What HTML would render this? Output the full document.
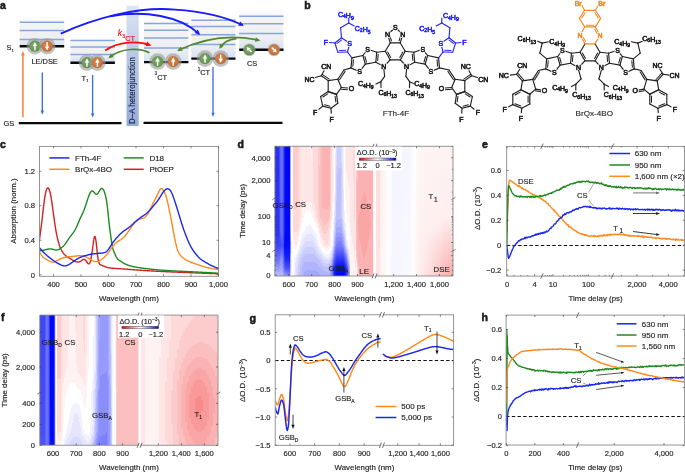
<!DOCTYPE html>
<html><head><meta charset="utf-8"><style>
html,body{margin:0;padding:0;background:#fff;width:685px;height:472px;overflow:hidden}
svg{display:block;will-change:transform}
svg{font-family:"Liberation Sans", sans-serif}
</style></head><body>
<svg width="685" height="472" viewBox="0 0 685 472">
<defs>
<clipPath id="clipc"><rect x="39.5" y="146.4" width="179" height="129.9"/></clipPath>
<clipPath id="clipe"><rect x="506.7" y="146.4" width="177.8" height="129.7"/></clipPath>
<clipPath id="clipg"><rect x="275.2" y="314.8" width="178.4" height="130.5"/></clipPath>
<clipPath id="cliph"><rect x="506.1" y="315.1" width="178.5" height="129.9"/></clipPath>
</defs>
<defs><linearGradient id="boxg" x1="0" y1="0" x2="0" y2="1"><stop offset="0" stop-color="#ffffff"/><stop offset="0.25" stop-color="#f4f4f5"/><stop offset="0.7" stop-color="#eeeff1"/><stop offset="1" stop-color="#d6e2f3"/></linearGradient><radialGradient id="gg" cx="0.45" cy="0.45" r="0.6"><stop offset="0" stop-color="#86b472"/><stop offset="1" stop-color="#5a8a48"/></radialGradient><radialGradient id="og" cx="0.45" cy="0.45" r="0.6"><stop offset="0" stop-color="#e08a4e"/><stop offset="1" stop-color="#b86a36"/></radialGradient><linearGradient id="dag" x1="0" y1="0" x2="0" y2="1"><stop offset="0" stop-color="#dde6f4"/><stop offset="0.4" stop-color="#bac9e8"/><stop offset="1" stop-color="#94addd"/></linearGradient></defs>
<text x="0" y="9.2" font-size="10.5" fill="#231f20" font-weight="bold" stroke="#111" stroke-width="0.5">a</text>
<rect x="126.5" y="5.6" width="12.2" height="120.5" fill="url(#dag)"/>
<text x="135.3" y="90.55" font-size="8.2" text-anchor="middle" fill="#16203a" transform="rotate(-90 135.3 90.55)" textLength="66.7" lengthAdjust="spacingAndGlyphs" stroke="#16203a" stroke-width="0.15">D–A heterojunction</text>
<line x1="18.8" y1="123.1" x2="121.5" y2="123.1" stroke="#0a0a0a" stroke-width="2.2"/>
<line x1="143.5" y1="122.8" x2="282.5" y2="122.8" stroke="#0a0a0a" stroke-width="2.2"/>
<text x="3.6" y="126" font-size="7.4" fill="#231f20" stroke="#231f20" stroke-width="0.16">GS</text>
<rect x="19.7" y="16.5" width="44.5" height="29.8" fill="url(#boxg)"/>
<line x1="19.7" y1="22.2" x2="64.2" y2="22.2" stroke="#88a6de" stroke-width="1.5"/>
<line x1="19.7" y1="30.5" x2="64.2" y2="30.5" stroke="#88a6de" stroke-width="1.5"/>
<line x1="19.7" y1="39.5" x2="64.2" y2="39.5" stroke="#88a6de" stroke-width="1.5"/>
<line x1="19.7" y1="46.3" x2="64.2" y2="46.3" stroke="#0a0a0a" stroke-width="2.4"/>
<rect x="70.4" y="37" width="44.5" height="25.7" fill="url(#boxg)"/>
<line x1="70.4" y1="40.4" x2="114.9" y2="40.4" stroke="#88a6de" stroke-width="1.5"/>
<line x1="70.4" y1="47.1" x2="114.9" y2="47.1" stroke="#88a6de" stroke-width="1.5"/>
<line x1="70.4" y1="54.5" x2="114.9" y2="54.5" stroke="#88a6de" stroke-width="1.5"/>
<line x1="70.4" y1="62.7" x2="114.9" y2="62.7" stroke="#0a0a0a" stroke-width="2.4"/>
<rect x="144" y="17" width="44.4" height="45.1" fill="url(#boxg)"/>
<line x1="144" y1="23.6" x2="188.4" y2="23.6" stroke="#88a6de" stroke-width="1.5"/>
<line x1="144" y1="30.3" x2="188.4" y2="30.3" stroke="#88a6de" stroke-width="1.5"/>
<line x1="144" y1="38.1" x2="188.4" y2="38.1" stroke="#88a6de" stroke-width="1.5"/>
<line x1="144" y1="48.1" x2="188.4" y2="48.1" stroke="#88a6de" stroke-width="1.5"/>
<line x1="144" y1="62.1" x2="188.4" y2="62.1" stroke="#0a0a0a" stroke-width="2.4"/>
<rect x="191.3" y="13" width="44.2" height="45.6" fill="url(#boxg)"/>
<line x1="191.3" y1="20.3" x2="235.5" y2="20.3" stroke="#88a6de" stroke-width="1.5"/>
<line x1="191.3" y1="26.6" x2="235.5" y2="26.6" stroke="#88a6de" stroke-width="1.5"/>
<line x1="191.3" y1="34.8" x2="235.5" y2="34.8" stroke="#88a6de" stroke-width="1.5"/>
<line x1="191.3" y1="44.5" x2="235.5" y2="44.5" stroke="#88a6de" stroke-width="1.5"/>
<line x1="191.3" y1="58.6" x2="235.5" y2="58.6" stroke="#0a0a0a" stroke-width="2.4"/>
<rect x="239.2" y="8" width="44.3" height="41.7" fill="url(#boxg)"/>
<line x1="239.2" y1="16.2" x2="283.5" y2="16.2" stroke="#88a6de" stroke-width="1.5"/>
<line x1="239.2" y1="23.8" x2="283.5" y2="23.8" stroke="#88a6de" stroke-width="1.5"/>
<line x1="239.2" y1="33.6" x2="283.5" y2="33.6" stroke="#88a6de" stroke-width="1.5"/>
<line x1="239.2" y1="49.7" x2="283.5" y2="49.7" stroke="#0a0a0a" stroke-width="2.4"/>
<text x="6.5" y="50.3" font-size="7.4" fill="#231f20" stroke="#231f20" stroke-width="0.16">S</text>
<text x="11.6" y="52.2" font-size="4.4" fill="#231f20" stroke="#231f20" stroke-width="0.16">1</text>
<line x1="22.9" y1="117.2" x2="22.9" y2="54.52" stroke="#f0884a" stroke-width="1.6"/>
<path d="M22.9 51 L24.8 55.4 L21 55.4Z" fill="#f0884a"/>
<line x1="42.3" y1="72.4" x2="42.3" y2="111.44" stroke="#3d6fd6" stroke-width="1.35"/>
<path d="M42.3 114.8 L40.6 110.6 L44 110.6Z" fill="#3d6fd6"/>
<line x1="92.6" y1="74.9" x2="92.6" y2="114.24" stroke="#3d6fd6" stroke-width="1.35"/>
<path d="M92.6 117.6 L90.9 113.4 L94.3 113.4Z" fill="#3d6fd6"/>
<line x1="213" y1="67" x2="213" y2="113.64" stroke="#3d6fd6" stroke-width="1.35"/>
<path d="M213 117 L211.3 112.8 L214.7 112.8Z" fill="#3d6fd6"/>
<circle cx="34.9" cy="46.2" r="8.3" fill="#9c9c9c" fill-opacity="0.62"/>
<circle cx="34.9" cy="46.2" r="5.6" fill="url(#gg)"/>
<path d="M34.9 41.9 L37 46 L35.6 46 L35.6 50.4 L34.2 50.4 L34.2 46 L32.8 46Z" fill="#fff"/>
<circle cx="47.1" cy="46.2" r="8.3" fill="#9c9c9c" fill-opacity="0.62"/>
<circle cx="47.1" cy="46.2" r="5.6" fill="url(#og)"/>
<path d="M47.1 50.5 L49.2 46.4 L47.8 46.4 L47.8 42 L46.4 42 L46.4 46.4 L45 46.4Z" fill="#fff"/>
<circle cx="87" cy="62.6" r="8.3" fill="#9c9c9c" fill-opacity="0.62"/>
<circle cx="87" cy="62.6" r="5.6" fill="url(#gg)"/>
<path d="M87 58.3 L89.1 62.4 L87.7 62.4 L87.7 66.8 L86.3 66.8 L86.3 62.4 L84.9 62.4Z" fill="#fff"/>
<circle cx="97.4" cy="62.6" r="8.3" fill="#9c9c9c" fill-opacity="0.62"/>
<circle cx="97.4" cy="62.6" r="5.6" fill="url(#og)"/>
<path d="M97.4 58.3 L99.5 62.4 L98.1 62.4 L98.1 66.8 L96.7 66.8 L96.7 62.4 L95.3 62.4Z" fill="#fff"/>
<circle cx="157.6" cy="61.6" r="8.3" fill="#9c9c9c" fill-opacity="0.62"/>
<circle cx="157.6" cy="61.6" r="5.6" fill="url(#gg)"/>
<path d="M157.6 57.3 L159.7 61.4 L158.3 61.4 L158.3 65.8 L156.9 65.8 L156.9 61.4 L155.5 61.4Z" fill="#fff"/>
<circle cx="173.2" cy="61.6" r="8.3" fill="#9c9c9c" fill-opacity="0.62"/>
<circle cx="173.2" cy="61.6" r="5.6" fill="url(#og)"/>
<path d="M173.2 57.3 L175.3 61.4 L173.9 61.4 L173.9 65.8 L172.5 65.8 L172.5 61.4 L171.1 61.4Z" fill="#fff"/>
<circle cx="205" cy="58.6" r="8.3" fill="#9c9c9c" fill-opacity="0.62"/>
<circle cx="205" cy="58.6" r="5.6" fill="url(#gg)"/>
<path d="M205 54.3 L207.1 58.4 L205.7 58.4 L205.7 62.8 L204.3 62.8 L204.3 58.4 L202.9 58.4Z" fill="#fff"/>
<circle cx="220.7" cy="58.6" r="8.3" fill="#9c9c9c" fill-opacity="0.62"/>
<circle cx="220.7" cy="58.6" r="5.6" fill="url(#og)"/>
<path d="M220.7 62.9 L222.8 58.8 L221.4 58.8 L221.4 54.4 L220 54.4 L220 58.8 L218.6 58.8Z" fill="#fff"/>
<circle cx="249.3" cy="49.8" r="6.4" fill="#9c9c9c" fill-opacity="0.62"/>
<circle cx="249.3" cy="49.8" r="5.5" fill="url(#gg)"/>
<line x1="251.6" y1="52.1" x2="249.03" y2="49.53" stroke="#fff" stroke-width="1.47"/>
<path d="M246.59 47.09 L250.55 48.13 L247.63 51.05Z" fill="#fff"/>
<circle cx="274" cy="49.8" r="6.4" fill="#9c9c9c" fill-opacity="0.62"/>
<circle cx="274" cy="49.8" r="5.5" fill="url(#og)"/>
<line x1="271.7" y1="47.5" x2="274.27" y2="50.07" stroke="#fff" stroke-width="1.47"/>
<path d="M276.71 52.51 L272.75 51.47 L275.67 48.55Z" fill="#fff"/>
<text x="31.5" y="63.8" font-size="7.4" fill="#231f20" stroke="#231f20" stroke-width="0.16">LE/DSE</text>
<text x="81.5" y="80.6" font-size="7.4" fill="#231f20" stroke="#231f20" stroke-width="0.16">T</text>
<text x="86.2" y="82.4" font-size="4.4" fill="#231f20" stroke="#231f20" stroke-width="0.16">1</text>
<text x="154.5" y="75" font-size="4.8" fill="#231f20" stroke="#231f20" stroke-width="0.16">3</text>
<text x="157.2" y="79.6" font-size="7.4" fill="#231f20" stroke="#231f20" stroke-width="0.16">CT</text>
<text x="197.8" y="70.5" font-size="4.8" fill="#231f20" stroke="#231f20" stroke-width="0.16">1</text>
<text x="200.2" y="75.3" font-size="7.4" fill="#231f20" stroke="#231f20" stroke-width="0.16">CT</text>
<text x="247" y="65.6" font-size="7.4" fill="#231f20" stroke="#231f20" stroke-width="0.16">CS</text>
<path d="M60.8 33.6 C95 18 140 6 175 9.6" fill="none" stroke="#1a1aff" stroke-width="1.9"/>
<path d="M175 9.6 C205 11.5 226 17 242.5 25.2" fill="none" stroke="#1a1aff" stroke-width="1.9"/>
<path d="M243.84 25.87 L238.12 25.7 L240.25 21.4Z" fill="#1a1aff"/>
<path d="M110 16.2 C145 10 180 16 199 33.9" fill="none" stroke="#1a1aff" stroke-width="1.9"/>
<path d="M200.09 34.93 L194.66 33.11 L197.95 29.62Z" fill="#1a1aff"/>
<path d="M105.3 50.6 C118 41 139 40.8 149.9 45.1" fill="none" stroke="#f51010" stroke-width="1.9"/>
<path d="M151.3 45.65 L145.58 45.97 L147.34 41.51Z" fill="#f51010"/>
<text x="117.8" y="36.4" font-size="8.4" fill="#f51010" font-style="italic" stroke="#f51010" stroke-width="0.16">k</text>
<text x="122.2" y="37.9" font-size="5.5" fill="#f51010" stroke="#f51010" stroke-width="0.16">3</text>
<text x="125.2" y="40.8" font-size="7.4" fill="#f51010" stroke="#f51010" stroke-width="0.16">CT</text>
<path d="M149.5 52.8 C140 47.5 121 47.8 109.6 57.4" fill="none" stroke="#4f8a2e" stroke-width="1.7"/>
<path d="M108.45 58.37 L110.8 53.39 L113.76 56.9Z" fill="#4f8a2e"/>
<path d="M178.5 50.3 C200 40 227 33 258.8 40.3" fill="none" stroke="#4f8a2e" stroke-width="1.7"/>
<path d="M260.26 40.64 L254.87 41.76 L255.9 37.28Z" fill="#4f8a2e"/>
<path d="M177.15 50.95 L180.66 46.71 L182.65 50.86Z" fill="#4f8a2e"/>
<path d="M236.5 38.6 C228 39.5 222.5 43.5 220.2 47.8" fill="none" stroke="#4f8a2e" stroke-width="1.7"/>
<path d="M219.49 49.12 L219.82 43.63 L223.88 45.8Z" fill="#4f8a2e"/>
<text x="304.3" y="8.9" font-size="10.5" fill="#231f20" font-weight="bold" stroke="#111" stroke-width="0.5">b</text>
<line x1="390.3" y1="42.8" x2="385.3" y2="51.2" stroke="#231f20" stroke-width="1.15" stroke-linecap="round"/>
<line x1="385.3" y1="51.2" x2="390.1" y2="59.8" stroke="#231f20" stroke-width="1.15" stroke-linecap="round"/>
<line x1="387.65" y1="51.92" x2="390.72" y2="57.42" stroke="#231f20" stroke-width="1.03" stroke-linecap="round"/>
<line x1="390.1" y1="59.8" x2="383.9" y2="66.5" stroke="#231f20" stroke-width="1.15" stroke-linecap="round"/>
<line x1="383.9" y1="66.5" x2="375.8" y2="62.2" stroke="#231f20" stroke-width="1.15" stroke-linecap="round"/>
<line x1="375.8" y1="62.2" x2="376.7" y2="52.2" stroke="#231f20" stroke-width="1.15" stroke-linecap="round"/>
<line x1="377.66" y1="60.55" x2="378.23" y2="54.15" stroke="#231f20" stroke-width="1.03" stroke-linecap="round"/>
<line x1="376.7" y1="52.2" x2="385.3" y2="51.2" stroke="#231f20" stroke-width="1.15" stroke-linecap="round"/>
<line x1="376.7" y1="52.2" x2="367.7" y2="49.3" stroke="#231f20" stroke-width="1.15" stroke-linecap="round"/>
<line x1="367.7" y1="49.3" x2="362.9" y2="55.5" stroke="#231f20" stroke-width="1.15" stroke-linecap="round"/>
<line x1="362.9" y1="55.5" x2="365.3" y2="64.1" stroke="#231f20" stroke-width="1.15" stroke-linecap="round"/>
<line x1="364.97" y1="56.59" x2="366.51" y2="62.1" stroke="#231f20" stroke-width="1.03" stroke-linecap="round"/>
<line x1="365.3" y1="64.1" x2="375.8" y2="62.2" stroke="#231f20" stroke-width="1.15" stroke-linecap="round"/>
<line x1="362.9" y1="55.5" x2="351.9" y2="57.9" stroke="#231f20" stroke-width="1.15" stroke-linecap="round"/>
<line x1="351.9" y1="57.9" x2="351" y2="67.9" stroke="#231f20" stroke-width="1.15" stroke-linecap="round"/>
<line x1="353.43" y1="59.85" x2="352.86" y2="66.25" stroke="#231f20" stroke-width="1.03" stroke-linecap="round"/>
<line x1="351" y1="67.9" x2="359.6" y2="71.7" stroke="#231f20" stroke-width="1.15" stroke-linecap="round"/>
<line x1="359.6" y1="71.7" x2="365.3" y2="64.1" stroke="#231f20" stroke-width="1.15" stroke-linecap="round"/>
<text x="383.9" y="69" font-size="7" text-anchor="middle" fill="#231f20" stroke="#fff" stroke-width="2.2" paint-order="stroke" stroke-linejoin="round">N</text>
<text x="383.9" y="69" font-size="7" text-anchor="middle" fill="#231f20" stroke="#231f20" stroke-width="0.5">N</text>
<text x="367.7" y="51.8" font-size="7" text-anchor="middle" fill="#231f20" stroke="#fff" stroke-width="2.2" paint-order="stroke" stroke-linejoin="round">S</text>
<text x="367.7" y="51.8" font-size="7" text-anchor="middle" fill="#231f20" stroke="#231f20" stroke-width="0.5">S</text>
<text x="359.6" y="74.2" font-size="7" text-anchor="middle" fill="#231f20" stroke="#fff" stroke-width="2.2" paint-order="stroke" stroke-linejoin="round">S</text>
<text x="359.6" y="74.2" font-size="7" text-anchor="middle" fill="#231f20" stroke="#231f20" stroke-width="0.5">S</text>
<line x1="351" y1="67.9" x2="344" y2="70" stroke="#231f20" stroke-width="1.15" stroke-linecap="round"/>
<line x1="344" y1="70" x2="337.8" y2="79.3" stroke="#231f20" stroke-width="1.15" stroke-linecap="round"/>
<line x1="345.1" y1="71.41" x2="339.52" y2="79.78" stroke="#231f20" stroke-width="1.03" stroke-linecap="round"/>
<line x1="337.8" y1="79.3" x2="328.2" y2="80.6" stroke="#231f20" stroke-width="1.15" stroke-linecap="round"/>
<line x1="328.2" y1="80.6" x2="328.2" y2="91.6" stroke="#231f20" stroke-width="1.15" stroke-linecap="round"/>
<line x1="328.2" y1="91.6" x2="336.5" y2="94.4" stroke="#231f20" stroke-width="1.15" stroke-linecap="round"/>
<line x1="336.5" y1="94.4" x2="341.3" y2="87.5" stroke="#231f20" stroke-width="1.15" stroke-linecap="round"/>
<line x1="341.3" y1="87.5" x2="337.8" y2="79.3" stroke="#231f20" stroke-width="1.15" stroke-linecap="round"/>
<line x1="341.3" y1="87.5" x2="347.76" y2="88.01" stroke="#231f20" stroke-width="1.15" stroke-linecap="round"/>
<line x1="341.17" y1="89.19" x2="347.63" y2="89.71" stroke="#231f20" stroke-width="1.03" stroke-linecap="round"/>
<text x="351.4" y="90.8" font-size="7" text-anchor="middle" fill="#231f20" stroke="#fff" stroke-width="2.2" paint-order="stroke" stroke-linejoin="round">O</text>
<text x="351.4" y="90.8" font-size="7" text-anchor="middle" fill="#231f20" stroke="#231f20" stroke-width="0.5">O</text>
<line x1="328.2" y1="80.6" x2="321.3" y2="75.8" stroke="#231f20" stroke-width="1.15" stroke-linecap="round"/>
<line x1="329.17" y1="79.2" x2="322.27" y2="74.4" stroke="#231f20" stroke-width="1.03" stroke-linecap="round"/>
<line x1="321.3" y1="75.8" x2="324" y2="70.74" stroke="#231f20" stroke-width="1.15" stroke-linecap="round"/>
<line x1="321.3" y1="75.8" x2="315.45" y2="77.55" stroke="#231f20" stroke-width="1.15" stroke-linecap="round"/>
<line x1="328.2" y1="91.6" x2="336.5" y2="94.4" stroke="#231f20" stroke-width="1.15" stroke-linecap="round"/>
<line x1="336.5" y1="94.4" x2="337.8" y2="103.3" stroke="#231f20" stroke-width="1.15" stroke-linecap="round"/>
<line x1="335.05" y1="96.25" x2="335.88" y2="101.94" stroke="#231f20" stroke-width="1.03" stroke-linecap="round"/>
<line x1="337.8" y1="103.3" x2="331" y2="108.2" stroke="#231f20" stroke-width="1.15" stroke-linecap="round"/>
<line x1="331" y1="108.2" x2="322.7" y2="106.1" stroke="#231f20" stroke-width="1.15" stroke-linecap="round"/>
<line x1="329.92" y1="106.17" x2="324.61" y2="104.83" stroke="#231f20" stroke-width="1.03" stroke-linecap="round"/>
<line x1="322.7" y1="106.1" x2="320.6" y2="96.5" stroke="#231f20" stroke-width="1.15" stroke-linecap="round"/>
<line x1="320.6" y1="96.5" x2="328.2" y2="91.6" stroke="#231f20" stroke-width="1.15" stroke-linecap="round"/>
<line x1="322.89" y1="97.05" x2="327.75" y2="93.91" stroke="#231f20" stroke-width="1.03" stroke-linecap="round"/>
<line x1="322.7" y1="106.1" x2="318.9" y2="109.2" stroke="#231f20" stroke-width="1.15" stroke-linecap="round"/>
<line x1="331" y1="108.2" x2="331.27" y2="113.15" stroke="#231f20" stroke-width="1.15" stroke-linecap="round"/>
<text x="315.1" y="114.8" font-size="7" text-anchor="middle" fill="#231f20" stroke="#fff" stroke-width="2.2" paint-order="stroke" stroke-linejoin="round">F</text>
<text x="315.1" y="114.8" font-size="7" text-anchor="middle" fill="#231f20" stroke="#231f20" stroke-width="0.5">F</text>
<text x="331.6" y="121.7" font-size="7" text-anchor="middle" fill="#231f20" stroke="#fff" stroke-width="2.2" paint-order="stroke" stroke-linejoin="round">F</text>
<text x="331.6" y="121.7" font-size="7" text-anchor="middle" fill="#231f20" stroke="#231f20" stroke-width="0.5">F</text>
<line x1="400.2" y1="42.8" x2="405.2" y2="51.2" stroke="#231f20" stroke-width="1.15" stroke-linecap="round"/>
<line x1="405.2" y1="51.2" x2="400.4" y2="59.8" stroke="#231f20" stroke-width="1.15" stroke-linecap="round"/>
<line x1="402.85" y1="51.92" x2="399.78" y2="57.42" stroke="#231f20" stroke-width="1.03" stroke-linecap="round"/>
<line x1="400.4" y1="59.8" x2="406.6" y2="66.5" stroke="#231f20" stroke-width="1.15" stroke-linecap="round"/>
<line x1="406.6" y1="66.5" x2="414.7" y2="62.2" stroke="#231f20" stroke-width="1.15" stroke-linecap="round"/>
<line x1="414.7" y1="62.2" x2="413.8" y2="52.2" stroke="#231f20" stroke-width="1.15" stroke-linecap="round"/>
<line x1="412.84" y1="60.55" x2="412.27" y2="54.15" stroke="#231f20" stroke-width="1.03" stroke-linecap="round"/>
<line x1="413.8" y1="52.2" x2="405.2" y2="51.2" stroke="#231f20" stroke-width="1.15" stroke-linecap="round"/>
<line x1="413.8" y1="52.2" x2="422.8" y2="49.3" stroke="#231f20" stroke-width="1.15" stroke-linecap="round"/>
<line x1="422.8" y1="49.3" x2="427.6" y2="55.5" stroke="#231f20" stroke-width="1.15" stroke-linecap="round"/>
<line x1="427.6" y1="55.5" x2="425.2" y2="64.1" stroke="#231f20" stroke-width="1.15" stroke-linecap="round"/>
<line x1="425.53" y1="56.59" x2="423.99" y2="62.1" stroke="#231f20" stroke-width="1.03" stroke-linecap="round"/>
<line x1="425.2" y1="64.1" x2="414.7" y2="62.2" stroke="#231f20" stroke-width="1.15" stroke-linecap="round"/>
<line x1="427.6" y1="55.5" x2="438.6" y2="57.9" stroke="#231f20" stroke-width="1.15" stroke-linecap="round"/>
<line x1="438.6" y1="57.9" x2="439.5" y2="67.9" stroke="#231f20" stroke-width="1.15" stroke-linecap="round"/>
<line x1="437.07" y1="59.85" x2="437.64" y2="66.25" stroke="#231f20" stroke-width="1.03" stroke-linecap="round"/>
<line x1="439.5" y1="67.9" x2="430.9" y2="71.7" stroke="#231f20" stroke-width="1.15" stroke-linecap="round"/>
<line x1="430.9" y1="71.7" x2="425.2" y2="64.1" stroke="#231f20" stroke-width="1.15" stroke-linecap="round"/>
<text x="406.6" y="69" font-size="7" text-anchor="middle" fill="#231f20" stroke="#fff" stroke-width="2.2" paint-order="stroke" stroke-linejoin="round">N</text>
<text x="406.6" y="69" font-size="7" text-anchor="middle" fill="#231f20" stroke="#231f20" stroke-width="0.5">N</text>
<text x="422.8" y="51.8" font-size="7" text-anchor="middle" fill="#231f20" stroke="#fff" stroke-width="2.2" paint-order="stroke" stroke-linejoin="round">S</text>
<text x="422.8" y="51.8" font-size="7" text-anchor="middle" fill="#231f20" stroke="#231f20" stroke-width="0.5">S</text>
<text x="430.9" y="74.2" font-size="7" text-anchor="middle" fill="#231f20" stroke="#fff" stroke-width="2.2" paint-order="stroke" stroke-linejoin="round">S</text>
<text x="430.9" y="74.2" font-size="7" text-anchor="middle" fill="#231f20" stroke="#231f20" stroke-width="0.5">S</text>
<line x1="439.5" y1="67.9" x2="449" y2="70" stroke="#231f20" stroke-width="1.15" stroke-linecap="round"/>
<line x1="449" y1="70" x2="455.2" y2="79.3" stroke="#231f20" stroke-width="1.15" stroke-linecap="round"/>
<line x1="447.9" y1="71.41" x2="453.48" y2="79.78" stroke="#231f20" stroke-width="1.03" stroke-linecap="round"/>
<line x1="455.2" y1="79.3" x2="464.8" y2="80.6" stroke="#231f20" stroke-width="1.15" stroke-linecap="round"/>
<line x1="464.8" y1="80.6" x2="464.8" y2="91.6" stroke="#231f20" stroke-width="1.15" stroke-linecap="round"/>
<line x1="464.8" y1="91.6" x2="456.5" y2="94.4" stroke="#231f20" stroke-width="1.15" stroke-linecap="round"/>
<line x1="456.5" y1="94.4" x2="451.7" y2="87.5" stroke="#231f20" stroke-width="1.15" stroke-linecap="round"/>
<line x1="451.7" y1="87.5" x2="455.2" y2="79.3" stroke="#231f20" stroke-width="1.15" stroke-linecap="round"/>
<line x1="451.7" y1="87.5" x2="445.24" y2="88.01" stroke="#231f20" stroke-width="1.15" stroke-linecap="round"/>
<line x1="451.83" y1="89.19" x2="445.37" y2="89.71" stroke="#231f20" stroke-width="1.03" stroke-linecap="round"/>
<text x="441.6" y="90.8" font-size="7" text-anchor="middle" fill="#231f20" stroke="#fff" stroke-width="2.2" paint-order="stroke" stroke-linejoin="round">O</text>
<text x="441.6" y="90.8" font-size="7" text-anchor="middle" fill="#231f20" stroke="#231f20" stroke-width="0.5">O</text>
<line x1="464.8" y1="80.6" x2="471.7" y2="75.8" stroke="#231f20" stroke-width="1.15" stroke-linecap="round"/>
<line x1="463.83" y1="79.2" x2="470.73" y2="74.4" stroke="#231f20" stroke-width="1.03" stroke-linecap="round"/>
<line x1="471.7" y1="75.8" x2="469" y2="70.74" stroke="#231f20" stroke-width="1.15" stroke-linecap="round"/>
<line x1="471.7" y1="75.8" x2="477.55" y2="77.55" stroke="#231f20" stroke-width="1.15" stroke-linecap="round"/>
<line x1="464.8" y1="91.6" x2="456.5" y2="94.4" stroke="#231f20" stroke-width="1.15" stroke-linecap="round"/>
<line x1="456.5" y1="94.4" x2="455.2" y2="103.3" stroke="#231f20" stroke-width="1.15" stroke-linecap="round"/>
<line x1="457.95" y1="96.25" x2="457.12" y2="101.94" stroke="#231f20" stroke-width="1.03" stroke-linecap="round"/>
<line x1="455.2" y1="103.3" x2="462" y2="108.2" stroke="#231f20" stroke-width="1.15" stroke-linecap="round"/>
<line x1="462" y1="108.2" x2="470.3" y2="106.1" stroke="#231f20" stroke-width="1.15" stroke-linecap="round"/>
<line x1="463.08" y1="106.17" x2="468.39" y2="104.83" stroke="#231f20" stroke-width="1.03" stroke-linecap="round"/>
<line x1="470.3" y1="106.1" x2="472.4" y2="96.5" stroke="#231f20" stroke-width="1.15" stroke-linecap="round"/>
<line x1="472.4" y1="96.5" x2="464.8" y2="91.6" stroke="#231f20" stroke-width="1.15" stroke-linecap="round"/>
<line x1="470.11" y1="97.05" x2="465.25" y2="93.91" stroke="#231f20" stroke-width="1.03" stroke-linecap="round"/>
<line x1="470.3" y1="106.1" x2="474.1" y2="109.2" stroke="#231f20" stroke-width="1.15" stroke-linecap="round"/>
<line x1="462" y1="108.2" x2="461.73" y2="113.15" stroke="#231f20" stroke-width="1.15" stroke-linecap="round"/>
<text x="477.9" y="114.8" font-size="7" text-anchor="middle" fill="#231f20" stroke="#fff" stroke-width="2.2" paint-order="stroke" stroke-linejoin="round">F</text>
<text x="477.9" y="114.8" font-size="7" text-anchor="middle" fill="#231f20" stroke="#231f20" stroke-width="0.5">F</text>
<text x="461.4" y="121.7" font-size="7" text-anchor="middle" fill="#231f20" stroke="#fff" stroke-width="2.2" paint-order="stroke" stroke-linejoin="round">F</text>
<text x="461.4" y="121.7" font-size="7" text-anchor="middle" fill="#231f20" stroke="#231f20" stroke-width="0.5">F</text>
<line x1="390.3" y1="42.8" x2="400.2" y2="42.8" stroke="#231f20" stroke-width="1.15" stroke-linecap="round"/>
<line x1="390.1" y1="59.8" x2="400.4" y2="59.8" stroke="#231f20" stroke-width="1.15" stroke-linecap="round"/>
<line x1="390.3" y1="42.8" x2="387.6" y2="34.3" stroke="#231f20" stroke-width="1.15" stroke-linecap="round"/>
<line x1="391.43" y1="40.76" x2="389.71" y2="35.32" stroke="#231f20" stroke-width="1.03" stroke-linecap="round"/>
<line x1="400.2" y1="42.8" x2="402.9" y2="34.3" stroke="#231f20" stroke-width="1.15" stroke-linecap="round"/>
<line x1="399.07" y1="40.76" x2="400.79" y2="35.32" stroke="#231f20" stroke-width="1.03" stroke-linecap="round"/>
<line x1="387.6" y1="34.3" x2="395.25" y2="27.8" stroke="#231f20" stroke-width="1.15" stroke-linecap="round"/>
<line x1="402.9" y1="34.3" x2="395.25" y2="27.8" stroke="#231f20" stroke-width="1.15" stroke-linecap="round"/>
<text x="387.6" y="36.8" font-size="7" text-anchor="middle" fill="#231f20" stroke="#fff" stroke-width="2.2" paint-order="stroke" stroke-linejoin="round">N</text>
<text x="387.6" y="36.8" font-size="7" text-anchor="middle" fill="#231f20" stroke="#231f20" stroke-width="0.5">N</text>
<text x="402.9" y="36.8" font-size="7" text-anchor="middle" fill="#231f20" stroke="#fff" stroke-width="2.2" paint-order="stroke" stroke-linejoin="round">N</text>
<text x="402.9" y="36.8" font-size="7" text-anchor="middle" fill="#231f20" stroke="#231f20" stroke-width="0.5">N</text>
<text x="395.25" y="30.3" font-size="7" text-anchor="middle" fill="#231f20" stroke="#fff" stroke-width="2.2" paint-order="stroke" stroke-linejoin="round">S</text>
<text x="395.25" y="30.3" font-size="7" text-anchor="middle" fill="#231f20" stroke="#231f20" stroke-width="0.5">S</text>
<line x1="351.9" y1="57.9" x2="347.5" y2="52" stroke="#2626ff" stroke-width="1.15" stroke-linecap="round"/>
<line x1="347.5" y1="52" x2="349.7" y2="43.2" stroke="#2626ff" stroke-width="1.15" stroke-linecap="round"/>
<line x1="349.7" y1="43.2" x2="341.5" y2="37.8" stroke="#2626ff" stroke-width="1.15" stroke-linecap="round"/>
<line x1="341.5" y1="37.8" x2="334.9" y2="43" stroke="#2626ff" stroke-width="1.15" stroke-linecap="round"/>
<line x1="341.36" y1="40.07" x2="337.14" y2="43.4" stroke="#2626ff" stroke-width="1.03" stroke-linecap="round"/>
<line x1="334.9" y1="43" x2="337.8" y2="52.2" stroke="#2626ff" stroke-width="1.15" stroke-linecap="round"/>
<line x1="337.8" y1="52.2" x2="347.5" y2="52" stroke="#2626ff" stroke-width="1.15" stroke-linecap="round"/>
<line x1="339.51" y1="50.46" x2="345.72" y2="50.34" stroke="#2626ff" stroke-width="1.03" stroke-linecap="round"/>
<text x="349.7" y="45.7" font-size="7" text-anchor="middle" fill="#2626ff" stroke="#fff" stroke-width="2.2" paint-order="stroke" stroke-linejoin="round">S</text>
<text x="349.7" y="45.7" font-size="7" text-anchor="middle" fill="#2626ff" stroke="#2626ff" stroke-width="0.5">S</text>
<line x1="334.9" y1="43" x2="329.5" y2="42.5" stroke="#2626ff" stroke-width="1.15" stroke-linecap="round"/>
<text x="326" y="44.7" font-size="7" text-anchor="middle" fill="#2626ff" stroke="#fff" stroke-width="2.2" paint-order="stroke" stroke-linejoin="round">F</text>
<text x="326" y="44.7" font-size="7" text-anchor="middle" fill="#2626ff" stroke="#2626ff" stroke-width="0.5">F</text>
<line x1="341.5" y1="37.8" x2="340.6" y2="27.8" stroke="#2626ff" stroke-width="1.15" stroke-linecap="round"/>
<line x1="340.6" y1="27.8" x2="348.7" y2="23" stroke="#2626ff" stroke-width="1.15" stroke-linecap="round"/>
<line x1="348.7" y1="23" x2="348.7" y2="18" stroke="#2626ff" stroke-width="1.15" stroke-linecap="round"/>
<line x1="348.7" y1="23" x2="354.3" y2="26" stroke="#2626ff" stroke-width="1.15" stroke-linecap="round"/>
<line x1="438.6" y1="57.9" x2="443" y2="52" stroke="#2626ff" stroke-width="1.15" stroke-linecap="round"/>
<line x1="443" y1="52" x2="440.8" y2="43.2" stroke="#2626ff" stroke-width="1.15" stroke-linecap="round"/>
<line x1="440.8" y1="43.2" x2="449" y2="37.8" stroke="#2626ff" stroke-width="1.15" stroke-linecap="round"/>
<line x1="449" y1="37.8" x2="455.6" y2="43" stroke="#2626ff" stroke-width="1.15" stroke-linecap="round"/>
<line x1="449.14" y1="40.07" x2="453.36" y2="43.4" stroke="#2626ff" stroke-width="1.03" stroke-linecap="round"/>
<line x1="455.6" y1="43" x2="452.7" y2="52.2" stroke="#2626ff" stroke-width="1.15" stroke-linecap="round"/>
<line x1="452.7" y1="52.2" x2="443" y2="52" stroke="#2626ff" stroke-width="1.15" stroke-linecap="round"/>
<line x1="450.99" y1="50.46" x2="444.78" y2="50.34" stroke="#2626ff" stroke-width="1.03" stroke-linecap="round"/>
<text x="440.8" y="45.7" font-size="7" text-anchor="middle" fill="#2626ff" stroke="#fff" stroke-width="2.2" paint-order="stroke" stroke-linejoin="round">S</text>
<text x="440.8" y="45.7" font-size="7" text-anchor="middle" fill="#2626ff" stroke="#2626ff" stroke-width="0.5">S</text>
<line x1="455.6" y1="43" x2="461" y2="42.5" stroke="#2626ff" stroke-width="1.15" stroke-linecap="round"/>
<text x="464.5" y="44.7" font-size="7" text-anchor="middle" fill="#2626ff" stroke="#fff" stroke-width="2.2" paint-order="stroke" stroke-linejoin="round">F</text>
<text x="464.5" y="44.7" font-size="7" text-anchor="middle" fill="#2626ff" stroke="#2626ff" stroke-width="0.5">F</text>
<line x1="449" y1="37.8" x2="449.9" y2="27.8" stroke="#2626ff" stroke-width="1.15" stroke-linecap="round"/>
<line x1="449.9" y1="27.8" x2="441.8" y2="23" stroke="#2626ff" stroke-width="1.15" stroke-linecap="round"/>
<line x1="441.8" y1="23" x2="441.8" y2="18" stroke="#2626ff" stroke-width="1.15" stroke-linecap="round"/>
<line x1="441.8" y1="23" x2="436.2" y2="26" stroke="#2626ff" stroke-width="1.15" stroke-linecap="round"/>
<text x="338" y="16.6" font-size="7" fill="#2626ff" stroke="#fff" stroke-width="1.6" paint-order="stroke" stroke-linejoin="round">C<tspan font-size="5.0" dy="1.6">4</tspan><tspan dy="-1.6"></tspan>H<tspan font-size="5.0" dy="1.6">9</tspan><tspan dy="-1.6"></tspan></text>
<text x="338" y="16.6" font-size="7" fill="#2626ff" stroke="#2626ff" stroke-width="0.5">C<tspan font-size="5.0" dy="1.6">4</tspan><tspan dy="-1.6"></tspan>H<tspan font-size="5.0" dy="1.6">9</tspan><tspan dy="-1.6"></tspan></text>
<text x="354.8" y="30.8" font-size="7" fill="#2626ff" stroke="#fff" stroke-width="1.6" paint-order="stroke" stroke-linejoin="round">C<tspan font-size="5.0" dy="1.6">2</tspan><tspan dy="-1.6"></tspan>H<tspan font-size="5.0" dy="1.6">5</tspan><tspan dy="-1.6"></tspan></text>
<text x="354.8" y="30.8" font-size="7" fill="#2626ff" stroke="#2626ff" stroke-width="0.5">C<tspan font-size="5.0" dy="1.6">2</tspan><tspan dy="-1.6"></tspan>H<tspan font-size="5.0" dy="1.6">5</tspan><tspan dy="-1.6"></tspan></text>
<text x="443" y="18.1" font-size="7" fill="#2626ff" stroke="#fff" stroke-width="1.6" paint-order="stroke" stroke-linejoin="round">C<tspan font-size="5.0" dy="1.6">4</tspan><tspan dy="-1.6"></tspan>H<tspan font-size="5.0" dy="1.6">9</tspan><tspan dy="-1.6"></tspan></text>
<text x="443" y="18.1" font-size="7" fill="#2626ff" stroke="#2626ff" stroke-width="0.5">C<tspan font-size="5.0" dy="1.6">4</tspan><tspan dy="-1.6"></tspan>H<tspan font-size="5.0" dy="1.6">9</tspan><tspan dy="-1.6"></tspan></text>
<text x="419.3" y="30.8" font-size="7" fill="#2626ff" stroke="#fff" stroke-width="1.6" paint-order="stroke" stroke-linejoin="round">C<tspan font-size="5.0" dy="1.6">2</tspan><tspan dy="-1.6"></tspan>H<tspan font-size="5.0" dy="1.6">5</tspan><tspan dy="-1.6"></tspan></text>
<text x="419.3" y="30.8" font-size="7" fill="#2626ff" stroke="#2626ff" stroke-width="0.5">C<tspan font-size="5.0" dy="1.6">2</tspan><tspan dy="-1.6"></tspan>H<tspan font-size="5.0" dy="1.6">5</tspan><tspan dy="-1.6"></tspan></text>
<line x1="383.9" y1="69.3" x2="384.6" y2="76.3" stroke="#231f20" stroke-width="1.15" stroke-linecap="round"/>
<line x1="384.6" y1="76.3" x2="380.9" y2="81.7" stroke="#231f20" stroke-width="1.15" stroke-linecap="round"/>
<line x1="380.9" y1="81.7" x2="376" y2="84" stroke="#231f20" stroke-width="1.15" stroke-linecap="round"/>
<line x1="380.9" y1="81.7" x2="381" y2="87.6" stroke="#231f20" stroke-width="1.15" stroke-linecap="round"/>
<line x1="406.6" y1="69.3" x2="405.9" y2="76.3" stroke="#231f20" stroke-width="1.15" stroke-linecap="round"/>
<line x1="405.9" y1="76.3" x2="409.6" y2="81.7" stroke="#231f20" stroke-width="1.15" stroke-linecap="round"/>
<line x1="409.6" y1="81.7" x2="414.5" y2="84" stroke="#231f20" stroke-width="1.15" stroke-linecap="round"/>
<line x1="409.6" y1="81.7" x2="409.5" y2="87.6" stroke="#231f20" stroke-width="1.15" stroke-linecap="round"/>
<text x="357.9" y="85.9" font-size="7" fill="#231f20" stroke="#fff" stroke-width="1.6" paint-order="stroke" stroke-linejoin="round">C<tspan font-size="5.0" dy="1.6">4</tspan><tspan dy="-1.6"></tspan>H<tspan font-size="5.0" dy="1.6">9</tspan><tspan dy="-1.6"></tspan></text>
<text x="357.9" y="85.9" font-size="7" fill="#231f20" stroke="#231f20" stroke-width="0.5">C<tspan font-size="5.0" dy="1.6">4</tspan><tspan dy="-1.6"></tspan>H<tspan font-size="5.0" dy="1.6">9</tspan><tspan dy="-1.6"></tspan></text>
<text x="378.4" y="94.5" font-size="7" fill="#231f20" stroke="#fff" stroke-width="1.6" paint-order="stroke" stroke-linejoin="round">C<tspan font-size="5.0" dy="1.6">6</tspan><tspan dy="-1.6"></tspan>H<tspan font-size="5.0" dy="1.6">13</tspan><tspan dy="-1.6"></tspan></text>
<text x="378.4" y="94.5" font-size="7" fill="#231f20" stroke="#231f20" stroke-width="0.5">C<tspan font-size="5.0" dy="1.6">6</tspan><tspan dy="-1.6"></tspan>H<tspan font-size="5.0" dy="1.6">13</tspan><tspan dy="-1.6"></tspan></text>
<text x="414.2" y="85.9" font-size="7" fill="#231f20" stroke="#fff" stroke-width="1.6" paint-order="stroke" stroke-linejoin="round">C<tspan font-size="5.0" dy="1.6">4</tspan><tspan dy="-1.6"></tspan>H<tspan font-size="5.0" dy="1.6">9</tspan><tspan dy="-1.6"></tspan></text>
<text x="414.2" y="85.9" font-size="7" fill="#231f20" stroke="#231f20" stroke-width="0.5">C<tspan font-size="5.0" dy="1.6">4</tspan><tspan dy="-1.6"></tspan>H<tspan font-size="5.0" dy="1.6">9</tspan><tspan dy="-1.6"></tspan></text>
<text x="405.4" y="94.5" font-size="7" fill="#231f20" stroke="#fff" stroke-width="1.6" paint-order="stroke" stroke-linejoin="round">C<tspan font-size="5.0" dy="1.6">6</tspan><tspan dy="-1.6"></tspan>H<tspan font-size="5.0" dy="1.6">13</tspan><tspan dy="-1.6"></tspan></text>
<text x="405.4" y="94.5" font-size="7" fill="#231f20" stroke="#231f20" stroke-width="0.5">C<tspan font-size="5.0" dy="1.6">6</tspan><tspan dy="-1.6"></tspan>H<tspan font-size="5.0" dy="1.6">13</tspan><tspan dy="-1.6"></tspan></text>
<text x="321.3" y="69.2" font-size="7" fill="#231f20" stroke="#fff" stroke-width="1.6" paint-order="stroke" stroke-linejoin="round">CN</text>
<text x="321.3" y="69.2" font-size="7" fill="#231f20" stroke="#231f20" stroke-width="0.5">CN</text>
<text x="304.5" y="81.8" font-size="7" fill="#231f20" stroke="#fff" stroke-width="1.6" paint-order="stroke" stroke-linejoin="round">NC</text>
<text x="304.5" y="81.8" font-size="7" fill="#231f20" stroke="#231f20" stroke-width="0.5">NC</text>
<text x="460.8" y="69.2" font-size="7" fill="#231f20" stroke="#fff" stroke-width="1.6" paint-order="stroke" stroke-linejoin="round">NC</text>
<text x="460.8" y="69.2" font-size="7" fill="#231f20" stroke="#231f20" stroke-width="0.5">NC</text>
<text x="478.2" y="81.8" font-size="7" fill="#231f20" stroke="#fff" stroke-width="1.6" paint-order="stroke" stroke-linejoin="round">CN</text>
<text x="478.2" y="81.8" font-size="7" fill="#231f20" stroke="#231f20" stroke-width="0.5">CN</text>
<text x="382.7" y="115.9" font-size="8.1" fill="#2a2a2a" stroke="#2a2a2a" stroke-width="0.16">FTh-4F</text>
<line x1="585.05" y1="43.8" x2="580.05" y2="52.2" stroke="#231f20" stroke-width="1.15" stroke-linecap="round"/>
<line x1="580.05" y1="52.2" x2="584.85" y2="60.8" stroke="#231f20" stroke-width="1.15" stroke-linecap="round"/>
<line x1="582.4" y1="52.92" x2="585.47" y2="58.42" stroke="#231f20" stroke-width="1.03" stroke-linecap="round"/>
<line x1="584.85" y1="60.8" x2="578.65" y2="67.5" stroke="#231f20" stroke-width="1.15" stroke-linecap="round"/>
<line x1="578.65" y1="67.5" x2="570.55" y2="63.2" stroke="#231f20" stroke-width="1.15" stroke-linecap="round"/>
<line x1="570.55" y1="63.2" x2="571.45" y2="53.2" stroke="#231f20" stroke-width="1.15" stroke-linecap="round"/>
<line x1="572.41" y1="61.55" x2="572.98" y2="55.15" stroke="#231f20" stroke-width="1.03" stroke-linecap="round"/>
<line x1="571.45" y1="53.2" x2="580.05" y2="52.2" stroke="#231f20" stroke-width="1.15" stroke-linecap="round"/>
<line x1="571.45" y1="53.2" x2="562.45" y2="50.3" stroke="#231f20" stroke-width="1.15" stroke-linecap="round"/>
<line x1="562.45" y1="50.3" x2="557.65" y2="56.5" stroke="#231f20" stroke-width="1.15" stroke-linecap="round"/>
<line x1="557.65" y1="56.5" x2="560.05" y2="65.1" stroke="#231f20" stroke-width="1.15" stroke-linecap="round"/>
<line x1="559.72" y1="57.59" x2="561.26" y2="63.1" stroke="#231f20" stroke-width="1.03" stroke-linecap="round"/>
<line x1="560.05" y1="65.1" x2="570.55" y2="63.2" stroke="#231f20" stroke-width="1.15" stroke-linecap="round"/>
<line x1="557.65" y1="56.5" x2="546.65" y2="58.9" stroke="#231f20" stroke-width="1.15" stroke-linecap="round"/>
<line x1="546.65" y1="58.9" x2="545.75" y2="68.9" stroke="#231f20" stroke-width="1.15" stroke-linecap="round"/>
<line x1="548.18" y1="60.85" x2="547.61" y2="67.25" stroke="#231f20" stroke-width="1.03" stroke-linecap="round"/>
<line x1="545.75" y1="68.9" x2="554.35" y2="72.7" stroke="#231f20" stroke-width="1.15" stroke-linecap="round"/>
<line x1="554.35" y1="72.7" x2="560.05" y2="65.1" stroke="#231f20" stroke-width="1.15" stroke-linecap="round"/>
<text x="578.65" y="70" font-size="7" text-anchor="middle" fill="#231f20" stroke="#fff" stroke-width="2.2" paint-order="stroke" stroke-linejoin="round">N</text>
<text x="578.65" y="70" font-size="7" text-anchor="middle" fill="#231f20" stroke="#231f20" stroke-width="0.5">N</text>
<text x="562.45" y="52.8" font-size="7" text-anchor="middle" fill="#231f20" stroke="#fff" stroke-width="2.2" paint-order="stroke" stroke-linejoin="round">S</text>
<text x="562.45" y="52.8" font-size="7" text-anchor="middle" fill="#231f20" stroke="#231f20" stroke-width="0.5">S</text>
<text x="554.35" y="75.2" font-size="7" text-anchor="middle" fill="#231f20" stroke="#fff" stroke-width="2.2" paint-order="stroke" stroke-linejoin="round">S</text>
<text x="554.35" y="75.2" font-size="7" text-anchor="middle" fill="#231f20" stroke="#231f20" stroke-width="0.5">S</text>
<line x1="545.75" y1="68.9" x2="538.4" y2="70.5" stroke="#231f20" stroke-width="1.15" stroke-linecap="round"/>
<line x1="538.4" y1="70.5" x2="532.8" y2="79.4" stroke="#231f20" stroke-width="1.15" stroke-linecap="round"/>
<line x1="539.56" y1="71.85" x2="534.52" y2="79.86" stroke="#231f20" stroke-width="1.03" stroke-linecap="round"/>
<line x1="532.8" y1="79.4" x2="522.4" y2="80.9" stroke="#231f20" stroke-width="1.15" stroke-linecap="round"/>
<line x1="522.4" y1="80.9" x2="520.9" y2="89.8" stroke="#231f20" stroke-width="1.15" stroke-linecap="round"/>
<line x1="520.9" y1="89.8" x2="529.8" y2="94.3" stroke="#231f20" stroke-width="1.15" stroke-linecap="round"/>
<line x1="529.8" y1="94.3" x2="535.7" y2="89.1" stroke="#231f20" stroke-width="1.15" stroke-linecap="round"/>
<line x1="535.7" y1="89.1" x2="532.8" y2="79.4" stroke="#231f20" stroke-width="1.15" stroke-linecap="round"/>
<line x1="535.7" y1="89.1" x2="541.27" y2="90.06" stroke="#231f20" stroke-width="1.15" stroke-linecap="round"/>
<line x1="535.41" y1="90.78" x2="540.98" y2="91.74" stroke="#231f20" stroke-width="1.03" stroke-linecap="round"/>
<text x="544.4" y="93.1" font-size="7" text-anchor="middle" fill="#231f20" stroke="#fff" stroke-width="2.2" paint-order="stroke" stroke-linejoin="round">O</text>
<text x="544.4" y="93.1" font-size="7" text-anchor="middle" fill="#231f20" stroke="#231f20" stroke-width="0.5">O</text>
<line x1="522.4" y1="80.9" x2="516.5" y2="74.3" stroke="#231f20" stroke-width="1.15" stroke-linecap="round"/>
<line x1="523.67" y1="79.77" x2="517.77" y2="73.17" stroke="#231f20" stroke-width="1.03" stroke-linecap="round"/>
<line x1="516.5" y1="74.3" x2="519.75" y2="69.24" stroke="#231f20" stroke-width="1.15" stroke-linecap="round"/>
<line x1="516.5" y1="74.3" x2="510.4" y2="75.1" stroke="#231f20" stroke-width="1.15" stroke-linecap="round"/>
<line x1="520.9" y1="89.8" x2="529.8" y2="94.3" stroke="#231f20" stroke-width="1.15" stroke-linecap="round"/>
<line x1="529.8" y1="94.3" x2="529.8" y2="103.9" stroke="#231f20" stroke-width="1.15" stroke-linecap="round"/>
<line x1="528.1" y1="96.03" x2="528.1" y2="102.17" stroke="#231f20" stroke-width="1.03" stroke-linecap="round"/>
<line x1="529.8" y1="103.9" x2="521.7" y2="108.3" stroke="#231f20" stroke-width="1.15" stroke-linecap="round"/>
<line x1="521.7" y1="108.3" x2="512.8" y2="104.6" stroke="#231f20" stroke-width="1.15" stroke-linecap="round"/>
<line x1="520.75" y1="106.06" x2="515.05" y2="103.7" stroke="#231f20" stroke-width="1.03" stroke-linecap="round"/>
<line x1="512.8" y1="104.6" x2="512.8" y2="94.3" stroke="#231f20" stroke-width="1.15" stroke-linecap="round"/>
<line x1="512.8" y1="94.3" x2="520.9" y2="89.8" stroke="#231f20" stroke-width="1.15" stroke-linecap="round"/>
<line x1="515.08" y1="94.98" x2="520.27" y2="92.1" stroke="#231f20" stroke-width="1.03" stroke-linecap="round"/>
<line x1="512.8" y1="104.6" x2="508.7" y2="106.85" stroke="#231f20" stroke-width="1.15" stroke-linecap="round"/>
<line x1="521.7" y1="108.3" x2="521.34" y2="112.66" stroke="#231f20" stroke-width="1.15" stroke-linecap="round"/>
<text x="504.6" y="111.6" font-size="7" text-anchor="middle" fill="#231f20" stroke="#fff" stroke-width="2.2" paint-order="stroke" stroke-linejoin="round">F</text>
<text x="504.6" y="111.6" font-size="7" text-anchor="middle" fill="#231f20" stroke="#231f20" stroke-width="0.5">F</text>
<text x="520.9" y="120.5" font-size="7" text-anchor="middle" fill="#231f20" stroke="#fff" stroke-width="2.2" paint-order="stroke" stroke-linejoin="round">F</text>
<text x="520.9" y="120.5" font-size="7" text-anchor="middle" fill="#231f20" stroke="#231f20" stroke-width="0.5">F</text>
<line x1="594.95" y1="43.8" x2="599.95" y2="52.2" stroke="#231f20" stroke-width="1.15" stroke-linecap="round"/>
<line x1="599.95" y1="52.2" x2="595.15" y2="60.8" stroke="#231f20" stroke-width="1.15" stroke-linecap="round"/>
<line x1="597.6" y1="52.92" x2="594.53" y2="58.42" stroke="#231f20" stroke-width="1.03" stroke-linecap="round"/>
<line x1="595.15" y1="60.8" x2="601.35" y2="67.5" stroke="#231f20" stroke-width="1.15" stroke-linecap="round"/>
<line x1="601.35" y1="67.5" x2="609.45" y2="63.2" stroke="#231f20" stroke-width="1.15" stroke-linecap="round"/>
<line x1="609.45" y1="63.2" x2="608.55" y2="53.2" stroke="#231f20" stroke-width="1.15" stroke-linecap="round"/>
<line x1="607.59" y1="61.55" x2="607.02" y2="55.15" stroke="#231f20" stroke-width="1.03" stroke-linecap="round"/>
<line x1="608.55" y1="53.2" x2="599.95" y2="52.2" stroke="#231f20" stroke-width="1.15" stroke-linecap="round"/>
<line x1="608.55" y1="53.2" x2="617.55" y2="50.3" stroke="#231f20" stroke-width="1.15" stroke-linecap="round"/>
<line x1="617.55" y1="50.3" x2="622.35" y2="56.5" stroke="#231f20" stroke-width="1.15" stroke-linecap="round"/>
<line x1="622.35" y1="56.5" x2="619.95" y2="65.1" stroke="#231f20" stroke-width="1.15" stroke-linecap="round"/>
<line x1="620.28" y1="57.59" x2="618.74" y2="63.1" stroke="#231f20" stroke-width="1.03" stroke-linecap="round"/>
<line x1="619.95" y1="65.1" x2="609.45" y2="63.2" stroke="#231f20" stroke-width="1.15" stroke-linecap="round"/>
<line x1="622.35" y1="56.5" x2="633.35" y2="58.9" stroke="#231f20" stroke-width="1.15" stroke-linecap="round"/>
<line x1="633.35" y1="58.9" x2="634.25" y2="68.9" stroke="#231f20" stroke-width="1.15" stroke-linecap="round"/>
<line x1="631.82" y1="60.85" x2="632.39" y2="67.25" stroke="#231f20" stroke-width="1.03" stroke-linecap="round"/>
<line x1="634.25" y1="68.9" x2="625.65" y2="72.7" stroke="#231f20" stroke-width="1.15" stroke-linecap="round"/>
<line x1="625.65" y1="72.7" x2="619.95" y2="65.1" stroke="#231f20" stroke-width="1.15" stroke-linecap="round"/>
<text x="601.35" y="70" font-size="7" text-anchor="middle" fill="#231f20" stroke="#fff" stroke-width="2.2" paint-order="stroke" stroke-linejoin="round">N</text>
<text x="601.35" y="70" font-size="7" text-anchor="middle" fill="#231f20" stroke="#231f20" stroke-width="0.5">N</text>
<text x="617.55" y="52.8" font-size="7" text-anchor="middle" fill="#231f20" stroke="#fff" stroke-width="2.2" paint-order="stroke" stroke-linejoin="round">S</text>
<text x="617.55" y="52.8" font-size="7" text-anchor="middle" fill="#231f20" stroke="#231f20" stroke-width="0.5">S</text>
<text x="625.65" y="75.2" font-size="7" text-anchor="middle" fill="#231f20" stroke="#fff" stroke-width="2.2" paint-order="stroke" stroke-linejoin="round">S</text>
<text x="625.65" y="75.2" font-size="7" text-anchor="middle" fill="#231f20" stroke="#231f20" stroke-width="0.5">S</text>
<line x1="634.25" y1="68.9" x2="641.2" y2="70.5" stroke="#231f20" stroke-width="1.15" stroke-linecap="round"/>
<line x1="641.2" y1="70.5" x2="646.8" y2="79.4" stroke="#231f20" stroke-width="1.15" stroke-linecap="round"/>
<line x1="640.04" y1="71.85" x2="645.08" y2="79.86" stroke="#231f20" stroke-width="1.03" stroke-linecap="round"/>
<line x1="646.8" y1="79.4" x2="657.2" y2="80.9" stroke="#231f20" stroke-width="1.15" stroke-linecap="round"/>
<line x1="657.2" y1="80.9" x2="658.7" y2="89.8" stroke="#231f20" stroke-width="1.15" stroke-linecap="round"/>
<line x1="658.7" y1="89.8" x2="649.8" y2="94.3" stroke="#231f20" stroke-width="1.15" stroke-linecap="round"/>
<line x1="649.8" y1="94.3" x2="643.9" y2="89.1" stroke="#231f20" stroke-width="1.15" stroke-linecap="round"/>
<line x1="643.9" y1="89.1" x2="646.8" y2="79.4" stroke="#231f20" stroke-width="1.15" stroke-linecap="round"/>
<line x1="643.9" y1="89.1" x2="638.33" y2="90.06" stroke="#231f20" stroke-width="1.15" stroke-linecap="round"/>
<line x1="644.19" y1="90.78" x2="638.62" y2="91.74" stroke="#231f20" stroke-width="1.03" stroke-linecap="round"/>
<text x="635.2" y="93.1" font-size="7" text-anchor="middle" fill="#231f20" stroke="#fff" stroke-width="2.2" paint-order="stroke" stroke-linejoin="round">O</text>
<text x="635.2" y="93.1" font-size="7" text-anchor="middle" fill="#231f20" stroke="#231f20" stroke-width="0.5">O</text>
<line x1="657.2" y1="80.9" x2="663.1" y2="74.3" stroke="#231f20" stroke-width="1.15" stroke-linecap="round"/>
<line x1="655.93" y1="79.77" x2="661.83" y2="73.17" stroke="#231f20" stroke-width="1.03" stroke-linecap="round"/>
<line x1="663.1" y1="74.3" x2="659.85" y2="69.24" stroke="#231f20" stroke-width="1.15" stroke-linecap="round"/>
<line x1="663.1" y1="74.3" x2="669.2" y2="75.1" stroke="#231f20" stroke-width="1.15" stroke-linecap="round"/>
<line x1="658.7" y1="89.8" x2="649.8" y2="94.3" stroke="#231f20" stroke-width="1.15" stroke-linecap="round"/>
<line x1="649.8" y1="94.3" x2="649.8" y2="103.9" stroke="#231f20" stroke-width="1.15" stroke-linecap="round"/>
<line x1="651.5" y1="96.03" x2="651.5" y2="102.17" stroke="#231f20" stroke-width="1.03" stroke-linecap="round"/>
<line x1="649.8" y1="103.9" x2="657.9" y2="108.3" stroke="#231f20" stroke-width="1.15" stroke-linecap="round"/>
<line x1="657.9" y1="108.3" x2="666.8" y2="104.6" stroke="#231f20" stroke-width="1.15" stroke-linecap="round"/>
<line x1="658.85" y1="106.06" x2="664.55" y2="103.7" stroke="#231f20" stroke-width="1.03" stroke-linecap="round"/>
<line x1="666.8" y1="104.6" x2="666.8" y2="94.3" stroke="#231f20" stroke-width="1.15" stroke-linecap="round"/>
<line x1="666.8" y1="94.3" x2="658.7" y2="89.8" stroke="#231f20" stroke-width="1.15" stroke-linecap="round"/>
<line x1="664.52" y1="94.98" x2="659.33" y2="92.1" stroke="#231f20" stroke-width="1.03" stroke-linecap="round"/>
<line x1="666.8" y1="104.6" x2="670.9" y2="106.85" stroke="#231f20" stroke-width="1.15" stroke-linecap="round"/>
<line x1="657.9" y1="108.3" x2="658.26" y2="112.66" stroke="#231f20" stroke-width="1.15" stroke-linecap="round"/>
<text x="675" y="111.6" font-size="7" text-anchor="middle" fill="#231f20" stroke="#fff" stroke-width="2.2" paint-order="stroke" stroke-linejoin="round">F</text>
<text x="675" y="111.6" font-size="7" text-anchor="middle" fill="#231f20" stroke="#231f20" stroke-width="0.5">F</text>
<text x="658.7" y="120.5" font-size="7" text-anchor="middle" fill="#231f20" stroke="#fff" stroke-width="2.2" paint-order="stroke" stroke-linejoin="round">F</text>
<text x="658.7" y="120.5" font-size="7" text-anchor="middle" fill="#231f20" stroke="#231f20" stroke-width="0.5">F</text>
<line x1="585.05" y1="43.8" x2="594.95" y2="43.8" stroke="#f08a24" stroke-width="1.15" stroke-linecap="round"/>
<line x1="584.85" y1="60.8" x2="595.15" y2="60.8" stroke="#231f20" stroke-width="1.15" stroke-linecap="round"/>
<line x1="585.05" y1="43.8" x2="580" y2="35.4" stroke="#f08a24" stroke-width="1.15" stroke-linecap="round"/>
<line x1="585.6" y1="41.41" x2="582.37" y2="36.04" stroke="#f08a24" stroke-width="1.03" stroke-linecap="round"/>
<line x1="594.95" y1="43.8" x2="600" y2="35.4" stroke="#f08a24" stroke-width="1.15" stroke-linecap="round"/>
<line x1="580" y1="35.4" x2="584.6" y2="26.9" stroke="#f08a24" stroke-width="1.15" stroke-linecap="round"/>
<line x1="600" y1="35.4" x2="595.4" y2="26.9" stroke="#f08a24" stroke-width="1.15" stroke-linecap="round"/>
<line x1="597.68" y1="34.68" x2="594.73" y2="29.24" stroke="#f08a24" stroke-width="1.03" stroke-linecap="round"/>
<line x1="584.6" y1="26.9" x2="579.4" y2="18.4" stroke="#f08a24" stroke-width="1.15" stroke-linecap="round"/>
<line x1="579.4" y1="18.4" x2="584.6" y2="10.3" stroke="#f08a24" stroke-width="1.15" stroke-linecap="round"/>
<line x1="581.77" y1="17.86" x2="585.09" y2="12.68" stroke="#f08a24" stroke-width="1.03" stroke-linecap="round"/>
<line x1="584.6" y1="10.3" x2="595.4" y2="10.3" stroke="#f08a24" stroke-width="1.15" stroke-linecap="round"/>
<line x1="595.4" y1="10.3" x2="600.6" y2="18.4" stroke="#f08a24" stroke-width="1.15" stroke-linecap="round"/>
<line x1="594.91" y1="12.68" x2="598.23" y2="17.86" stroke="#f08a24" stroke-width="1.03" stroke-linecap="round"/>
<line x1="600.6" y1="18.4" x2="595.4" y2="26.9" stroke="#f08a24" stroke-width="1.15" stroke-linecap="round"/>
<line x1="584.6" y1="26.9" x2="595.4" y2="26.9" stroke="#f08a24" stroke-width="1.15" stroke-linecap="round"/>
<line x1="586.54" y1="25.2" x2="593.46" y2="25.2" stroke="#f08a24" stroke-width="1.03" stroke-linecap="round"/>
<text x="580" y="37.9" font-size="7" text-anchor="middle" fill="#f08a24" stroke="#fff" stroke-width="2.2" paint-order="stroke" stroke-linejoin="round">N</text>
<text x="580" y="37.9" font-size="7" text-anchor="middle" fill="#f08a24" stroke="#f08a24" stroke-width="0.5">N</text>
<text x="600" y="37.9" font-size="7" text-anchor="middle" fill="#f08a24" stroke="#fff" stroke-width="2.2" paint-order="stroke" stroke-linejoin="round">N</text>
<text x="600" y="37.9" font-size="7" text-anchor="middle" fill="#f08a24" stroke="#f08a24" stroke-width="0.5">N</text>
<line x1="584.6" y1="10.3" x2="582" y2="5.8" stroke="#f08a24" stroke-width="1.15" stroke-linecap="round"/>
<line x1="595.4" y1="10.3" x2="598" y2="5.8" stroke="#f08a24" stroke-width="1.15" stroke-linecap="round"/>
<text x="578.2" y="5.8" font-size="7" text-anchor="middle" fill="#f08a24" stroke="#fff" stroke-width="2" paint-order="stroke">Br</text>
<text x="578.2" y="5.8" font-size="7" text-anchor="middle" fill="#f08a24" stroke="#f08a24" stroke-width="0.5">Br</text>
<text x="601.8" y="5.8" font-size="7" text-anchor="middle" fill="#f08a24" stroke="#fff" stroke-width="2" paint-order="stroke">Br</text>
<text x="601.8" y="5.8" font-size="7" text-anchor="middle" fill="#f08a24" stroke="#f08a24" stroke-width="0.5">Br</text>
<line x1="546.65" y1="58.9" x2="539.8" y2="53.1" stroke="#231f20" stroke-width="1.15" stroke-linecap="round"/>
<line x1="539.8" y1="53.1" x2="542.2" y2="43.1" stroke="#231f20" stroke-width="1.15" stroke-linecap="round"/>
<line x1="542.2" y1="43.1" x2="537.6" y2="41.2" stroke="#231f20" stroke-width="1.15" stroke-linecap="round"/>
<line x1="542.2" y1="43.1" x2="548.6" y2="41.7" stroke="#231f20" stroke-width="1.15" stroke-linecap="round"/>
<line x1="633.35" y1="58.9" x2="640.2" y2="53.1" stroke="#231f20" stroke-width="1.15" stroke-linecap="round"/>
<line x1="640.2" y1="53.1" x2="637.8" y2="43.1" stroke="#231f20" stroke-width="1.15" stroke-linecap="round"/>
<line x1="637.8" y1="43.1" x2="642.4" y2="41.2" stroke="#231f20" stroke-width="1.15" stroke-linecap="round"/>
<line x1="637.8" y1="43.1" x2="631.4" y2="41.7" stroke="#231f20" stroke-width="1.15" stroke-linecap="round"/>
<text x="517.6" y="40.6" font-size="7" fill="#231f20" stroke="#fff" stroke-width="1.6" paint-order="stroke" stroke-linejoin="round">C<tspan font-size="5.0" dy="1.6">6</tspan><tspan dy="-1.6"></tspan>H<tspan font-size="5.0" dy="1.6">13</tspan><tspan dy="-1.6"></tspan></text>
<text x="517.6" y="40.6" font-size="7" fill="#231f20" stroke="#231f20" stroke-width="0.5">C<tspan font-size="5.0" dy="1.6">6</tspan><tspan dy="-1.6"></tspan>H<tspan font-size="5.0" dy="1.6">13</tspan><tspan dy="-1.6"></tspan></text>
<text x="549.3" y="44.2" font-size="7" fill="#231f20" stroke="#fff" stroke-width="1.6" paint-order="stroke" stroke-linejoin="round">C<tspan font-size="5.0" dy="1.6">4</tspan><tspan dy="-1.6"></tspan>H<tspan font-size="5.0" dy="1.6">9</tspan><tspan dy="-1.6"></tspan></text>
<text x="549.3" y="44.2" font-size="7" fill="#231f20" stroke="#231f20" stroke-width="0.5">C<tspan font-size="5.0" dy="1.6">4</tspan><tspan dy="-1.6"></tspan>H<tspan font-size="5.0" dy="1.6">9</tspan><tspan dy="-1.6"></tspan></text>
<text x="614.3" y="44.2" font-size="7" fill="#231f20" stroke="#fff" stroke-width="1.6" paint-order="stroke" stroke-linejoin="round">C<tspan font-size="5.0" dy="1.6">4</tspan><tspan dy="-1.6"></tspan>H<tspan font-size="5.0" dy="1.6">9</tspan><tspan dy="-1.6"></tspan></text>
<text x="614.3" y="44.2" font-size="7" fill="#231f20" stroke="#231f20" stroke-width="0.5">C<tspan font-size="5.0" dy="1.6">4</tspan><tspan dy="-1.6"></tspan>H<tspan font-size="5.0" dy="1.6">9</tspan><tspan dy="-1.6"></tspan></text>
<text x="642.3" y="40.6" font-size="7" fill="#231f20" stroke="#fff" stroke-width="1.6" paint-order="stroke" stroke-linejoin="round">C<tspan font-size="5.0" dy="1.6">6</tspan><tspan dy="-1.6"></tspan>H<tspan font-size="5.0" dy="1.6">13</tspan><tspan dy="-1.6"></tspan></text>
<text x="642.3" y="40.6" font-size="7" fill="#231f20" stroke="#231f20" stroke-width="0.5">C<tspan font-size="5.0" dy="1.6">6</tspan><tspan dy="-1.6"></tspan>H<tspan font-size="5.0" dy="1.6">13</tspan><tspan dy="-1.6"></tspan></text>
<line x1="578.65" y1="70.3" x2="581.1" y2="78.9" stroke="#231f20" stroke-width="1.15" stroke-linecap="round"/>
<line x1="581.1" y1="78.9" x2="575.8" y2="84.2" stroke="#231f20" stroke-width="1.15" stroke-linecap="round"/>
<line x1="575.8" y1="84.2" x2="571.5" y2="86.6" stroke="#231f20" stroke-width="1.15" stroke-linecap="round"/>
<line x1="575.8" y1="84.2" x2="575.8" y2="90" stroke="#231f20" stroke-width="1.15" stroke-linecap="round"/>
<line x1="601.35" y1="70.3" x2="598.9" y2="78.9" stroke="#231f20" stroke-width="1.15" stroke-linecap="round"/>
<line x1="598.9" y1="78.9" x2="604.2" y2="84.2" stroke="#231f20" stroke-width="1.15" stroke-linecap="round"/>
<line x1="604.2" y1="84.2" x2="608.5" y2="86.6" stroke="#231f20" stroke-width="1.15" stroke-linecap="round"/>
<line x1="604.2" y1="84.2" x2="604.2" y2="90" stroke="#231f20" stroke-width="1.15" stroke-linecap="round"/>
<text x="552.2" y="89.6" font-size="7" fill="#231f20" stroke="#fff" stroke-width="1.6" paint-order="stroke" stroke-linejoin="round">C<tspan font-size="5.0" dy="1.6">4</tspan><tspan dy="-1.6"></tspan>H<tspan font-size="5.0" dy="1.6">9</tspan><tspan dy="-1.6"></tspan></text>
<text x="552.2" y="89.6" font-size="7" fill="#231f20" stroke="#231f20" stroke-width="0.5">C<tspan font-size="5.0" dy="1.6">4</tspan><tspan dy="-1.6"></tspan>H<tspan font-size="5.0" dy="1.6">9</tspan><tspan dy="-1.6"></tspan></text>
<text x="572.3" y="97.2" font-size="7" fill="#231f20" stroke="#fff" stroke-width="1.6" paint-order="stroke" stroke-linejoin="round">C<tspan font-size="5.0" dy="1.6">6</tspan><tspan dy="-1.6"></tspan>H<tspan font-size="5.0" dy="1.6">13</tspan><tspan dy="-1.6"></tspan></text>
<text x="572.3" y="97.2" font-size="7" fill="#231f20" stroke="#231f20" stroke-width="0.5">C<tspan font-size="5.0" dy="1.6">6</tspan><tspan dy="-1.6"></tspan>H<tspan font-size="5.0" dy="1.6">13</tspan><tspan dy="-1.6"></tspan></text>
<text x="612.8" y="89.6" font-size="7" fill="#231f20" stroke="#fff" stroke-width="1.6" paint-order="stroke" stroke-linejoin="round">C<tspan font-size="5.0" dy="1.6">4</tspan><tspan dy="-1.6"></tspan>H<tspan font-size="5.0" dy="1.6">9</tspan><tspan dy="-1.6"></tspan></text>
<text x="612.8" y="89.6" font-size="7" fill="#231f20" stroke="#231f20" stroke-width="0.5">C<tspan font-size="5.0" dy="1.6">4</tspan><tspan dy="-1.6"></tspan>H<tspan font-size="5.0" dy="1.6">9</tspan><tspan dy="-1.6"></tspan></text>
<text x="603.7" y="97.2" font-size="7" fill="#231f20" stroke="#fff" stroke-width="1.6" paint-order="stroke" stroke-linejoin="round">C<tspan font-size="5.0" dy="1.6">6</tspan><tspan dy="-1.6"></tspan>H<tspan font-size="5.0" dy="1.6">13</tspan><tspan dy="-1.6"></tspan></text>
<text x="603.7" y="97.2" font-size="7" fill="#231f20" stroke="#231f20" stroke-width="0.5">C<tspan font-size="5.0" dy="1.6">6</tspan><tspan dy="-1.6"></tspan>H<tspan font-size="5.0" dy="1.6">13</tspan><tspan dy="-1.6"></tspan></text>
<text x="517.2" y="67.6" font-size="7" fill="#231f20" stroke="#fff" stroke-width="1.6" paint-order="stroke" stroke-linejoin="round">CN</text>
<text x="517.2" y="67.6" font-size="7" fill="#231f20" stroke="#231f20" stroke-width="0.5">CN</text>
<text x="498.7" y="78.4" font-size="7" fill="#231f20" stroke="#fff" stroke-width="1.6" paint-order="stroke" stroke-linejoin="round">NC</text>
<text x="498.7" y="78.4" font-size="7" fill="#231f20" stroke="#231f20" stroke-width="0.5">NC</text>
<text x="652.4" y="67.6" font-size="7" fill="#231f20" stroke="#fff" stroke-width="1.6" paint-order="stroke" stroke-linejoin="round">NC</text>
<text x="652.4" y="67.6" font-size="7" fill="#231f20" stroke="#231f20" stroke-width="0.5">NC</text>
<text x="669.5" y="78.4" font-size="7" fill="#231f20" stroke="#fff" stroke-width="1.6" paint-order="stroke" stroke-linejoin="round">CN</text>
<text x="669.5" y="78.4" font-size="7" fill="#231f20" stroke="#231f20" stroke-width="0.5">CN</text>
<text x="575.6" y="116" font-size="8.1" fill="#2a2a2a" stroke="#2a2a2a" stroke-width="0.16">BrQx-4BO</text>
<defs><linearGradient id="cbar" x1="0" y1="0" x2="1" y2="0"><stop offset="0" stop-color="#e00000"/><stop offset="0.5" stop-color="#ffffff"/><stop offset="1" stop-color="#0000d8"/></linearGradient></defs>
<defs><linearGradient id="h1" x1="0" y1="0" x2="0" y2="1"><stop offset="0" stop-color="#2832f7"/><stop offset="0.67" stop-color="#2b35f7"/><stop offset="0.78" stop-color="#4149f8"/><stop offset="0.88" stop-color="#6e74f9"/><stop offset="0.91" stop-color="#7c82fa"/><stop offset="0.92" stop-color="#898efa"/><stop offset="0.93" stop-color="#898efa"/><stop offset="0.93" stop-color="#969bfb"/><stop offset="0.95" stop-color="#969bfb"/><stop offset="0.95" stop-color="#a3a8fc"/><stop offset="0.97" stop-color="#a3a8fc"/><stop offset="0.97" stop-color="#b0b4fc"/><stop offset="0.99" stop-color="#b0b4fc"/><stop offset="0.99" stop-color="#bec0fc"/><stop offset="1" stop-color="#bec0fc"/></linearGradient><linearGradient id="h2" x1="0" y1="0" x2="0" y2="1"><stop offset="0" stop-color="#4049f8"/><stop offset="0.73" stop-color="#3c45f8"/><stop offset="0.77" stop-color="#3f48f8"/><stop offset="0.89" stop-color="#7c82fa"/><stop offset="0.89" stop-color="#7c82fa"/><stop offset="0.9" stop-color="#898efa"/><stop offset="0.92" stop-color="#898efa"/><stop offset="0.92" stop-color="#969bfb"/><stop offset="0.94" stop-color="#969bfb"/><stop offset="0.95" stop-color="#a3a8fc"/><stop offset="0.97" stop-color="#a3a8fc"/><stop offset="0.97" stop-color="#b0b4fc"/><stop offset="0.99" stop-color="#b0b4fc"/><stop offset="0.99" stop-color="#bec0fc"/><stop offset="1" stop-color="#bec0fc"/></linearGradient><linearGradient id="h3" x1="0" y1="0" x2="0" y2="1"><stop offset="0" stop-color="#5d65f9"/><stop offset="0.65" stop-color="#5b63f9"/><stop offset="0.76" stop-color="#3c45f8"/><stop offset="0.86" stop-color="#7c82fa"/><stop offset="0.86" stop-color="#898efa"/><stop offset="0.89" stop-color="#898efa"/><stop offset="0.89" stop-color="#969bfb"/><stop offset="0.92" stop-color="#969bfb"/><stop offset="0.92" stop-color="#a3a8fc"/><stop offset="0.95" stop-color="#a3a8fc"/><stop offset="0.96" stop-color="#b0b4fc"/><stop offset="0.99" stop-color="#b0b4fc"/><stop offset="0.99" stop-color="#bec0fc"/><stop offset="1" stop-color="#bec0fc"/></linearGradient><linearGradient id="h4" x1="0" y1="0" x2="0" y2="1"><stop offset="0" stop-color="#6970f9"/><stop offset="0.66" stop-color="#666df9"/><stop offset="0.76" stop-color="#4a53f8"/><stop offset="0.85" stop-color="#7c82fa"/><stop offset="0.85" stop-color="#898efa"/><stop offset="0.88" stop-color="#898efa"/><stop offset="0.88" stop-color="#969bfb"/><stop offset="0.92" stop-color="#969bfb"/><stop offset="0.92" stop-color="#a3a8fc"/><stop offset="0.95" stop-color="#a3a8fc"/><stop offset="0.96" stop-color="#b0b4fc"/><stop offset="0.99" stop-color="#b0b4fc"/><stop offset="1" stop-color="#bec0fc"/><stop offset="1" stop-color="#bec0fc"/></linearGradient><linearGradient id="h5" x1="0" y1="0" x2="0" y2="1"><stop offset="0" stop-color="#636af9"/><stop offset="0.66" stop-color="#6067f9"/><stop offset="0.77" stop-color="#4a53f8"/><stop offset="0.87" stop-color="#7c82fa"/><stop offset="0.87" stop-color="#7c82fa"/><stop offset="0.87" stop-color="#898efa"/><stop offset="0.91" stop-color="#898efa"/><stop offset="0.91" stop-color="#969bfb"/><stop offset="0.94" stop-color="#969bfb"/><stop offset="0.95" stop-color="#a3a8fc"/><stop offset="0.97" stop-color="#a3a8fc"/><stop offset="0.97" stop-color="#b0b4fc"/><stop offset="1" stop-color="#b0b4fc"/><stop offset="1" stop-color="#bec0fc"/></linearGradient><linearGradient id="h6" x1="0" y1="0" x2="0" y2="1"><stop offset="0" stop-color="#424bf8"/><stop offset="0.72" stop-color="#3e47f8"/><stop offset="0.77" stop-color="#3f48f8"/><stop offset="0.88" stop-color="#646bf9"/><stop offset="0.94" stop-color="#7c82fa"/><stop offset="0.95" stop-color="#898efa"/><stop offset="0.96" stop-color="#898efa"/><stop offset="0.97" stop-color="#969bfb"/><stop offset="0.98" stop-color="#969bfb"/><stop offset="0.98" stop-color="#a3a8fc"/><stop offset="1" stop-color="#a3a8fc"/></linearGradient><linearGradient id="h7" x1="0" y1="0" x2="0" y2="1"><stop offset="0" stop-color="#1a24f6"/><stop offset="0.66" stop-color="#1722f6"/><stop offset="0.77" stop-color="#000cf5"/><stop offset="0.89" stop-color="#3f47f8"/><stop offset="0.95" stop-color="#6c73f9"/><stop offset="0.97" stop-color="#7c82fa"/><stop offset="0.98" stop-color="#898efa"/><stop offset="0.99" stop-color="#898efa"/><stop offset="0.99" stop-color="#969bfb"/><stop offset="1" stop-color="#969bfb"/></linearGradient><linearGradient id="h8" x1="0" y1="0" x2="0" y2="1"><stop offset="0" stop-color="#0009f5"/><stop offset="0.77" stop-color="#010df5"/><stop offset="0.87" stop-color="#1c26f6"/><stop offset="0.95" stop-color="#535bf8"/><stop offset="0.98" stop-color="#7c82fa"/><stop offset="0.99" stop-color="#898efa"/><stop offset="1" stop-color="#898efa"/><stop offset="1" stop-color="#969bfb"/></linearGradient><linearGradient id="h9" x1="0" y1="0" x2="0" y2="1"><stop offset="0" stop-color="#0005f5"/><stop offset="0.73" stop-color="#0009f5"/><stop offset="0.8" stop-color="#0612f6"/><stop offset="0.87" stop-color="#1923f6"/><stop offset="0.95" stop-color="#5159f8"/><stop offset="0.98" stop-color="#7c82fa"/><stop offset="0.99" stop-color="#898efa"/><stop offset="1" stop-color="#898efa"/><stop offset="1" stop-color="#969bfb"/></linearGradient><linearGradient id="h10" x1="0" y1="0" x2="0" y2="1"><stop offset="0" stop-color="#0005f5"/><stop offset="0.73" stop-color="#0009f5"/><stop offset="0.8" stop-color="#0612f6"/><stop offset="0.87" stop-color="#1923f6"/><stop offset="0.95" stop-color="#5058f8"/><stop offset="0.99" stop-color="#7c82fa"/><stop offset="0.99" stop-color="#898efa"/><stop offset="1" stop-color="#898efa"/></linearGradient><linearGradient id="h11" x1="0" y1="0" x2="0" y2="1"><stop offset="0" stop-color="#a3a8fc"/><stop offset="0.65" stop-color="#a3a8fc"/><stop offset="0.65" stop-color="#969bfb"/><stop offset="0.69" stop-color="#969bfb"/><stop offset="0.69" stop-color="#898efa"/><stop offset="0.73" stop-color="#898efa"/><stop offset="0.73" stop-color="#7c82fa"/><stop offset="0.77" stop-color="#787efa"/><stop offset="0.78" stop-color="#7c82fa"/><stop offset="0.79" stop-color="#898efa"/><stop offset="0.82" stop-color="#898efa"/><stop offset="0.82" stop-color="#969bfb"/><stop offset="0.85" stop-color="#969bfb"/><stop offset="0.85" stop-color="#a3a8fc"/><stop offset="0.88" stop-color="#a3a8fc"/><stop offset="0.89" stop-color="#b0b4fc"/><stop offset="0.94" stop-color="#b0b4fc"/><stop offset="0.94" stop-color="#bec0fc"/><stop offset="0.97" stop-color="#bec0fc"/><stop offset="0.97" stop-color="#cbcdfd"/><stop offset="0.99" stop-color="#cbcdfd"/><stop offset="1" stop-color="#d8dafe"/><stop offset="1" stop-color="#d8dafe"/></linearGradient><linearGradient id="h12" x1="0" y1="0" x2="0" y2="1"><stop offset="0" stop-color="#ffffff"/><stop offset="0.73" stop-color="#ffffff"/><stop offset="0.73" stop-color="#f2f2fe"/><stop offset="0.83" stop-color="#f2f2fe"/><stop offset="0.83" stop-color="#ffffff"/><stop offset="0.87" stop-color="#ffffff"/><stop offset="0.88" stop-color="#f2f2fe"/><stop offset="1" stop-color="#f2f2fe"/></linearGradient><linearGradient id="h13" x1="0" y1="0" x2="0" y2="1"><stop offset="0" stop-color="#fccccc"/><stop offset="0.48" stop-color="#fccccc"/><stop offset="0.49" stop-color="#fdd9d9"/><stop offset="0.65" stop-color="#fdd9d9"/><stop offset="0.66" stop-color="#fee6e6"/><stop offset="0.72" stop-color="#fee6e6"/><stop offset="0.72" stop-color="#fef2f2"/><stop offset="0.79" stop-color="#fef2f2"/><stop offset="0.79" stop-color="#ffffff"/><stop offset="1" stop-color="#ffffff"/></linearGradient><linearGradient id="h14" x1="0" y1="0" x2="0" y2="1"><stop offset="0" stop-color="#fccccc"/><stop offset="0.48" stop-color="#fccccc"/><stop offset="0.49" stop-color="#fdd9d9"/><stop offset="0.66" stop-color="#fdd9d9"/><stop offset="0.66" stop-color="#fee6e6"/><stop offset="0.75" stop-color="#fee6e6"/><stop offset="0.76" stop-color="#fef2f2"/><stop offset="0.8" stop-color="#fef2f2"/><stop offset="0.8" stop-color="#ffffff"/><stop offset="0.85" stop-color="#ffffff"/><stop offset="0.86" stop-color="#f2f2fe"/><stop offset="1" stop-color="#f2f2fe"/></linearGradient><linearGradient id="h15" x1="0" y1="0" x2="0" y2="1"><stop offset="0" stop-color="#fccccc"/><stop offset="0.48" stop-color="#fccccc"/><stop offset="0.49" stop-color="#fdd9d9"/><stop offset="0.66" stop-color="#fdd9d9"/><stop offset="0.66" stop-color="#fee6e6"/><stop offset="0.75" stop-color="#fee6e6"/><stop offset="0.76" stop-color="#fef2f2"/><stop offset="0.79" stop-color="#fef2f2"/><stop offset="0.8" stop-color="#ffffff"/><stop offset="0.84" stop-color="#ffffff"/><stop offset="0.84" stop-color="#f2f2fe"/><stop offset="0.89" stop-color="#f2f2fe"/><stop offset="0.9" stop-color="#e5e6fe"/><stop offset="1" stop-color="#e5e6fe"/></linearGradient><linearGradient id="h16" x1="0" y1="0" x2="0" y2="1"><stop offset="0" stop-color="#fccccc"/><stop offset="0.48" stop-color="#fccccc"/><stop offset="0.49" stop-color="#fdd9d9"/><stop offset="0.66" stop-color="#fdd9d9"/><stop offset="0.66" stop-color="#fee6e6"/><stop offset="0.75" stop-color="#fee6e6"/><stop offset="0.76" stop-color="#fef2f2"/><stop offset="0.79" stop-color="#fef2f2"/><stop offset="0.79" stop-color="#ffffff"/><stop offset="0.83" stop-color="#ffffff"/><stop offset="0.83" stop-color="#f2f2fe"/><stop offset="0.85" stop-color="#f2f2fe"/><stop offset="0.86" stop-color="#e5e6fe"/><stop offset="0.93" stop-color="#e5e6fe"/><stop offset="0.93" stop-color="#d8dafe"/><stop offset="1" stop-color="#d8dafe"/></linearGradient><linearGradient id="h17" x1="0" y1="0" x2="0" y2="1"><stop offset="0" stop-color="#fccccc"/><stop offset="0.47" stop-color="#fccccc"/><stop offset="0.48" stop-color="#fdd9d9"/><stop offset="0.65" stop-color="#fdd9d9"/><stop offset="0.66" stop-color="#fee6e6"/><stop offset="0.72" stop-color="#fee6e6"/><stop offset="0.72" stop-color="#fef2f2"/><stop offset="0.77" stop-color="#fef2f2"/><stop offset="0.77" stop-color="#ffffff"/><stop offset="0.81" stop-color="#ffffff"/><stop offset="0.81" stop-color="#f2f2fe"/><stop offset="0.83" stop-color="#f2f2fe"/><stop offset="0.84" stop-color="#e5e6fe"/><stop offset="0.87" stop-color="#e5e6fe"/><stop offset="0.88" stop-color="#d8dafe"/><stop offset="0.99" stop-color="#d8dafe"/><stop offset="1" stop-color="#cbcdfd"/><stop offset="1" stop-color="#cbcdfd"/></linearGradient><linearGradient id="h18" x1="0" y1="0" x2="0" y2="1"><stop offset="0" stop-color="#fdd9d9"/><stop offset="0.63" stop-color="#fdd9d9"/><stop offset="0.63" stop-color="#fee6e6"/><stop offset="0.68" stop-color="#fee6e6"/><stop offset="0.69" stop-color="#fef2f2"/><stop offset="0.73" stop-color="#fef2f2"/><stop offset="0.74" stop-color="#ffffff"/><stop offset="0.78" stop-color="#ffffff"/><stop offset="0.79" stop-color="#f2f2fe"/><stop offset="0.82" stop-color="#f2f2fe"/><stop offset="0.82" stop-color="#e5e6fe"/><stop offset="0.85" stop-color="#e5e6fe"/><stop offset="0.85" stop-color="#d8dafe"/><stop offset="0.91" stop-color="#d8dafe"/><stop offset="0.91" stop-color="#cbcdfd"/><stop offset="1" stop-color="#cbcdfd"/></linearGradient><linearGradient id="h19" x1="0" y1="0" x2="0" y2="1"><stop offset="0" stop-color="#fdd9d9"/><stop offset="0.57" stop-color="#fdd9d9"/><stop offset="0.58" stop-color="#fee6e6"/><stop offset="0.64" stop-color="#fee6e6"/><stop offset="0.65" stop-color="#fef2f2"/><stop offset="0.69" stop-color="#fef2f2"/><stop offset="0.7" stop-color="#ffffff"/><stop offset="0.76" stop-color="#ffffff"/><stop offset="0.76" stop-color="#f2f2fe"/><stop offset="0.79" stop-color="#f2f2fe"/><stop offset="0.8" stop-color="#e5e6fe"/><stop offset="0.82" stop-color="#e5e6fe"/><stop offset="0.83" stop-color="#d8dafe"/><stop offset="0.86" stop-color="#d8dafe"/><stop offset="0.86" stop-color="#cbcdfd"/><stop offset="0.97" stop-color="#cbcdfd"/><stop offset="0.97" stop-color="#bec0fc"/><stop offset="1" stop-color="#bec0fc"/></linearGradient><linearGradient id="h20" x1="0" y1="0" x2="0" y2="1"><stop offset="0" stop-color="#fee6e6"/><stop offset="0.59" stop-color="#fee6e6"/><stop offset="0.6" stop-color="#fef2f2"/><stop offset="0.65" stop-color="#fef2f2"/><stop offset="0.66" stop-color="#ffffff"/><stop offset="0.72" stop-color="#ffffff"/><stop offset="0.72" stop-color="#f2f2fe"/><stop offset="0.77" stop-color="#f2f2fe"/><stop offset="0.77" stop-color="#e5e6fe"/><stop offset="0.81" stop-color="#e5e6fe"/><stop offset="0.81" stop-color="#d8dafe"/><stop offset="0.85" stop-color="#d8dafe"/><stop offset="0.85" stop-color="#cbcdfd"/><stop offset="0.91" stop-color="#cbcdfd"/><stop offset="0.92" stop-color="#bec0fc"/><stop offset="1" stop-color="#bec0fc"/></linearGradient><linearGradient id="h21" x1="0" y1="0" x2="0" y2="1"><stop offset="0" stop-color="#fee6e6"/><stop offset="0.55" stop-color="#fee6e6"/><stop offset="0.55" stop-color="#fef2f2"/><stop offset="0.62" stop-color="#fef2f2"/><stop offset="0.63" stop-color="#ffffff"/><stop offset="0.69" stop-color="#ffffff"/><stop offset="0.7" stop-color="#f2f2fe"/><stop offset="0.74" stop-color="#f2f2fe"/><stop offset="0.74" stop-color="#e5e6fe"/><stop offset="0.78" stop-color="#e5e6fe"/><stop offset="0.79" stop-color="#d8dafe"/><stop offset="0.83" stop-color="#d8dafe"/><stop offset="0.83" stop-color="#cbcdfd"/><stop offset="0.88" stop-color="#cbcdfd"/><stop offset="0.89" stop-color="#bec0fc"/><stop offset="0.99" stop-color="#bec0fc"/><stop offset="0.99" stop-color="#b0b4fc"/><stop offset="1" stop-color="#b0b4fc"/></linearGradient><linearGradient id="h22" x1="0" y1="0" x2="0" y2="1"><stop offset="0" stop-color="#fee6e6"/><stop offset="0.47" stop-color="#fee6e6"/><stop offset="0.48" stop-color="#fef2f2"/><stop offset="0.59" stop-color="#fef2f2"/><stop offset="0.59" stop-color="#ffffff"/><stop offset="0.67" stop-color="#ffffff"/><stop offset="0.68" stop-color="#f2f2fe"/><stop offset="0.72" stop-color="#f2f2fe"/><stop offset="0.73" stop-color="#e5e6fe"/><stop offset="0.77" stop-color="#e5e6fe"/><stop offset="0.77" stop-color="#d8dafe"/><stop offset="0.82" stop-color="#d8dafe"/><stop offset="0.82" stop-color="#cbcdfd"/><stop offset="0.86" stop-color="#cbcdfd"/><stop offset="0.86" stop-color="#bec0fc"/><stop offset="0.93" stop-color="#bec0fc"/><stop offset="0.93" stop-color="#b0b4fc"/><stop offset="1" stop-color="#b0b4fc"/></linearGradient><linearGradient id="h23" x1="0" y1="0" x2="0" y2="1"><stop offset="0" stop-color="#fee6e6"/><stop offset="0.44" stop-color="#fee6e6"/><stop offset="0.45" stop-color="#fef2f2"/><stop offset="0.55" stop-color="#fef2f2"/><stop offset="0.55" stop-color="#ffffff"/><stop offset="0.66" stop-color="#ffffff"/><stop offset="0.66" stop-color="#f2f2fe"/><stop offset="0.71" stop-color="#f2f2fe"/><stop offset="0.71" stop-color="#e5e6fe"/><stop offset="0.76" stop-color="#e5e6fe"/><stop offset="0.76" stop-color="#d8dafe"/><stop offset="0.8" stop-color="#d8dafe"/><stop offset="0.8" stop-color="#cbcdfd"/><stop offset="0.85" stop-color="#cbcdfd"/><stop offset="0.85" stop-color="#bec0fc"/><stop offset="0.9" stop-color="#bec0fc"/><stop offset="0.91" stop-color="#b0b4fc"/><stop offset="1" stop-color="#b0b4fc"/></linearGradient><linearGradient id="h24" x1="0" y1="0" x2="0" y2="1"><stop offset="0" stop-color="#fee6e6"/><stop offset="0.43" stop-color="#fee6e6"/><stop offset="0.44" stop-color="#fef2f2"/><stop offset="0.52" stop-color="#fef2f2"/><stop offset="0.52" stop-color="#ffffff"/><stop offset="0.65" stop-color="#ffffff"/><stop offset="0.65" stop-color="#f2f2fe"/><stop offset="0.7" stop-color="#f2f2fe"/><stop offset="0.7" stop-color="#e5e6fe"/><stop offset="0.74" stop-color="#e5e6fe"/><stop offset="0.75" stop-color="#d8dafe"/><stop offset="0.79" stop-color="#d8dafe"/><stop offset="0.79" stop-color="#cbcdfd"/><stop offset="0.83" stop-color="#cbcdfd"/><stop offset="0.84" stop-color="#bec0fc"/><stop offset="0.89" stop-color="#bec0fc"/><stop offset="0.89" stop-color="#b0b4fc"/><stop offset="0.97" stop-color="#b0b4fc"/><stop offset="0.97" stop-color="#a3a8fc"/><stop offset="1" stop-color="#a3a8fc"/></linearGradient><linearGradient id="h25" x1="0" y1="0" x2="0" y2="1"><stop offset="0" stop-color="#fee6e6"/><stop offset="0.43" stop-color="#fee6e6"/><stop offset="0.43" stop-color="#fef2f2"/><stop offset="0.51" stop-color="#fef2f2"/><stop offset="0.51" stop-color="#ffffff"/><stop offset="0.63" stop-color="#ffffff"/><stop offset="0.63" stop-color="#f2f2fe"/><stop offset="0.68" stop-color="#f2f2fe"/><stop offset="0.69" stop-color="#e5e6fe"/><stop offset="0.73" stop-color="#e5e6fe"/><stop offset="0.73" stop-color="#d8dafe"/><stop offset="0.78" stop-color="#d8dafe"/><stop offset="0.78" stop-color="#cbcdfd"/><stop offset="0.83" stop-color="#cbcdfd"/><stop offset="0.83" stop-color="#bec0fc"/><stop offset="0.89" stop-color="#bec0fc"/><stop offset="0.89" stop-color="#b0b4fc"/><stop offset="0.95" stop-color="#b0b4fc"/><stop offset="0.96" stop-color="#a3a8fc"/><stop offset="1" stop-color="#a3a8fc"/></linearGradient><linearGradient id="h26" x1="0" y1="0" x2="0" y2="1"><stop offset="0" stop-color="#fee6e6"/><stop offset="0.43" stop-color="#fee6e6"/><stop offset="0.43" stop-color="#fef2f2"/><stop offset="0.5" stop-color="#fef2f2"/><stop offset="0.51" stop-color="#ffffff"/><stop offset="0.61" stop-color="#ffffff"/><stop offset="0.62" stop-color="#f2f2fe"/><stop offset="0.68" stop-color="#f2f2fe"/><stop offset="0.68" stop-color="#e5e6fe"/><stop offset="0.73" stop-color="#e5e6fe"/><stop offset="0.73" stop-color="#d8dafe"/><stop offset="0.78" stop-color="#d8dafe"/><stop offset="0.78" stop-color="#cbcdfd"/><stop offset="0.83" stop-color="#cbcdfd"/><stop offset="0.83" stop-color="#bec0fc"/><stop offset="0.89" stop-color="#bec0fc"/><stop offset="0.89" stop-color="#b0b4fc"/><stop offset="0.95" stop-color="#b0b4fc"/><stop offset="0.96" stop-color="#a3a8fc"/><stop offset="1" stop-color="#a3a8fc"/></linearGradient><linearGradient id="h27" x1="0" y1="0" x2="0" y2="1"><stop offset="0" stop-color="#fee6e6"/><stop offset="0.43" stop-color="#fee6e6"/><stop offset="0.43" stop-color="#fef2f2"/><stop offset="0.5" stop-color="#fef2f2"/><stop offset="0.5" stop-color="#ffffff"/><stop offset="0.61" stop-color="#ffffff"/><stop offset="0.62" stop-color="#f2f2fe"/><stop offset="0.68" stop-color="#f2f2fe"/><stop offset="0.68" stop-color="#e5e6fe"/><stop offset="0.73" stop-color="#e5e6fe"/><stop offset="0.73" stop-color="#d8dafe"/><stop offset="0.78" stop-color="#d8dafe"/><stop offset="0.78" stop-color="#cbcdfd"/><stop offset="0.83" stop-color="#cbcdfd"/><stop offset="0.83" stop-color="#bec0fc"/><stop offset="0.89" stop-color="#bec0fc"/><stop offset="0.89" stop-color="#b0b4fc"/><stop offset="0.95" stop-color="#b0b4fc"/><stop offset="0.96" stop-color="#a3a8fc"/><stop offset="1" stop-color="#a3a8fc"/></linearGradient><linearGradient id="h28" x1="0" y1="0" x2="0" y2="1"><stop offset="0" stop-color="#fee6e6"/><stop offset="0.43" stop-color="#fee6e6"/><stop offset="0.43" stop-color="#fef2f2"/><stop offset="0.5" stop-color="#fef2f2"/><stop offset="0.5" stop-color="#ffffff"/><stop offset="0.61" stop-color="#ffffff"/><stop offset="0.61" stop-color="#f2f2fe"/><stop offset="0.68" stop-color="#f2f2fe"/><stop offset="0.68" stop-color="#e5e6fe"/><stop offset="0.73" stop-color="#e5e6fe"/><stop offset="0.73" stop-color="#d8dafe"/><stop offset="0.78" stop-color="#d8dafe"/><stop offset="0.78" stop-color="#cbcdfd"/><stop offset="0.83" stop-color="#cbcdfd"/><stop offset="0.83" stop-color="#bec0fc"/><stop offset="0.89" stop-color="#bec0fc"/><stop offset="0.89" stop-color="#b0b4fc"/><stop offset="0.95" stop-color="#b0b4fc"/><stop offset="0.96" stop-color="#a3a8fc"/><stop offset="1" stop-color="#a3a8fc"/></linearGradient><linearGradient id="h29" x1="0" y1="0" x2="0" y2="1"><stop offset="0" stop-color="#fef2f2"/><stop offset="0.02" stop-color="#fef2f2"/><stop offset="0.02" stop-color="#fee6e6"/><stop offset="0.43" stop-color="#fee6e6"/><stop offset="0.43" stop-color="#fef2f2"/><stop offset="0.49" stop-color="#fef2f2"/><stop offset="0.5" stop-color="#ffffff"/><stop offset="0.61" stop-color="#ffffff"/><stop offset="0.61" stop-color="#f2f2fe"/><stop offset="0.68" stop-color="#f2f2fe"/><stop offset="0.68" stop-color="#e5e6fe"/><stop offset="0.73" stop-color="#e5e6fe"/><stop offset="0.73" stop-color="#d8dafe"/><stop offset="0.78" stop-color="#d8dafe"/><stop offset="0.78" stop-color="#cbcdfd"/><stop offset="0.83" stop-color="#cbcdfd"/><stop offset="0.83" stop-color="#bec0fc"/><stop offset="0.89" stop-color="#bec0fc"/><stop offset="0.89" stop-color="#b0b4fc"/><stop offset="0.95" stop-color="#b0b4fc"/><stop offset="0.96" stop-color="#a3a8fc"/><stop offset="1" stop-color="#a3a8fc"/></linearGradient><linearGradient id="h30" x1="0" y1="0" x2="0" y2="1"><stop offset="0" stop-color="#fef2f2"/><stop offset="0.05" stop-color="#fef2f2"/><stop offset="0.06" stop-color="#fee6e6"/><stop offset="0.42" stop-color="#fee6e6"/><stop offset="0.43" stop-color="#fef2f2"/><stop offset="0.5" stop-color="#fef2f2"/><stop offset="0.5" stop-color="#ffffff"/><stop offset="0.61" stop-color="#ffffff"/><stop offset="0.62" stop-color="#f2f2fe"/><stop offset="0.68" stop-color="#f2f2fe"/><stop offset="0.68" stop-color="#e5e6fe"/><stop offset="0.73" stop-color="#e5e6fe"/><stop offset="0.73" stop-color="#d8dafe"/><stop offset="0.78" stop-color="#d8dafe"/><stop offset="0.78" stop-color="#cbcdfd"/><stop offset="0.83" stop-color="#cbcdfd"/><stop offset="0.83" stop-color="#bec0fc"/><stop offset="0.89" stop-color="#bec0fc"/><stop offset="0.89" stop-color="#b0b4fc"/><stop offset="0.95" stop-color="#b0b4fc"/><stop offset="0.96" stop-color="#a3a8fc"/><stop offset="1" stop-color="#a3a8fc"/></linearGradient><linearGradient id="h31" x1="0" y1="0" x2="0" y2="1"><stop offset="0" stop-color="#fef2f2"/><stop offset="0.09" stop-color="#fef2f2"/><stop offset="0.1" stop-color="#fee6e6"/><stop offset="0.43" stop-color="#fee6e6"/><stop offset="0.43" stop-color="#fef2f2"/><stop offset="0.52" stop-color="#fef2f2"/><stop offset="0.53" stop-color="#ffffff"/><stop offset="0.62" stop-color="#ffffff"/><stop offset="0.62" stop-color="#f2f2fe"/><stop offset="0.68" stop-color="#f2f2fe"/><stop offset="0.68" stop-color="#e5e6fe"/><stop offset="0.73" stop-color="#e5e6fe"/><stop offset="0.73" stop-color="#d8dafe"/><stop offset="0.78" stop-color="#d8dafe"/><stop offset="0.78" stop-color="#cbcdfd"/><stop offset="0.83" stop-color="#cbcdfd"/><stop offset="0.83" stop-color="#bec0fc"/><stop offset="0.89" stop-color="#bec0fc"/><stop offset="0.89" stop-color="#b0b4fc"/><stop offset="0.95" stop-color="#b0b4fc"/><stop offset="0.96" stop-color="#a3a8fc"/><stop offset="1" stop-color="#a3a8fc"/></linearGradient><linearGradient id="h32" x1="0" y1="0" x2="0" y2="1"><stop offset="0" stop-color="#fee6e6"/><stop offset="0.48" stop-color="#fee6e6"/><stop offset="0.48" stop-color="#fef2f2"/><stop offset="0.55" stop-color="#fef2f2"/><stop offset="0.55" stop-color="#ffffff"/><stop offset="0.63" stop-color="#ffffff"/><stop offset="0.63" stop-color="#f2f2fe"/><stop offset="0.68" stop-color="#f2f2fe"/><stop offset="0.68" stop-color="#e5e6fe"/><stop offset="0.73" stop-color="#e5e6fe"/><stop offset="0.73" stop-color="#d8dafe"/><stop offset="0.78" stop-color="#d8dafe"/><stop offset="0.78" stop-color="#cbcdfd"/><stop offset="0.83" stop-color="#cbcdfd"/><stop offset="0.83" stop-color="#bec0fc"/><stop offset="0.89" stop-color="#bec0fc"/><stop offset="0.89" stop-color="#b0b4fc"/><stop offset="0.95" stop-color="#b0b4fc"/><stop offset="0.96" stop-color="#a3a8fc"/><stop offset="1" stop-color="#a3a8fc"/></linearGradient><linearGradient id="h33" x1="0" y1="0" x2="0" y2="1"><stop offset="0" stop-color="#fdd9d9"/><stop offset="0.43" stop-color="#fdd9d9"/><stop offset="0.43" stop-color="#fee6e6"/><stop offset="0.51" stop-color="#fee6e6"/><stop offset="0.52" stop-color="#fef2f2"/><stop offset="0.57" stop-color="#fef2f2"/><stop offset="0.57" stop-color="#ffffff"/><stop offset="0.64" stop-color="#ffffff"/><stop offset="0.64" stop-color="#f2f2fe"/><stop offset="0.68" stop-color="#f2f2fe"/><stop offset="0.69" stop-color="#e5e6fe"/><stop offset="0.73" stop-color="#e5e6fe"/><stop offset="0.74" stop-color="#d8dafe"/><stop offset="0.78" stop-color="#d8dafe"/><stop offset="0.78" stop-color="#cbcdfd"/><stop offset="0.83" stop-color="#cbcdfd"/><stop offset="0.83" stop-color="#bec0fc"/><stop offset="0.89" stop-color="#bec0fc"/><stop offset="0.89" stop-color="#b0b4fc"/><stop offset="0.95" stop-color="#b0b4fc"/><stop offset="0.96" stop-color="#a3a8fc"/><stop offset="1" stop-color="#a3a8fc"/></linearGradient><linearGradient id="h34" x1="0" y1="0" x2="0" y2="1"><stop offset="0" stop-color="#fdd9d9"/><stop offset="0.45" stop-color="#fdd9d9"/><stop offset="0.45" stop-color="#fee6e6"/><stop offset="0.54" stop-color="#fee6e6"/><stop offset="0.55" stop-color="#fef2f2"/><stop offset="0.59" stop-color="#fef2f2"/><stop offset="0.59" stop-color="#ffffff"/><stop offset="0.65" stop-color="#ffffff"/><stop offset="0.65" stop-color="#f2f2fe"/><stop offset="0.7" stop-color="#f2f2fe"/><stop offset="0.7" stop-color="#e5e6fe"/><stop offset="0.74" stop-color="#e5e6fe"/><stop offset="0.75" stop-color="#d8dafe"/><stop offset="0.79" stop-color="#d8dafe"/><stop offset="0.79" stop-color="#cbcdfd"/><stop offset="0.83" stop-color="#cbcdfd"/><stop offset="0.84" stop-color="#bec0fc"/><stop offset="0.89" stop-color="#bec0fc"/><stop offset="0.89" stop-color="#b0b4fc"/><stop offset="0.95" stop-color="#b0b4fc"/><stop offset="0.96" stop-color="#a3a8fc"/><stop offset="1" stop-color="#a3a8fc"/></linearGradient><linearGradient id="h35" x1="0" y1="0" x2="0" y2="1"><stop offset="0" stop-color="#fdd9d9"/><stop offset="0.49" stop-color="#fdd9d9"/><stop offset="0.5" stop-color="#fee6e6"/><stop offset="0.57" stop-color="#fee6e6"/><stop offset="0.57" stop-color="#fef2f2"/><stop offset="0.6" stop-color="#fef2f2"/><stop offset="0.61" stop-color="#ffffff"/><stop offset="0.66" stop-color="#ffffff"/><stop offset="0.67" stop-color="#f2f2fe"/><stop offset="0.71" stop-color="#f2f2fe"/><stop offset="0.72" stop-color="#e5e6fe"/><stop offset="0.76" stop-color="#e5e6fe"/><stop offset="0.77" stop-color="#d8dafe"/><stop offset="0.8" stop-color="#d8dafe"/><stop offset="0.8" stop-color="#cbcdfd"/><stop offset="0.84" stop-color="#cbcdfd"/><stop offset="0.85" stop-color="#bec0fc"/><stop offset="0.89" stop-color="#bec0fc"/><stop offset="0.9" stop-color="#b0b4fc"/><stop offset="0.95" stop-color="#b0b4fc"/><stop offset="0.96" stop-color="#a3a8fc"/><stop offset="1" stop-color="#a3a8fc"/></linearGradient><linearGradient id="h36" x1="0" y1="0" x2="0" y2="1"><stop offset="0" stop-color="#fdd9d9"/><stop offset="0.55" stop-color="#fdd9d9"/><stop offset="0.55" stop-color="#fee6e6"/><stop offset="0.58" stop-color="#fee6e6"/><stop offset="0.58" stop-color="#fef2f2"/><stop offset="0.62" stop-color="#fef2f2"/><stop offset="0.62" stop-color="#ffffff"/><stop offset="0.67" stop-color="#ffffff"/><stop offset="0.68" stop-color="#f2f2fe"/><stop offset="0.73" stop-color="#f2f2fe"/><stop offset="0.74" stop-color="#e5e6fe"/><stop offset="0.78" stop-color="#e5e6fe"/><stop offset="0.78" stop-color="#d8dafe"/><stop offset="0.82" stop-color="#d8dafe"/><stop offset="0.82" stop-color="#cbcdfd"/><stop offset="0.85" stop-color="#cbcdfd"/><stop offset="0.85" stop-color="#bec0fc"/><stop offset="0.9" stop-color="#bec0fc"/><stop offset="0.9" stop-color="#b0b4fc"/><stop offset="0.96" stop-color="#b0b4fc"/><stop offset="0.96" stop-color="#a3a8fc"/><stop offset="1" stop-color="#a3a8fc"/></linearGradient><linearGradient id="h37" x1="0" y1="0" x2="0" y2="1"><stop offset="0" stop-color="#fdd9d9"/><stop offset="0.57" stop-color="#fdd9d9"/><stop offset="0.57" stop-color="#fee6e6"/><stop offset="0.6" stop-color="#fee6e6"/><stop offset="0.6" stop-color="#fef2f2"/><stop offset="0.63" stop-color="#fef2f2"/><stop offset="0.63" stop-color="#ffffff"/><stop offset="0.7" stop-color="#ffffff"/><stop offset="0.71" stop-color="#f2f2fe"/><stop offset="0.76" stop-color="#f2f2fe"/><stop offset="0.77" stop-color="#e5e6fe"/><stop offset="0.8" stop-color="#e5e6fe"/><stop offset="0.8" stop-color="#d8dafe"/><stop offset="0.83" stop-color="#d8dafe"/><stop offset="0.83" stop-color="#cbcdfd"/><stop offset="0.86" stop-color="#cbcdfd"/><stop offset="0.86" stop-color="#bec0fc"/><stop offset="0.91" stop-color="#bec0fc"/><stop offset="0.91" stop-color="#b0b4fc"/><stop offset="0.97" stop-color="#b0b4fc"/><stop offset="0.97" stop-color="#a3a8fc"/><stop offset="1" stop-color="#a3a8fc"/></linearGradient><linearGradient id="h38" x1="0" y1="0" x2="0" y2="1"><stop offset="0" stop-color="#fccccc"/><stop offset="0.55" stop-color="#fccccc"/><stop offset="0.56" stop-color="#fdd9d9"/><stop offset="0.59" stop-color="#fdd9d9"/><stop offset="0.6" stop-color="#fee6e6"/><stop offset="0.63" stop-color="#fee6e6"/><stop offset="0.63" stop-color="#fef2f2"/><stop offset="0.68" stop-color="#fef2f2"/><stop offset="0.68" stop-color="#ffffff"/><stop offset="0.74" stop-color="#ffffff"/><stop offset="0.75" stop-color="#f2f2fe"/><stop offset="0.78" stop-color="#f2f2fe"/><stop offset="0.78" stop-color="#e5e6fe"/><stop offset="0.81" stop-color="#e5e6fe"/><stop offset="0.81" stop-color="#d8dafe"/><stop offset="0.84" stop-color="#d8dafe"/><stop offset="0.84" stop-color="#cbcdfd"/><stop offset="0.87" stop-color="#cbcdfd"/><stop offset="0.87" stop-color="#bec0fc"/><stop offset="0.92" stop-color="#bec0fc"/><stop offset="0.92" stop-color="#b0b4fc"/><stop offset="0.98" stop-color="#b0b4fc"/><stop offset="0.98" stop-color="#a3a8fc"/><stop offset="1" stop-color="#a3a8fc"/></linearGradient><linearGradient id="h39" x1="0" y1="0" x2="0" y2="1"><stop offset="0" stop-color="#fccccc"/><stop offset="0.15" stop-color="#fccccc"/><stop offset="0.15" stop-color="#fbbfbf"/><stop offset="0.48" stop-color="#fbbfbf"/><stop offset="0.48" stop-color="#fccccc"/><stop offset="0.58" stop-color="#fccccc"/><stop offset="0.58" stop-color="#fdd9d9"/><stop offset="0.63" stop-color="#fdd9d9"/><stop offset="0.63" stop-color="#fee6e6"/><stop offset="0.67" stop-color="#fee6e6"/><stop offset="0.67" stop-color="#fef2f2"/><stop offset="0.72" stop-color="#fef2f2"/><stop offset="0.72" stop-color="#ffffff"/><stop offset="0.77" stop-color="#ffffff"/><stop offset="0.77" stop-color="#f2f2fe"/><stop offset="0.79" stop-color="#f2f2fe"/><stop offset="0.8" stop-color="#e5e6fe"/><stop offset="0.82" stop-color="#e5e6fe"/><stop offset="0.82" stop-color="#d8dafe"/><stop offset="0.85" stop-color="#d8dafe"/><stop offset="0.85" stop-color="#cbcdfd"/><stop offset="0.88" stop-color="#cbcdfd"/><stop offset="0.88" stop-color="#bec0fc"/><stop offset="0.93" stop-color="#bec0fc"/><stop offset="0.93" stop-color="#b0b4fc"/><stop offset="0.98" stop-color="#b0b4fc"/><stop offset="0.99" stop-color="#a3a8fc"/><stop offset="1" stop-color="#a3a8fc"/></linearGradient><linearGradient id="h40" x1="0" y1="0" x2="0" y2="1"><stop offset="0" stop-color="#fccccc"/><stop offset="0.01" stop-color="#fccccc"/><stop offset="0.01" stop-color="#fbbfbf"/><stop offset="0.55" stop-color="#fbbfbf"/><stop offset="0.55" stop-color="#fccccc"/><stop offset="0.61" stop-color="#fccccc"/><stop offset="0.61" stop-color="#fdd9d9"/><stop offset="0.66" stop-color="#fdd9d9"/><stop offset="0.67" stop-color="#fee6e6"/><stop offset="0.7" stop-color="#fee6e6"/><stop offset="0.7" stop-color="#fef2f2"/><stop offset="0.74" stop-color="#fef2f2"/><stop offset="0.75" stop-color="#ffffff"/><stop offset="0.78" stop-color="#ffffff"/><stop offset="0.78" stop-color="#f2f2fe"/><stop offset="0.8" stop-color="#f2f2fe"/><stop offset="0.81" stop-color="#e5e6fe"/><stop offset="0.83" stop-color="#e5e6fe"/><stop offset="0.83" stop-color="#d8dafe"/><stop offset="0.85" stop-color="#d8dafe"/><stop offset="0.86" stop-color="#cbcdfd"/><stop offset="0.89" stop-color="#cbcdfd"/><stop offset="0.9" stop-color="#bec0fc"/><stop offset="0.93" stop-color="#bec0fc"/><stop offset="0.94" stop-color="#b0b4fc"/><stop offset="0.99" stop-color="#b0b4fc"/><stop offset="1" stop-color="#a3a8fc"/><stop offset="1" stop-color="#a3a8fc"/></linearGradient><linearGradient id="h41" x1="0" y1="0" x2="0" y2="1"><stop offset="0" stop-color="#fbbfbf"/><stop offset="0.57" stop-color="#fbbfbf"/><stop offset="0.57" stop-color="#fccccc"/><stop offset="0.63" stop-color="#fccccc"/><stop offset="0.63" stop-color="#fdd9d9"/><stop offset="0.68" stop-color="#fdd9d9"/><stop offset="0.68" stop-color="#fee6e6"/><stop offset="0.72" stop-color="#fee6e6"/><stop offset="0.73" stop-color="#fef2f2"/><stop offset="0.76" stop-color="#fef2f2"/><stop offset="0.77" stop-color="#ffffff"/><stop offset="0.79" stop-color="#ffffff"/><stop offset="0.8" stop-color="#f2f2fe"/><stop offset="0.82" stop-color="#f2f2fe"/><stop offset="0.82" stop-color="#e5e6fe"/><stop offset="0.84" stop-color="#e5e6fe"/><stop offset="0.84" stop-color="#d8dafe"/><stop offset="0.87" stop-color="#d8dafe"/><stop offset="0.87" stop-color="#cbcdfd"/><stop offset="0.9" stop-color="#cbcdfd"/><stop offset="0.91" stop-color="#bec0fc"/><stop offset="0.94" stop-color="#bec0fc"/><stop offset="0.95" stop-color="#b0b4fc"/><stop offset="1" stop-color="#b0b4fc"/><stop offset="1" stop-color="#a3a8fc"/></linearGradient><linearGradient id="h42" x1="0" y1="0" x2="0" y2="1"><stop offset="0" stop-color="#fab2b2"/><stop offset="0.47" stop-color="#fab2b2"/><stop offset="0.47" stop-color="#fbbfbf"/><stop offset="0.58" stop-color="#fbbfbf"/><stop offset="0.59" stop-color="#fccccc"/><stop offset="0.65" stop-color="#fccccc"/><stop offset="0.65" stop-color="#fdd9d9"/><stop offset="0.7" stop-color="#fdd9d9"/><stop offset="0.7" stop-color="#fee6e6"/><stop offset="0.74" stop-color="#fee6e6"/><stop offset="0.75" stop-color="#fef2f2"/><stop offset="0.77" stop-color="#fef2f2"/><stop offset="0.78" stop-color="#ffffff"/><stop offset="0.8" stop-color="#ffffff"/><stop offset="0.81" stop-color="#f2f2fe"/><stop offset="0.83" stop-color="#f2f2fe"/><stop offset="0.83" stop-color="#e5e6fe"/><stop offset="0.85" stop-color="#e5e6fe"/><stop offset="0.85" stop-color="#d8dafe"/><stop offset="0.88" stop-color="#d8dafe"/><stop offset="0.88" stop-color="#cbcdfd"/><stop offset="0.91" stop-color="#cbcdfd"/><stop offset="0.92" stop-color="#bec0fc"/><stop offset="0.95" stop-color="#bec0fc"/><stop offset="0.95" stop-color="#b0b4fc"/><stop offset="1" stop-color="#b0b4fc"/></linearGradient><linearGradient id="h43" x1="0" y1="0" x2="0" y2="1"><stop offset="0" stop-color="#fab2b2"/><stop offset="0.48" stop-color="#fab2b2"/><stop offset="0.49" stop-color="#fbbfbf"/><stop offset="0.6" stop-color="#fbbfbf"/><stop offset="0.6" stop-color="#fccccc"/><stop offset="0.67" stop-color="#fccccc"/><stop offset="0.67" stop-color="#fdd9d9"/><stop offset="0.72" stop-color="#fdd9d9"/><stop offset="0.72" stop-color="#fee6e6"/><stop offset="0.76" stop-color="#fee6e6"/><stop offset="0.77" stop-color="#fef2f2"/><stop offset="0.78" stop-color="#fef2f2"/><stop offset="0.79" stop-color="#ffffff"/><stop offset="0.81" stop-color="#ffffff"/><stop offset="0.82" stop-color="#f2f2fe"/><stop offset="0.83" stop-color="#f2f2fe"/><stop offset="0.84" stop-color="#e5e6fe"/><stop offset="0.86" stop-color="#e5e6fe"/><stop offset="0.86" stop-color="#d8dafe"/><stop offset="0.89" stop-color="#d8dafe"/><stop offset="0.89" stop-color="#cbcdfd"/><stop offset="0.92" stop-color="#cbcdfd"/><stop offset="0.92" stop-color="#bec0fc"/><stop offset="0.95" stop-color="#bec0fc"/><stop offset="0.96" stop-color="#b0b4fc"/><stop offset="1" stop-color="#b0b4fc"/></linearGradient><linearGradient id="h44" x1="0" y1="0" x2="0" y2="1"><stop offset="0" stop-color="#fab2b2"/><stop offset="0.48" stop-color="#fab2b2"/><stop offset="0.49" stop-color="#fbbfbf"/><stop offset="0.61" stop-color="#fbbfbf"/><stop offset="0.62" stop-color="#fccccc"/><stop offset="0.68" stop-color="#fccccc"/><stop offset="0.68" stop-color="#fdd9d9"/><stop offset="0.73" stop-color="#fdd9d9"/><stop offset="0.73" stop-color="#fee6e6"/><stop offset="0.77" stop-color="#fee6e6"/><stop offset="0.77" stop-color="#fef2f2"/><stop offset="0.79" stop-color="#fef2f2"/><stop offset="0.8" stop-color="#ffffff"/><stop offset="0.82" stop-color="#ffffff"/><stop offset="0.83" stop-color="#f2f2fe"/><stop offset="0.84" stop-color="#f2f2fe"/><stop offset="0.85" stop-color="#e5e6fe"/><stop offset="0.87" stop-color="#e5e6fe"/><stop offset="0.87" stop-color="#d8dafe"/><stop offset="0.9" stop-color="#d8dafe"/><stop offset="0.9" stop-color="#cbcdfd"/><stop offset="0.92" stop-color="#cbcdfd"/><stop offset="0.92" stop-color="#bec0fc"/><stop offset="0.96" stop-color="#bec0fc"/><stop offset="0.96" stop-color="#b0b4fc"/><stop offset="1" stop-color="#b0b4fc"/></linearGradient><linearGradient id="h45" x1="0" y1="0" x2="0" y2="1"><stop offset="0" stop-color="#fab2b2"/><stop offset="0.48" stop-color="#fab2b2"/><stop offset="0.49" stop-color="#fbbfbf"/><stop offset="0.6" stop-color="#fbbfbf"/><stop offset="0.6" stop-color="#fccccc"/><stop offset="0.68" stop-color="#fccccc"/><stop offset="0.68" stop-color="#fdd9d9"/><stop offset="0.75" stop-color="#fdd9d9"/><stop offset="0.75" stop-color="#fee6e6"/><stop offset="0.78" stop-color="#fee6e6"/><stop offset="0.78" stop-color="#fef2f2"/><stop offset="0.8" stop-color="#fef2f2"/><stop offset="0.8" stop-color="#ffffff"/><stop offset="0.83" stop-color="#ffffff"/><stop offset="0.83" stop-color="#f2f2fe"/><stop offset="0.85" stop-color="#f2f2fe"/><stop offset="0.85" stop-color="#e5e6fe"/><stop offset="0.87" stop-color="#e5e6fe"/><stop offset="0.88" stop-color="#d8dafe"/><stop offset="0.9" stop-color="#d8dafe"/><stop offset="0.9" stop-color="#cbcdfd"/><stop offset="0.92" stop-color="#cbcdfd"/><stop offset="0.93" stop-color="#bec0fc"/><stop offset="0.96" stop-color="#bec0fc"/><stop offset="0.97" stop-color="#b0b4fc"/><stop offset="1" stop-color="#b0b4fc"/></linearGradient><linearGradient id="h46" x1="0" y1="0" x2="0" y2="1"><stop offset="0" stop-color="#fab2b2"/><stop offset="0.48" stop-color="#fab2b2"/><stop offset="0.49" stop-color="#fbbfbf"/><stop offset="0.59" stop-color="#fbbfbf"/><stop offset="0.6" stop-color="#fccccc"/><stop offset="0.67" stop-color="#fccccc"/><stop offset="0.68" stop-color="#fdd9d9"/><stop offset="0.76" stop-color="#fdd9d9"/><stop offset="0.77" stop-color="#fee6e6"/><stop offset="0.78" stop-color="#fee6e6"/><stop offset="0.79" stop-color="#fef2f2"/><stop offset="0.8" stop-color="#fef2f2"/><stop offset="0.81" stop-color="#ffffff"/><stop offset="0.83" stop-color="#ffffff"/><stop offset="0.84" stop-color="#f2f2fe"/><stop offset="0.86" stop-color="#f2f2fe"/><stop offset="0.86" stop-color="#e5e6fe"/><stop offset="0.88" stop-color="#e5e6fe"/><stop offset="0.88" stop-color="#d8dafe"/><stop offset="0.9" stop-color="#d8dafe"/><stop offset="0.91" stop-color="#cbcdfd"/><stop offset="0.93" stop-color="#cbcdfd"/><stop offset="0.93" stop-color="#bec0fc"/><stop offset="0.96" stop-color="#bec0fc"/><stop offset="0.97" stop-color="#b0b4fc"/><stop offset="1" stop-color="#b0b4fc"/></linearGradient><linearGradient id="h47" x1="0" y1="0" x2="0" y2="1"><stop offset="0" stop-color="#fab2b2"/><stop offset="0.48" stop-color="#fab2b2"/><stop offset="0.49" stop-color="#fbbfbf"/><stop offset="0.58" stop-color="#fbbfbf"/><stop offset="0.59" stop-color="#fccccc"/><stop offset="0.65" stop-color="#fccccc"/><stop offset="0.65" stop-color="#fdd9d9"/><stop offset="0.75" stop-color="#fdd9d9"/><stop offset="0.75" stop-color="#fee6e6"/><stop offset="0.78" stop-color="#fee6e6"/><stop offset="0.78" stop-color="#fef2f2"/><stop offset="0.8" stop-color="#fef2f2"/><stop offset="0.81" stop-color="#ffffff"/><stop offset="0.83" stop-color="#ffffff"/><stop offset="0.84" stop-color="#f2f2fe"/><stop offset="0.86" stop-color="#f2f2fe"/><stop offset="0.86" stop-color="#e5e6fe"/><stop offset="0.88" stop-color="#e5e6fe"/><stop offset="0.88" stop-color="#d8dafe"/><stop offset="0.9" stop-color="#d8dafe"/><stop offset="0.91" stop-color="#cbcdfd"/><stop offset="0.93" stop-color="#cbcdfd"/><stop offset="0.93" stop-color="#bec0fc"/><stop offset="0.97" stop-color="#bec0fc"/><stop offset="0.97" stop-color="#b0b4fc"/><stop offset="1" stop-color="#b0b4fc"/></linearGradient><linearGradient id="h48" x1="0" y1="0" x2="0" y2="1"><stop offset="0" stop-color="#fab2b2"/><stop offset="0.48" stop-color="#fab2b2"/><stop offset="0.49" stop-color="#fbbfbf"/><stop offset="0.57" stop-color="#fbbfbf"/><stop offset="0.58" stop-color="#fccccc"/><stop offset="0.62" stop-color="#fccccc"/><stop offset="0.63" stop-color="#fdd9d9"/><stop offset="0.72" stop-color="#fdd9d9"/><stop offset="0.72" stop-color="#fee6e6"/><stop offset="0.77" stop-color="#fee6e6"/><stop offset="0.78" stop-color="#fef2f2"/><stop offset="0.8" stop-color="#fef2f2"/><stop offset="0.8" stop-color="#ffffff"/><stop offset="0.83" stop-color="#ffffff"/><stop offset="0.83" stop-color="#f2f2fe"/><stop offset="0.85" stop-color="#f2f2fe"/><stop offset="0.86" stop-color="#e5e6fe"/><stop offset="0.88" stop-color="#e5e6fe"/><stop offset="0.88" stop-color="#d8dafe"/><stop offset="0.9" stop-color="#d8dafe"/><stop offset="0.9" stop-color="#cbcdfd"/><stop offset="0.92" stop-color="#cbcdfd"/><stop offset="0.93" stop-color="#bec0fc"/><stop offset="0.96" stop-color="#bec0fc"/><stop offset="0.96" stop-color="#b0b4fc"/><stop offset="1" stop-color="#b0b4fc"/></linearGradient><linearGradient id="h49" x1="0" y1="0" x2="0" y2="1"><stop offset="0" stop-color="#fab2b2"/><stop offset="0.45" stop-color="#fab2b2"/><stop offset="0.46" stop-color="#fbbfbf"/><stop offset="0.55" stop-color="#fbbfbf"/><stop offset="0.55" stop-color="#fccccc"/><stop offset="0.59" stop-color="#fccccc"/><stop offset="0.59" stop-color="#fdd9d9"/><stop offset="0.63" stop-color="#fdd9d9"/><stop offset="0.63" stop-color="#fee6e6"/><stop offset="0.77" stop-color="#fee6e6"/><stop offset="0.77" stop-color="#fef2f2"/><stop offset="0.79" stop-color="#fef2f2"/><stop offset="0.8" stop-color="#ffffff"/><stop offset="0.82" stop-color="#ffffff"/><stop offset="0.83" stop-color="#f2f2fe"/><stop offset="0.85" stop-color="#f2f2fe"/><stop offset="0.85" stop-color="#e5e6fe"/><stop offset="0.87" stop-color="#e5e6fe"/><stop offset="0.87" stop-color="#d8dafe"/><stop offset="0.89" stop-color="#d8dafe"/><stop offset="0.89" stop-color="#cbcdfd"/><stop offset="0.91" stop-color="#cbcdfd"/><stop offset="0.91" stop-color="#bec0fc"/><stop offset="0.93" stop-color="#bec0fc"/><stop offset="0.93" stop-color="#b0b4fc"/><stop offset="0.99" stop-color="#b0b4fc"/><stop offset="0.99" stop-color="#a3a8fc"/><stop offset="1" stop-color="#a3a8fc"/></linearGradient><linearGradient id="h50" x1="0" y1="0" x2="0" y2="1"><stop offset="0" stop-color="#fccccc"/><stop offset="0.5" stop-color="#fccccc"/><stop offset="0.5" stop-color="#fdd9d9"/><stop offset="0.57" stop-color="#fdd9d9"/><stop offset="0.58" stop-color="#fee6e6"/><stop offset="0.62" stop-color="#fee6e6"/><stop offset="0.63" stop-color="#fef2f2"/><stop offset="0.77" stop-color="#fef2f2"/><stop offset="0.78" stop-color="#ffffff"/><stop offset="0.8" stop-color="#ffffff"/><stop offset="0.81" stop-color="#f2f2fe"/><stop offset="0.83" stop-color="#f2f2fe"/><stop offset="0.83" stop-color="#e5e6fe"/><stop offset="0.86" stop-color="#e5e6fe"/><stop offset="0.86" stop-color="#d8dafe"/><stop offset="0.88" stop-color="#d8dafe"/><stop offset="0.88" stop-color="#cbcdfd"/><stop offset="0.89" stop-color="#cbcdfd"/><stop offset="0.9" stop-color="#bec0fc"/><stop offset="0.91" stop-color="#bec0fc"/><stop offset="0.92" stop-color="#b0b4fc"/><stop offset="0.93" stop-color="#b0b4fc"/><stop offset="0.93" stop-color="#a3a8fc"/><stop offset="0.98" stop-color="#a3a8fc"/><stop offset="0.98" stop-color="#969bfb"/><stop offset="1" stop-color="#969bfb"/></linearGradient><linearGradient id="h51" x1="0" y1="0" x2="0" y2="1"><stop offset="0" stop-color="#fdd9d9"/><stop offset="0.14" stop-color="#fdd9d9"/><stop offset="0.15" stop-color="#fee6e6"/><stop offset="0.57" stop-color="#fee6e6"/><stop offset="0.57" stop-color="#fef2f2"/><stop offset="0.64" stop-color="#fef2f2"/><stop offset="0.64" stop-color="#ffffff"/><stop offset="0.78" stop-color="#ffffff"/><stop offset="0.78" stop-color="#f2f2fe"/><stop offset="0.8" stop-color="#f2f2fe"/><stop offset="0.81" stop-color="#e5e6fe"/><stop offset="0.83" stop-color="#e5e6fe"/><stop offset="0.83" stop-color="#d8dafe"/><stop offset="0.85" stop-color="#d8dafe"/><stop offset="0.85" stop-color="#cbcdfd"/><stop offset="0.87" stop-color="#cbcdfd"/><stop offset="0.87" stop-color="#bec0fc"/><stop offset="0.88" stop-color="#bec0fc"/><stop offset="0.89" stop-color="#b0b4fc"/><stop offset="0.9" stop-color="#b0b4fc"/><stop offset="0.91" stop-color="#a3a8fc"/><stop offset="0.92" stop-color="#a3a8fc"/><stop offset="0.92" stop-color="#969bfb"/><stop offset="0.95" stop-color="#969bfb"/><stop offset="0.95" stop-color="#898efa"/><stop offset="1" stop-color="#898efa"/></linearGradient><linearGradient id="h52" x1="0" y1="0" x2="0" y2="1"><stop offset="0" stop-color="#fee6e6"/><stop offset="0.43" stop-color="#fee6e6"/><stop offset="0.43" stop-color="#fef2f2"/><stop offset="0.56" stop-color="#fef2f2"/><stop offset="0.57" stop-color="#ffffff"/><stop offset="0.72" stop-color="#ffffff"/><stop offset="0.72" stop-color="#f2f2fe"/><stop offset="0.77" stop-color="#f2f2fe"/><stop offset="0.77" stop-color="#e5e6fe"/><stop offset="0.79" stop-color="#e5e6fe"/><stop offset="0.8" stop-color="#d8dafe"/><stop offset="0.81" stop-color="#d8dafe"/><stop offset="0.82" stop-color="#cbcdfd"/><stop offset="0.83" stop-color="#cbcdfd"/><stop offset="0.83" stop-color="#bec0fc"/><stop offset="0.85" stop-color="#bec0fc"/><stop offset="0.85" stop-color="#b0b4fc"/><stop offset="0.87" stop-color="#b0b4fc"/><stop offset="0.87" stop-color="#a3a8fc"/><stop offset="0.88" stop-color="#a3a8fc"/><stop offset="0.88" stop-color="#969bfb"/><stop offset="0.9" stop-color="#969bfb"/><stop offset="0.9" stop-color="#898efa"/><stop offset="0.91" stop-color="#898efa"/><stop offset="0.91" stop-color="#7c82fa"/><stop offset="0.94" stop-color="#666df9"/><stop offset="1" stop-color="#6c73f9"/></linearGradient><linearGradient id="h53" x1="0" y1="0" x2="0" y2="1"><stop offset="0" stop-color="#fef2f2"/><stop offset="0.42" stop-color="#fef2f2"/><stop offset="0.43" stop-color="#ffffff"/><stop offset="0.55" stop-color="#ffffff"/><stop offset="0.55" stop-color="#f2f2fe"/><stop offset="0.65" stop-color="#f2f2fe"/><stop offset="0.65" stop-color="#e5e6fe"/><stop offset="0.73" stop-color="#e5e6fe"/><stop offset="0.73" stop-color="#d8dafe"/><stop offset="0.77" stop-color="#d8dafe"/><stop offset="0.77" stop-color="#cbcdfd"/><stop offset="0.78" stop-color="#cbcdfd"/><stop offset="0.79" stop-color="#bec0fc"/><stop offset="0.8" stop-color="#bec0fc"/><stop offset="0.8" stop-color="#b0b4fc"/><stop offset="0.82" stop-color="#b0b4fc"/><stop offset="0.82" stop-color="#a3a8fc"/><stop offset="0.83" stop-color="#a3a8fc"/><stop offset="0.83" stop-color="#969bfb"/><stop offset="0.85" stop-color="#969bfb"/><stop offset="0.85" stop-color="#898efa"/><stop offset="0.86" stop-color="#898efa"/><stop offset="0.87" stop-color="#7c82fa"/><stop offset="0.94" stop-color="#3d46f8"/><stop offset="1" stop-color="#3841f7"/></linearGradient><linearGradient id="h54" x1="0" y1="0" x2="0" y2="1"><stop offset="0" stop-color="#ffffff"/><stop offset="0.38" stop-color="#ffffff"/><stop offset="0.39" stop-color="#f2f2fe"/><stop offset="0.5" stop-color="#f2f2fe"/><stop offset="0.5" stop-color="#e5e6fe"/><stop offset="0.58" stop-color="#e5e6fe"/><stop offset="0.58" stop-color="#d8dafe"/><stop offset="0.65" stop-color="#d8dafe"/><stop offset="0.65" stop-color="#cbcdfd"/><stop offset="0.69" stop-color="#cbcdfd"/><stop offset="0.69" stop-color="#bec0fc"/><stop offset="0.73" stop-color="#bec0fc"/><stop offset="0.73" stop-color="#b0b4fc"/><stop offset="0.77" stop-color="#b0b4fc"/><stop offset="0.77" stop-color="#a3a8fc"/><stop offset="0.78" stop-color="#a3a8fc"/><stop offset="0.78" stop-color="#969bfb"/><stop offset="0.8" stop-color="#969bfb"/><stop offset="0.8" stop-color="#898efa"/><stop offset="0.82" stop-color="#898efa"/><stop offset="0.82" stop-color="#7c82fa"/><stop offset="0.94" stop-color="#1c26f6"/><stop offset="1" stop-color="#111bf6"/></linearGradient><linearGradient id="h55" x1="0" y1="0" x2="0" y2="1"><stop offset="0" stop-color="#f2f2fe"/><stop offset="0.05" stop-color="#f2f2fe"/><stop offset="0.05" stop-color="#e5e6fe"/><stop offset="0.36" stop-color="#e5e6fe"/><stop offset="0.37" stop-color="#d8dafe"/><stop offset="0.54" stop-color="#d8dafe"/><stop offset="0.55" stop-color="#cbcdfd"/><stop offset="0.61" stop-color="#cbcdfd"/><stop offset="0.61" stop-color="#bec0fc"/><stop offset="0.66" stop-color="#bec0fc"/><stop offset="0.67" stop-color="#b0b4fc"/><stop offset="0.7" stop-color="#b0b4fc"/><stop offset="0.7" stop-color="#a3a8fc"/><stop offset="0.73" stop-color="#a3a8fc"/><stop offset="0.74" stop-color="#969bfb"/><stop offset="0.77" stop-color="#969bfb"/><stop offset="0.77" stop-color="#898efa"/><stop offset="0.78" stop-color="#898efa"/><stop offset="0.78" stop-color="#7c82fa"/><stop offset="0.82" stop-color="#686ef9"/><stop offset="0.94" stop-color="#111cf6"/><stop offset="1" stop-color="#0813f6"/></linearGradient><linearGradient id="h56" x1="0" y1="0" x2="0" y2="1"><stop offset="0" stop-color="#d8dafe"/><stop offset="0.15" stop-color="#d8dafe"/><stop offset="0.16" stop-color="#cbcdfd"/><stop offset="0.42" stop-color="#cbcdfd"/><stop offset="0.42" stop-color="#bec0fc"/><stop offset="0.58" stop-color="#bec0fc"/><stop offset="0.58" stop-color="#b0b4fc"/><stop offset="0.63" stop-color="#b0b4fc"/><stop offset="0.63" stop-color="#a3a8fc"/><stop offset="0.67" stop-color="#a3a8fc"/><stop offset="0.68" stop-color="#969bfb"/><stop offset="0.71" stop-color="#969bfb"/><stop offset="0.71" stop-color="#898efa"/><stop offset="0.74" stop-color="#898efa"/><stop offset="0.75" stop-color="#7c82fa"/><stop offset="0.77" stop-color="#767cfa"/><stop offset="0.94" stop-color="#0612f6"/><stop offset="1" stop-color="#000bf5"/></linearGradient><linearGradient id="h57" x1="0" y1="0" x2="0" y2="1"><stop offset="0" stop-color="#cbcdfd"/><stop offset="0.21" stop-color="#cbcdfd"/><stop offset="0.21" stop-color="#bec0fc"/><stop offset="0.56" stop-color="#bec0fc"/><stop offset="0.57" stop-color="#b0b4fc"/><stop offset="0.62" stop-color="#b0b4fc"/><stop offset="0.62" stop-color="#a3a8fc"/><stop offset="0.66" stop-color="#a3a8fc"/><stop offset="0.67" stop-color="#969bfb"/><stop offset="0.7" stop-color="#969bfb"/><stop offset="0.7" stop-color="#898efa"/><stop offset="0.73" stop-color="#898efa"/><stop offset="0.73" stop-color="#7c82fa"/><stop offset="0.77" stop-color="#747afa"/><stop offset="0.94" stop-color="#000af5"/><stop offset="1" stop-color="#0005f5"/></linearGradient><linearGradient id="h58" x1="0" y1="0" x2="0" y2="1"><stop offset="0" stop-color="#cbcdfd"/><stop offset="0.17" stop-color="#cbcdfd"/><stop offset="0.17" stop-color="#bec0fc"/><stop offset="0.56" stop-color="#bec0fc"/><stop offset="0.57" stop-color="#b0b4fc"/><stop offset="0.62" stop-color="#b0b4fc"/><stop offset="0.62" stop-color="#a3a8fc"/><stop offset="0.66" stop-color="#a3a8fc"/><stop offset="0.67" stop-color="#969bfb"/><stop offset="0.7" stop-color="#969bfb"/><stop offset="0.7" stop-color="#898efa"/><stop offset="0.73" stop-color="#898efa"/><stop offset="0.73" stop-color="#7c82fa"/><stop offset="0.77" stop-color="#747afa"/><stop offset="0.94" stop-color="#000af5"/><stop offset="1" stop-color="#0005f5"/></linearGradient><linearGradient id="h59" x1="0" y1="0" x2="0" y2="1"><stop offset="0" stop-color="#d8dafe"/><stop offset="0.13" stop-color="#d8dafe"/><stop offset="0.14" stop-color="#cbcdfd"/><stop offset="0.55" stop-color="#cbcdfd"/><stop offset="0.55" stop-color="#bec0fc"/><stop offset="0.59" stop-color="#bec0fc"/><stop offset="0.6" stop-color="#b0b4fc"/><stop offset="0.64" stop-color="#b0b4fc"/><stop offset="0.64" stop-color="#a3a8fc"/><stop offset="0.67" stop-color="#a3a8fc"/><stop offset="0.68" stop-color="#969bfb"/><stop offset="0.7" stop-color="#969bfb"/><stop offset="0.71" stop-color="#898efa"/><stop offset="0.73" stop-color="#898efa"/><stop offset="0.74" stop-color="#7c82fa"/><stop offset="0.77" stop-color="#7178fa"/><stop offset="0.94" stop-color="#000af5"/><stop offset="1" stop-color="#0005f5"/></linearGradient><linearGradient id="h60" x1="0" y1="0" x2="0" y2="1"><stop offset="0" stop-color="#e5e6fe"/><stop offset="0.17" stop-color="#e5e6fe"/><stop offset="0.18" stop-color="#d8dafe"/><stop offset="0.56" stop-color="#d8dafe"/><stop offset="0.56" stop-color="#cbcdfd"/><stop offset="0.61" stop-color="#cbcdfd"/><stop offset="0.61" stop-color="#bec0fc"/><stop offset="0.65" stop-color="#bec0fc"/><stop offset="0.65" stop-color="#b0b4fc"/><stop offset="0.68" stop-color="#b0b4fc"/><stop offset="0.68" stop-color="#a3a8fc"/><stop offset="0.7" stop-color="#a3a8fc"/><stop offset="0.7" stop-color="#969bfb"/><stop offset="0.73" stop-color="#969bfb"/><stop offset="0.73" stop-color="#898efa"/><stop offset="0.75" stop-color="#898efa"/><stop offset="0.76" stop-color="#7c82fa"/><stop offset="0.8" stop-color="#5e65f9"/><stop offset="0.94" stop-color="#000af5"/><stop offset="1" stop-color="#0005f5"/></linearGradient><linearGradient id="h61" x1="0" y1="0" x2="0" y2="1"><stop offset="0" stop-color="#f2f2fe"/><stop offset="0.34" stop-color="#f2f2fe"/><stop offset="0.34" stop-color="#e5e6fe"/><stop offset="0.57" stop-color="#e5e6fe"/><stop offset="0.57" stop-color="#d8dafe"/><stop offset="0.63" stop-color="#d8dafe"/><stop offset="0.63" stop-color="#cbcdfd"/><stop offset="0.66" stop-color="#cbcdfd"/><stop offset="0.67" stop-color="#bec0fc"/><stop offset="0.69" stop-color="#bec0fc"/><stop offset="0.69" stop-color="#b0b4fc"/><stop offset="0.72" stop-color="#b0b4fc"/><stop offset="0.72" stop-color="#a3a8fc"/><stop offset="0.75" stop-color="#a3a8fc"/><stop offset="0.75" stop-color="#969bfb"/><stop offset="0.77" stop-color="#969bfb"/><stop offset="0.77" stop-color="#898efa"/><stop offset="0.78" stop-color="#898efa"/><stop offset="0.78" stop-color="#7c82fa"/><stop offset="0.92" stop-color="#0a15f6"/><stop offset="0.94" stop-color="#000af5"/><stop offset="1" stop-color="#0005f5"/></linearGradient><linearGradient id="h62" x1="0" y1="0" x2="0" y2="1"><stop offset="0" stop-color="#ffffff"/><stop offset="0.49" stop-color="#ffffff"/><stop offset="0.5" stop-color="#f2f2fe"/><stop offset="0.58" stop-color="#f2f2fe"/><stop offset="0.59" stop-color="#e5e6fe"/><stop offset="0.64" stop-color="#e5e6fe"/><stop offset="0.65" stop-color="#d8dafe"/><stop offset="0.67" stop-color="#d8dafe"/><stop offset="0.68" stop-color="#cbcdfd"/><stop offset="0.71" stop-color="#cbcdfd"/><stop offset="0.71" stop-color="#bec0fc"/><stop offset="0.74" stop-color="#bec0fc"/><stop offset="0.74" stop-color="#b0b4fc"/><stop offset="0.76" stop-color="#b0b4fc"/><stop offset="0.77" stop-color="#a3a8fc"/><stop offset="0.78" stop-color="#a3a8fc"/><stop offset="0.78" stop-color="#969bfb"/><stop offset="0.79" stop-color="#969bfb"/><stop offset="0.8" stop-color="#898efa"/><stop offset="0.81" stop-color="#898efa"/><stop offset="0.81" stop-color="#7c82fa"/><stop offset="0.94" stop-color="#0511f5"/><stop offset="1" stop-color="#000bf5"/></linearGradient><linearGradient id="h63" x1="0" y1="0" x2="0" y2="1"><stop offset="0" stop-color="#fef2f2"/><stop offset="0.41" stop-color="#fef2f2"/><stop offset="0.41" stop-color="#ffffff"/><stop offset="0.59" stop-color="#ffffff"/><stop offset="0.59" stop-color="#f2f2fe"/><stop offset="0.65" stop-color="#f2f2fe"/><stop offset="0.65" stop-color="#e5e6fe"/><stop offset="0.69" stop-color="#e5e6fe"/><stop offset="0.7" stop-color="#d8dafe"/><stop offset="0.73" stop-color="#d8dafe"/><stop offset="0.73" stop-color="#cbcdfd"/><stop offset="0.76" stop-color="#cbcdfd"/><stop offset="0.77" stop-color="#bec0fc"/><stop offset="0.78" stop-color="#bec0fc"/><stop offset="0.78" stop-color="#b0b4fc"/><stop offset="0.79" stop-color="#b0b4fc"/><stop offset="0.79" stop-color="#a3a8fc"/><stop offset="0.8" stop-color="#a3a8fc"/><stop offset="0.81" stop-color="#969bfb"/><stop offset="0.82" stop-color="#969bfb"/><stop offset="0.82" stop-color="#898efa"/><stop offset="0.83" stop-color="#898efa"/><stop offset="0.83" stop-color="#7c82fa"/><stop offset="0.94" stop-color="#1d28f6"/><stop offset="1" stop-color="#1520f6"/></linearGradient><linearGradient id="h64" x1="0" y1="0" x2="0" y2="1"><stop offset="0" stop-color="#fee6e6"/><stop offset="0.19" stop-color="#fee6e6"/><stop offset="0.2" stop-color="#fef2f2"/><stop offset="0.51" stop-color="#fef2f2"/><stop offset="0.52" stop-color="#ffffff"/><stop offset="0.67" stop-color="#ffffff"/><stop offset="0.67" stop-color="#f2f2fe"/><stop offset="0.72" stop-color="#f2f2fe"/><stop offset="0.72" stop-color="#e5e6fe"/><stop offset="0.76" stop-color="#e5e6fe"/><stop offset="0.77" stop-color="#d8dafe"/><stop offset="0.78" stop-color="#d8dafe"/><stop offset="0.78" stop-color="#cbcdfd"/><stop offset="0.79" stop-color="#cbcdfd"/><stop offset="0.79" stop-color="#bec0fc"/><stop offset="0.8" stop-color="#bec0fc"/><stop offset="0.81" stop-color="#b0b4fc"/><stop offset="0.82" stop-color="#b0b4fc"/><stop offset="0.82" stop-color="#a3a8fc"/><stop offset="0.83" stop-color="#a3a8fc"/><stop offset="0.83" stop-color="#969bfb"/><stop offset="0.84" stop-color="#969bfb"/><stop offset="0.85" stop-color="#898efa"/><stop offset="0.85" stop-color="#898efa"/><stop offset="0.86" stop-color="#7c82fa"/><stop offset="0.92" stop-color="#444df8"/><stop offset="0.94" stop-color="#363ff7"/><stop offset="1" stop-color="#2b35f7"/></linearGradient><linearGradient id="h65" x1="0" y1="0" x2="0" y2="1"><stop offset="0" stop-color="#fee6e6"/><stop offset="0.24" stop-color="#fee6e6"/><stop offset="0.25" stop-color="#fef2f2"/><stop offset="0.56" stop-color="#fef2f2"/><stop offset="0.57" stop-color="#ffffff"/><stop offset="0.73" stop-color="#ffffff"/><stop offset="0.74" stop-color="#f2f2fe"/><stop offset="0.77" stop-color="#f2f2fe"/><stop offset="0.78" stop-color="#e5e6fe"/><stop offset="0.79" stop-color="#e5e6fe"/><stop offset="0.79" stop-color="#d8dafe"/><stop offset="0.8" stop-color="#d8dafe"/><stop offset="0.81" stop-color="#cbcdfd"/><stop offset="0.82" stop-color="#cbcdfd"/><stop offset="0.82" stop-color="#bec0fc"/><stop offset="0.83" stop-color="#bec0fc"/><stop offset="0.84" stop-color="#b0b4fc"/><stop offset="0.85" stop-color="#b0b4fc"/><stop offset="0.85" stop-color="#a3a8fc"/><stop offset="0.87" stop-color="#a3a8fc"/><stop offset="0.87" stop-color="#969bfb"/><stop offset="0.88" stop-color="#969bfb"/><stop offset="0.88" stop-color="#898efa"/><stop offset="0.89" stop-color="#898efa"/><stop offset="0.9" stop-color="#7c82fa"/><stop offset="0.94" stop-color="#545cf8"/><stop offset="1" stop-color="#4850f8"/></linearGradient><linearGradient id="h66" x1="0" y1="0" x2="0" y2="1"><stop offset="0" stop-color="#fee6e6"/><stop offset="0.29" stop-color="#fee6e6"/><stop offset="0.3" stop-color="#fef2f2"/><stop offset="0.58" stop-color="#fef2f2"/><stop offset="0.58" stop-color="#ffffff"/><stop offset="0.77" stop-color="#ffffff"/><stop offset="0.77" stop-color="#f2f2fe"/><stop offset="0.79" stop-color="#f2f2fe"/><stop offset="0.8" stop-color="#e5e6fe"/><stop offset="0.82" stop-color="#e5e6fe"/><stop offset="0.82" stop-color="#d8dafe"/><stop offset="0.84" stop-color="#d8dafe"/><stop offset="0.85" stop-color="#cbcdfd"/><stop offset="0.86" stop-color="#cbcdfd"/><stop offset="0.87" stop-color="#bec0fc"/><stop offset="0.88" stop-color="#bec0fc"/><stop offset="0.88" stop-color="#b0b4fc"/><stop offset="0.89" stop-color="#b0b4fc"/><stop offset="0.9" stop-color="#a3a8fc"/><stop offset="0.91" stop-color="#a3a8fc"/><stop offset="0.91" stop-color="#969bfb"/><stop offset="0.92" stop-color="#969bfb"/><stop offset="0.93" stop-color="#898efa"/><stop offset="0.93" stop-color="#898efa"/><stop offset="0.94" stop-color="#7c82fa"/><stop offset="1" stop-color="#737afa"/></linearGradient><linearGradient id="h67" x1="0" y1="0" x2="0" y2="1"><stop offset="0" stop-color="#fee6e6"/><stop offset="0.34" stop-color="#fee6e6"/><stop offset="0.34" stop-color="#fef2f2"/><stop offset="0.59" stop-color="#fef2f2"/><stop offset="0.6" stop-color="#ffffff"/><stop offset="0.79" stop-color="#ffffff"/><stop offset="0.8" stop-color="#f2f2fe"/><stop offset="0.84" stop-color="#f2f2fe"/><stop offset="0.84" stop-color="#e5e6fe"/><stop offset="0.87" stop-color="#e5e6fe"/><stop offset="0.87" stop-color="#d8dafe"/><stop offset="0.89" stop-color="#d8dafe"/><stop offset="0.89" stop-color="#cbcdfd"/><stop offset="0.91" stop-color="#cbcdfd"/><stop offset="0.91" stop-color="#bec0fc"/><stop offset="0.92" stop-color="#bec0fc"/><stop offset="0.93" stop-color="#b0b4fc"/><stop offset="0.96" stop-color="#b0b4fc"/><stop offset="0.96" stop-color="#a3a8fc"/><stop offset="1" stop-color="#a3a8fc"/></linearGradient><linearGradient id="h68" x1="0" y1="0" x2="0" y2="1"><stop offset="0" stop-color="#fee6e6"/><stop offset="0.63" stop-color="#fee6e6"/><stop offset="0.63" stop-color="#fef2f2"/><stop offset="0.97" stop-color="#fef2f2"/><stop offset="0.97" stop-color="#ffffff"/><stop offset="1" stop-color="#ffffff"/></linearGradient><linearGradient id="h69" x1="0" y1="0" x2="0" y2="1"><stop offset="0" stop-color="#fee6e6"/><stop offset="0.69" stop-color="#fee6e6"/><stop offset="0.69" stop-color="#fef2f2"/><stop offset="1" stop-color="#fef2f2"/></linearGradient><linearGradient id="h70" x1="0" y1="0" x2="0" y2="1"><stop offset="0" stop-color="#fee6e6"/><stop offset="0.75" stop-color="#fee6e6"/><stop offset="0.75" stop-color="#fef2f2"/><stop offset="1" stop-color="#fef2f2"/></linearGradient><linearGradient id="h71" x1="0" y1="0" x2="0" y2="1"><stop offset="0" stop-color="#fdd9d9"/><stop offset="0.26" stop-color="#fdd9d9"/><stop offset="0.27" stop-color="#fee6e6"/><stop offset="0.8" stop-color="#fee6e6"/><stop offset="0.81" stop-color="#fef2f2"/><stop offset="1" stop-color="#fef2f2"/></linearGradient><linearGradient id="h72" x1="0" y1="0" x2="0" y2="1"><stop offset="0" stop-color="#fdd9d9"/><stop offset="0.55" stop-color="#fdd9d9"/><stop offset="0.56" stop-color="#fee6e6"/><stop offset="0.86" stop-color="#fee6e6"/><stop offset="0.86" stop-color="#fef2f2"/><stop offset="1" stop-color="#fef2f2"/></linearGradient><linearGradient id="h73" x1="0" y1="0" x2="0" y2="1"><stop offset="0" stop-color="#fee6e6"/><stop offset="0.81" stop-color="#fee6e6"/><stop offset="0.81" stop-color="#fef2f2"/><stop offset="0.87" stop-color="#fef2f2"/><stop offset="0.87" stop-color="#fee6e6"/><stop offset="0.93" stop-color="#fee6e6"/><stop offset="0.93" stop-color="#fef2f2"/><stop offset="1" stop-color="#fef2f2"/></linearGradient><linearGradient id="h74" x1="0" y1="0" x2="0" y2="1"><stop offset="0" stop-color="#fccccc"/><stop offset="0.25" stop-color="#fccccc"/><stop offset="0.25" stop-color="#fbbfbf"/><stop offset="0.8" stop-color="#fbbfbf"/><stop offset="0.8" stop-color="#fccccc"/><stop offset="0.85" stop-color="#fccccc"/><stop offset="0.85" stop-color="#fdd9d9"/><stop offset="0.88" stop-color="#fdd9d9"/><stop offset="0.88" stop-color="#fee6e6"/><stop offset="0.9" stop-color="#fee6e6"/><stop offset="0.91" stop-color="#fef2f2"/><stop offset="0.96" stop-color="#fef2f2"/><stop offset="0.96" stop-color="#fee6e6"/><stop offset="1" stop-color="#fee6e6"/></linearGradient><linearGradient id="h75" x1="0" y1="0" x2="0" y2="1"><stop offset="0" stop-color="#fbbfbf"/><stop offset="0.26" stop-color="#fbbfbf"/><stop offset="0.26" stop-color="#fab2b2"/><stop offset="0.85" stop-color="#fab2b2"/><stop offset="0.85" stop-color="#fbbfbf"/><stop offset="0.9" stop-color="#fbbfbf"/><stop offset="0.9" stop-color="#fccccc"/><stop offset="0.93" stop-color="#fccccc"/><stop offset="0.93" stop-color="#fdd9d9"/><stop offset="0.97" stop-color="#fdd9d9"/><stop offset="0.98" stop-color="#fee6e6"/><stop offset="1" stop-color="#fee6e6"/></linearGradient><linearGradient id="h76" x1="0" y1="0" x2="0" y2="1"><stop offset="0" stop-color="#fbbfbf"/><stop offset="0.15" stop-color="#fbbfbf"/><stop offset="0.15" stop-color="#fab2b2"/><stop offset="0.56" stop-color="#fab2b2"/><stop offset="0.57" stop-color="#faa6a6"/><stop offset="0.65" stop-color="#faa6a6"/><stop offset="0.65" stop-color="#fab2b2"/><stop offset="0.92" stop-color="#fab2b2"/><stop offset="0.92" stop-color="#fbbfbf"/><stop offset="1" stop-color="#fbbfbf"/></linearGradient><linearGradient id="h77" x1="0" y1="0" x2="0" y2="1"><stop offset="0" stop-color="#fbbfbf"/><stop offset="0.06" stop-color="#fbbfbf"/><stop offset="0.07" stop-color="#fab2b2"/><stop offset="0.5" stop-color="#fab2b2"/><stop offset="0.5" stop-color="#faa6a6"/><stop offset="0.71" stop-color="#faa6a6"/><stop offset="0.72" stop-color="#fab2b2"/><stop offset="1" stop-color="#fab2b2"/></linearGradient><linearGradient id="h78" x1="0" y1="0" x2="0" y2="1"><stop offset="0" stop-color="#fab2b2"/><stop offset="0.45" stop-color="#fab2b2"/><stop offset="0.46" stop-color="#faa6a6"/><stop offset="0.75" stop-color="#faa6a6"/><stop offset="0.76" stop-color="#fab2b2"/><stop offset="1" stop-color="#fab2b2"/></linearGradient><linearGradient id="h79" x1="0" y1="0" x2="0" y2="1"><stop offset="0" stop-color="#fab2b2"/><stop offset="0.41" stop-color="#fab2b2"/><stop offset="0.42" stop-color="#faa6a6"/><stop offset="0.8" stop-color="#faa6a6"/><stop offset="0.8" stop-color="#fab2b2"/><stop offset="1" stop-color="#fab2b2"/></linearGradient><linearGradient id="h80" x1="0" y1="0" x2="0" y2="1"><stop offset="0" stop-color="#fab2b2"/><stop offset="0.38" stop-color="#fab2b2"/><stop offset="0.38" stop-color="#faa6a6"/><stop offset="0.83" stop-color="#faa6a6"/><stop offset="0.83" stop-color="#fab2b2"/><stop offset="1" stop-color="#fab2b2"/></linearGradient><linearGradient id="h81" x1="0" y1="0" x2="0" y2="1"><stop offset="0" stop-color="#fab2b2"/><stop offset="0.35" stop-color="#fab2b2"/><stop offset="0.36" stop-color="#faa6a6"/><stop offset="0.86" stop-color="#faa6a6"/><stop offset="0.86" stop-color="#fab2b2"/><stop offset="1" stop-color="#fab2b2"/></linearGradient><linearGradient id="h82" x1="0" y1="0" x2="0" y2="1"><stop offset="0" stop-color="#fab2b2"/><stop offset="0.35" stop-color="#fab2b2"/><stop offset="0.35" stop-color="#faa6a6"/><stop offset="0.86" stop-color="#faa6a6"/><stop offset="0.87" stop-color="#fab2b2"/><stop offset="1" stop-color="#fab2b2"/></linearGradient><linearGradient id="h83" x1="0" y1="0" x2="0" y2="1"><stop offset="0" stop-color="#fab2b2"/><stop offset="0.37" stop-color="#fab2b2"/><stop offset="0.37" stop-color="#faa6a6"/><stop offset="0.84" stop-color="#faa6a6"/><stop offset="0.85" stop-color="#fab2b2"/><stop offset="1" stop-color="#fab2b2"/></linearGradient><linearGradient id="h84" x1="0" y1="0" x2="0" y2="1"><stop offset="0" stop-color="#fab2b2"/><stop offset="0.4" stop-color="#fab2b2"/><stop offset="0.4" stop-color="#faa6a6"/><stop offset="0.81" stop-color="#faa6a6"/><stop offset="0.82" stop-color="#fab2b2"/><stop offset="1" stop-color="#fab2b2"/></linearGradient><linearGradient id="h85" x1="0" y1="0" x2="0" y2="1"><stop offset="0" stop-color="#fab2b2"/><stop offset="0.44" stop-color="#fab2b2"/><stop offset="0.44" stop-color="#faa6a6"/><stop offset="0.77" stop-color="#faa6a6"/><stop offset="0.78" stop-color="#fab2b2"/><stop offset="1" stop-color="#fab2b2"/></linearGradient><linearGradient id="h86" x1="0" y1="0" x2="0" y2="1"><stop offset="0" stop-color="#fab2b2"/><stop offset="0.48" stop-color="#fab2b2"/><stop offset="0.48" stop-color="#faa6a6"/><stop offset="0.73" stop-color="#faa6a6"/><stop offset="0.73" stop-color="#fab2b2"/><stop offset="1" stop-color="#fab2b2"/></linearGradient><linearGradient id="h87" x1="0" y1="0" x2="0" y2="1"><stop offset="0" stop-color="#fbbfbf"/><stop offset="0.11" stop-color="#fbbfbf"/><stop offset="0.12" stop-color="#fab2b2"/><stop offset="0.52" stop-color="#fab2b2"/><stop offset="0.53" stop-color="#faa6a6"/><stop offset="0.69" stop-color="#faa6a6"/><stop offset="0.69" stop-color="#fab2b2"/><stop offset="1" stop-color="#fab2b2"/></linearGradient><linearGradient id="h88" x1="0" y1="0" x2="0" y2="1"><stop offset="0" stop-color="#fbbfbf"/><stop offset="0.16" stop-color="#fbbfbf"/><stop offset="0.16" stop-color="#fab2b2"/><stop offset="0.57" stop-color="#fab2b2"/><stop offset="0.57" stop-color="#faa6a6"/><stop offset="0.64" stop-color="#faa6a6"/><stop offset="0.65" stop-color="#fab2b2"/><stop offset="1" stop-color="#fab2b2"/></linearGradient><linearGradient id="h89" x1="0" y1="0" x2="0" y2="1"><stop offset="0" stop-color="#fbbfbf"/><stop offset="0.18" stop-color="#fbbfbf"/><stop offset="0.18" stop-color="#fab2b2"/><stop offset="1" stop-color="#fab2b2"/></linearGradient><linearGradient id="h90" x1="0" y1="0" x2="0" y2="1"><stop offset="0" stop-color="#fbbfbf"/><stop offset="0.19" stop-color="#fbbfbf"/><stop offset="0.19" stop-color="#fab2b2"/><stop offset="1" stop-color="#fab2b2"/></linearGradient><linearGradient id="h91" x1="0" y1="0" x2="0" y2="1"><stop offset="0" stop-color="#fbbfbf"/><stop offset="0.19" stop-color="#fbbfbf"/><stop offset="0.2" stop-color="#fab2b2"/><stop offset="1" stop-color="#fab2b2"/></linearGradient></defs>
<g shape-rendering="crispEdges"><rect x="274.8" y="146.3" width="1.3" height="129.7" fill="url(#h1)"/><rect x="275.8" y="146.3" width="1.3" height="129.7" fill="url(#h1)"/><rect x="276.8" y="146.3" width="1.3" height="129.7" fill="url(#h1)"/><rect x="277.8" y="146.3" width="1.3" height="129.7" fill="url(#h1)"/><rect x="278.8" y="146.3" width="1.3" height="129.7" fill="url(#h2)"/><rect x="279.8" y="146.3" width="1.3" height="129.7" fill="url(#h3)"/><rect x="280.8" y="146.3" width="1.3" height="129.7" fill="url(#h4)"/><rect x="281.8" y="146.3" width="1.3" height="129.7" fill="url(#h5)"/><rect x="282.8" y="146.3" width="1.3" height="129.7" fill="url(#h6)"/><rect x="283.8" y="146.3" width="1.3" height="129.7" fill="url(#h7)"/><rect x="284.8" y="146.3" width="1.3" height="129.7" fill="url(#h8)"/><rect x="285.8" y="146.3" width="1.3" height="129.7" fill="url(#h9)"/><rect x="286.8" y="146.3" width="1.3" height="129.7" fill="url(#h10)"/><rect x="287.8" y="146.3" width="1.3" height="129.7" fill="url(#h10)"/><rect x="288.8" y="146.3" width="1.3" height="129.7" fill="url(#h10)"/><rect x="289.8" y="146.3" width="1.3" height="129.7" fill="url(#h11)"/><rect x="290.8" y="146.3" width="1.3" height="129.7" fill="url(#h12)"/><rect x="291.8" y="146.3" width="1.3" height="129.7" fill="#ffffff"/><rect x="292.8" y="146.3" width="1.3" height="129.7" fill="url(#h13)"/><rect x="293.8" y="146.3" width="1.3" height="129.7" fill="url(#h14)"/><rect x="294.8" y="146.3" width="1.3" height="129.7" fill="url(#h15)"/><rect x="295.8" y="146.3" width="1.3" height="129.7" fill="url(#h16)"/><rect x="296.8" y="146.3" width="1.3" height="129.7" fill="url(#h17)"/><rect x="297.8" y="146.3" width="1.3" height="129.7" fill="url(#h18)"/><rect x="298.8" y="146.3" width="1.3" height="129.7" fill="url(#h19)"/><rect x="299.8" y="146.3" width="1.3" height="129.7" fill="url(#h20)"/><rect x="300.8" y="146.3" width="1.3" height="129.7" fill="url(#h21)"/><rect x="301.8" y="146.3" width="1.3" height="129.7" fill="url(#h22)"/><rect x="302.8" y="146.3" width="1.3" height="129.7" fill="url(#h23)"/><rect x="303.8" y="146.3" width="1.3" height="129.7" fill="url(#h24)"/><rect x="304.8" y="146.3" width="1.3" height="129.7" fill="url(#h25)"/><rect x="305.8" y="146.3" width="1.3" height="129.7" fill="url(#h26)"/><rect x="306.8" y="146.3" width="1.3" height="129.7" fill="url(#h27)"/><rect x="307.8" y="146.3" width="1.3" height="129.7" fill="url(#h28)"/><rect x="308.8" y="146.3" width="1.3" height="129.7" fill="url(#h29)"/><rect x="309.8" y="146.3" width="1.3" height="129.7" fill="url(#h30)"/><rect x="310.8" y="146.3" width="1.3" height="129.7" fill="url(#h31)"/><rect x="311.8" y="146.3" width="1.3" height="129.7" fill="url(#h32)"/><rect x="312.8" y="146.3" width="1.3" height="129.7" fill="url(#h33)"/><rect x="313.8" y="146.3" width="1.3" height="129.7" fill="url(#h34)"/><rect x="314.8" y="146.3" width="1.3" height="129.7" fill="url(#h35)"/><rect x="315.8" y="146.3" width="1.3" height="129.7" fill="url(#h36)"/><rect x="316.8" y="146.3" width="1.3" height="129.7" fill="url(#h37)"/><rect x="317.8" y="146.3" width="1.3" height="129.7" fill="url(#h38)"/><rect x="318.8" y="146.3" width="1.3" height="129.7" fill="url(#h39)"/><rect x="319.8" y="146.3" width="1.3" height="129.7" fill="url(#h40)"/><rect x="320.8" y="146.3" width="1.3" height="129.7" fill="url(#h41)"/><rect x="321.8" y="146.3" width="1.3" height="129.7" fill="url(#h42)"/><rect x="322.8" y="146.3" width="1.3" height="129.7" fill="url(#h43)"/><rect x="323.8" y="146.3" width="1.3" height="129.7" fill="url(#h44)"/><rect x="324.8" y="146.3" width="1.3" height="129.7" fill="url(#h45)"/><rect x="325.8" y="146.3" width="1.3" height="129.7" fill="url(#h46)"/><rect x="326.8" y="146.3" width="1.3" height="129.7" fill="url(#h47)"/><rect x="327.8" y="146.3" width="1.3" height="129.7" fill="url(#h48)"/><rect x="328.8" y="146.3" width="1.3" height="129.7" fill="url(#h49)"/><rect x="329.8" y="146.3" width="1.3" height="129.7" fill="url(#h50)"/><rect x="330.8" y="146.3" width="1.3" height="129.7" fill="url(#h51)"/><rect x="331.8" y="146.3" width="1.3" height="129.7" fill="url(#h52)"/><rect x="332.8" y="146.3" width="1.3" height="129.7" fill="url(#h53)"/><rect x="333.8" y="146.3" width="1.3" height="129.7" fill="url(#h54)"/><rect x="334.8" y="146.3" width="1.3" height="129.7" fill="url(#h55)"/><rect x="335.8" y="146.3" width="1.3" height="129.7" fill="url(#h56)"/><rect x="336.8" y="146.3" width="1.3" height="129.7" fill="url(#h57)"/><rect x="337.8" y="146.3" width="1.3" height="129.7" fill="url(#h58)"/><rect x="338.8" y="146.3" width="1.3" height="129.7" fill="url(#h58)"/><rect x="339.8" y="146.3" width="1.3" height="129.7" fill="url(#h58)"/><rect x="340.8" y="146.3" width="1.3" height="129.7" fill="url(#h59)"/><rect x="341.8" y="146.3" width="1.3" height="129.7" fill="url(#h60)"/><rect x="342.8" y="146.3" width="1.3" height="129.7" fill="url(#h61)"/><rect x="343.8" y="146.3" width="1.3" height="129.7" fill="url(#h62)"/><rect x="344.8" y="146.3" width="1.3" height="129.7" fill="url(#h63)"/><rect x="345.8" y="146.3" width="1.3" height="129.7" fill="url(#h64)"/><rect x="346.8" y="146.3" width="1.3" height="129.7" fill="url(#h65)"/><rect x="347.8" y="146.3" width="1.3" height="129.7" fill="url(#h66)"/><rect x="348.8" y="146.3" width="1.3" height="129.7" fill="url(#h67)"/><rect x="349.8" y="146.3" width="1.3" height="129.7" fill="url(#h68)"/><rect x="350.8" y="146.3" width="1.3" height="129.7" fill="url(#h69)"/><rect x="351.8" y="146.3" width="1.3" height="129.7" fill="url(#h70)"/><rect x="352.8" y="146.3" width="1.3" height="129.7" fill="url(#h71)"/><rect x="353.8" y="146.3" width="1.3" height="129.7" fill="url(#h72)"/><rect x="354.8" y="146.3" width="1.3" height="129.7" fill="url(#h73)"/><rect x="355.8" y="146.3" width="1.3" height="129.7" fill="url(#h74)"/><rect x="356.8" y="146.3" width="1.3" height="129.7" fill="url(#h75)"/><rect x="357.8" y="146.3" width="1.3" height="129.7" fill="url(#h76)"/><rect x="358.8" y="146.3" width="1.3" height="129.7" fill="url(#h77)"/><rect x="359.8" y="146.3" width="1.3" height="129.7" fill="url(#h78)"/><rect x="360.8" y="146.3" width="1.3" height="129.7" fill="url(#h79)"/><rect x="361.8" y="146.3" width="1.3" height="129.7" fill="url(#h80)"/><rect x="362.8" y="146.3" width="1.3" height="129.7" fill="url(#h81)"/><rect x="363.8" y="146.3" width="1.3" height="129.7" fill="url(#h82)"/><rect x="364.8" y="146.3" width="1.3" height="129.7" fill="url(#h83)"/><rect x="365.8" y="146.3" width="1.3" height="129.7" fill="url(#h84)"/><rect x="366.8" y="146.3" width="1.3" height="129.7" fill="url(#h85)"/><rect x="367.8" y="146.3" width="1.3" height="129.7" fill="url(#h86)"/><rect x="368.8" y="146.3" width="1.3" height="129.7" fill="url(#h87)"/><rect x="369.8" y="146.3" width="1.3" height="129.7" fill="url(#h88)"/><rect x="370.8" y="146.3" width="1.3" height="129.7" fill="url(#h89)"/><rect x="371.8" y="146.3" width="1.3" height="129.7" fill="url(#h90)"/><rect x="372.8" y="146.3" width="0.8" height="129.7" fill="url(#h91)"/></g>
<defs><linearGradient id="h92" x1="0" y1="0" x2="0" y2="1"><stop offset="0" stop-color="#fddddd"/><stop offset="0.7" stop-color="#fde2e2"/><stop offset="1" stop-color="#fee7e7"/></linearGradient><linearGradient id="h93" x1="0" y1="0" x2="0" y2="1"><stop offset="0" stop-color="#fddada"/><stop offset="0.69" stop-color="#fddfdf"/><stop offset="1" stop-color="#fee6e6"/></linearGradient><linearGradient id="h94" x1="0" y1="0" x2="0" y2="1"><stop offset="0" stop-color="#feefef"/><stop offset="1" stop-color="#fef1f1"/></linearGradient><linearGradient id="h95" x1="0" y1="0" x2="0" y2="1"><stop offset="0" stop-color="#fef4f4"/><stop offset="1" stop-color="#fef6f6"/></linearGradient><linearGradient id="h96" x1="0" y1="0" x2="0" y2="1"><stop offset="0" stop-color="#fef6f6"/><stop offset="1" stop-color="#fff8f8"/></linearGradient><linearGradient id="h97" x1="0" y1="0" x2="0" y2="1"><stop offset="0" stop-color="#fff9f9"/><stop offset="1" stop-color="#fffcfc"/></linearGradient><linearGradient id="h98" x1="0" y1="0" x2="0" y2="1"><stop offset="0" stop-color="#fffdfd"/><stop offset="1" stop-color="#fdfdff"/></linearGradient><linearGradient id="h99" x1="0" y1="0" x2="0" y2="1"><stop offset="0" stop-color="#fcfcff"/><stop offset="1" stop-color="#f9f9ff"/></linearGradient><linearGradient id="h100" x1="0" y1="0" x2="0" y2="1"><stop offset="0" stop-color="#f5f5ff"/><stop offset="1" stop-color="#f5f6ff"/></linearGradient><linearGradient id="h101" x1="0" y1="0" x2="0" y2="1"><stop offset="0" stop-color="#f5f5ff"/><stop offset="1" stop-color="#f6f6ff"/></linearGradient><linearGradient id="h102" x1="0" y1="0" x2="0" y2="1"><stop offset="0" stop-color="#f5f5ff"/><stop offset="1" stop-color="#f6f7ff"/></linearGradient><linearGradient id="h103" x1="0" y1="0" x2="0" y2="1"><stop offset="0" stop-color="#f5f5ff"/><stop offset="1" stop-color="#f7f7ff"/></linearGradient><linearGradient id="h104" x1="0" y1="0" x2="0" y2="1"><stop offset="0" stop-color="#f5f5ff"/><stop offset="1" stop-color="#f7f8ff"/></linearGradient><linearGradient id="h105" x1="0" y1="0" x2="0" y2="1"><stop offset="0" stop-color="#f5f5ff"/><stop offset="1" stop-color="#f8f9ff"/></linearGradient><linearGradient id="h106" x1="0" y1="0" x2="0" y2="1"><stop offset="0" stop-color="#f5f5ff"/><stop offset="1" stop-color="#f9faff"/></linearGradient><linearGradient id="h107" x1="0" y1="0" x2="0" y2="1"><stop offset="0" stop-color="#f7f7ff"/><stop offset="1" stop-color="#fcfcff"/></linearGradient><linearGradient id="h108" x1="0" y1="0" x2="0" y2="1"><stop offset="0" stop-color="#fcfcff"/><stop offset="1" stop-color="#fffefe"/></linearGradient><linearGradient id="h109" x1="0" y1="0" x2="0" y2="1"><stop offset="0" stop-color="#fffefe"/><stop offset="1" stop-color="#fff8f8"/></linearGradient><linearGradient id="h110" x1="0" y1="0" x2="0" y2="1"><stop offset="0" stop-color="#fffafa"/><stop offset="0.97" stop-color="#fef3f3"/><stop offset="1" stop-color="#fef3f3"/></linearGradient><linearGradient id="h111" x1="0" y1="0" x2="0" y2="1"><stop offset="0" stop-color="#fff7f7"/><stop offset="0.88" stop-color="#fef0f0"/><stop offset="1" stop-color="#feeeee"/></linearGradient><linearGradient id="h112" x1="0" y1="0" x2="0" y2="1"><stop offset="0" stop-color="#fef5f5"/><stop offset="0.84" stop-color="#feefef"/><stop offset="1" stop-color="#feeaea"/></linearGradient><linearGradient id="h113" x1="0" y1="0" x2="0" y2="1"><stop offset="0" stop-color="#fef5f5"/><stop offset="0.78" stop-color="#feefef"/><stop offset="1" stop-color="#fee7e7"/></linearGradient><linearGradient id="h114" x1="0" y1="0" x2="0" y2="1"><stop offset="0" stop-color="#fef4f4"/><stop offset="0.72" stop-color="#feefef"/><stop offset="1" stop-color="#fde4e4"/></linearGradient><linearGradient id="h115" x1="0" y1="0" x2="0" y2="1"><stop offset="0" stop-color="#fef4f4"/><stop offset="0.67" stop-color="#feefef"/><stop offset="1" stop-color="#fde0e0"/></linearGradient><linearGradient id="h116" x1="0" y1="0" x2="0" y2="1"><stop offset="0" stop-color="#fef4f4"/><stop offset="0.64" stop-color="#feefef"/><stop offset="1" stop-color="#fddcdc"/></linearGradient><linearGradient id="h117" x1="0" y1="0" x2="0" y2="1"><stop offset="0" stop-color="#fef4f4"/><stop offset="0.62" stop-color="#feefef"/><stop offset="1" stop-color="#fdd8d8"/></linearGradient><linearGradient id="h118" x1="0" y1="0" x2="0" y2="1"><stop offset="0" stop-color="#fef4f4"/><stop offset="0.6" stop-color="#feefef"/><stop offset="1" stop-color="#fcd4d4"/></linearGradient><linearGradient id="h119" x1="0" y1="0" x2="0" y2="1"><stop offset="0" stop-color="#fef4f4"/><stop offset="0.59" stop-color="#feefef"/><stop offset="1" stop-color="#fccfcf"/></linearGradient><linearGradient id="h120" x1="0" y1="0" x2="0" y2="1"><stop offset="0" stop-color="#fef4f4"/><stop offset="0.58" stop-color="#feefef"/><stop offset="1" stop-color="#fccaca"/></linearGradient><linearGradient id="h121" x1="0" y1="0" x2="0" y2="1"><stop offset="0" stop-color="#fef3f3"/><stop offset="0.57" stop-color="#feefef"/><stop offset="1" stop-color="#fcc6c6"/></linearGradient><linearGradient id="h122" x1="0" y1="0" x2="0" y2="1"><stop offset="0" stop-color="#fef3f3"/><stop offset="0.57" stop-color="#feefef"/><stop offset="1" stop-color="#fbc1c1"/></linearGradient><linearGradient id="h123" x1="0" y1="0" x2="0" y2="1"><stop offset="0" stop-color="#fef3f3"/><stop offset="0.56" stop-color="#feeeee"/><stop offset="1" stop-color="#fbbcbc"/></linearGradient><linearGradient id="h124" x1="0" y1="0" x2="0" y2="1"><stop offset="0" stop-color="#fef3f3"/><stop offset="0.55" stop-color="#feeeee"/><stop offset="0.88" stop-color="#fcc5c5"/><stop offset="1" stop-color="#fbb8b8"/></linearGradient><linearGradient id="h125" x1="0" y1="0" x2="0" y2="1"><stop offset="0" stop-color="#fef3f3"/><stop offset="0.55" stop-color="#feeeee"/><stop offset="0.86" stop-color="#fcc6c6"/><stop offset="1" stop-color="#fbb4b4"/></linearGradient><linearGradient id="h126" x1="0" y1="0" x2="0" y2="1"><stop offset="0" stop-color="#fef3f3"/><stop offset="0.55" stop-color="#feeeee"/><stop offset="0.85" stop-color="#fcc5c5"/><stop offset="1" stop-color="#fab1b1"/></linearGradient><linearGradient id="h127" x1="0" y1="0" x2="0" y2="1"><stop offset="0" stop-color="#fef2f2"/><stop offset="0.55" stop-color="#feeeee"/><stop offset="0.83" stop-color="#fcc5c5"/><stop offset="1" stop-color="#faaeae"/></linearGradient><linearGradient id="h128" x1="0" y1="0" x2="0" y2="1"><stop offset="0" stop-color="#fef2f2"/><stop offset="0.54" stop-color="#feeeee"/><stop offset="0.82" stop-color="#fcc6c6"/><stop offset="1" stop-color="#faabab"/></linearGradient></defs>
<g shape-rendering="crispEdges"><rect x="375.8" y="146.3" width="2.3" height="129.7" fill="url(#h92)"/><rect x="377.8" y="146.3" width="2.3" height="129.7" fill="url(#h93)"/><rect x="379.8" y="146.3" width="2.3" height="129.7" fill="url(#h94)"/><rect x="381.8" y="146.3" width="2.3" height="129.7" fill="url(#h95)"/><rect x="383.8" y="146.3" width="2.3" height="129.7" fill="url(#h96)"/><rect x="385.8" y="146.3" width="2.3" height="129.7" fill="url(#h97)"/><rect x="387.8" y="146.3" width="2.3" height="129.7" fill="url(#h98)"/><rect x="389.8" y="146.3" width="2.3" height="129.7" fill="url(#h99)"/><rect x="391.8" y="146.3" width="2.3" height="129.7" fill="#f5f6ff"/><rect x="393.8" y="146.3" width="2.3" height="129.7" fill="url(#h100)"/><rect x="395.8" y="146.3" width="2.3" height="129.7" fill="url(#h101)"/><rect x="397.8" y="146.3" width="2.3" height="129.7" fill="url(#h101)"/><rect x="399.8" y="146.3" width="2.3" height="129.7" fill="url(#h102)"/><rect x="401.8" y="146.3" width="2.3" height="129.7" fill="url(#h103)"/><rect x="403.8" y="146.3" width="2.3" height="129.7" fill="url(#h104)"/><rect x="405.8" y="146.3" width="2.3" height="129.7" fill="url(#h105)"/><rect x="407.8" y="146.3" width="2.3" height="129.7" fill="url(#h106)"/><rect x="409.8" y="146.3" width="2.3" height="129.7" fill="url(#h107)"/><rect x="411.8" y="146.3" width="2.3" height="129.7" fill="url(#h108)"/><rect x="413.8" y="146.3" width="2.3" height="129.7" fill="url(#h109)"/><rect x="415.8" y="146.3" width="2.3" height="129.7" fill="url(#h110)"/><rect x="417.8" y="146.3" width="2.3" height="129.7" fill="url(#h111)"/><rect x="419.8" y="146.3" width="2.3" height="129.7" fill="url(#h112)"/><rect x="421.8" y="146.3" width="2.3" height="129.7" fill="url(#h113)"/><rect x="423.8" y="146.3" width="2.3" height="129.7" fill="url(#h114)"/><rect x="425.8" y="146.3" width="2.3" height="129.7" fill="url(#h115)"/><rect x="427.8" y="146.3" width="2.3" height="129.7" fill="url(#h116)"/><rect x="429.8" y="146.3" width="2.3" height="129.7" fill="url(#h117)"/><rect x="431.8" y="146.3" width="2.3" height="129.7" fill="url(#h118)"/><rect x="433.8" y="146.3" width="2.3" height="129.7" fill="url(#h119)"/><rect x="435.8" y="146.3" width="2.3" height="129.7" fill="url(#h120)"/><rect x="437.8" y="146.3" width="2.3" height="129.7" fill="url(#h121)"/><rect x="439.8" y="146.3" width="2.3" height="129.7" fill="url(#h122)"/><rect x="441.8" y="146.3" width="2.3" height="129.7" fill="url(#h123)"/><rect x="443.8" y="146.3" width="2.3" height="129.7" fill="url(#h124)"/><rect x="445.8" y="146.3" width="2.3" height="129.7" fill="url(#h125)"/><rect x="447.8" y="146.3" width="2.3" height="129.7" fill="url(#h126)"/><rect x="449.8" y="146.3" width="2.3" height="129.7" fill="url(#h127)"/><rect x="451.8" y="146.3" width="1.5" height="129.7" fill="url(#h128)"/></g>
<line x1="274.8" y1="146.3" x2="453" y2="146.3" stroke="#8a8a8a" stroke-width="0.9"/>
<line x1="274.8" y1="276" x2="453" y2="276" stroke="#8a8a8a" stroke-width="0.9"/>
<line x1="274.8" y1="146.3" x2="274.8" y2="276" stroke="#8a8a8a" stroke-width="0.9"/>
<line x1="453" y1="146.3" x2="453" y2="276" stroke="#8a8a8a" stroke-width="0.9"/>
<rect x="373.2" y="145.8" width="2.6" height="130.7" fill="#ffffff"/>
<line x1="372" y1="148.8" x2="374" y2="143.8" stroke="#444" stroke-width="0.75"/>
<line x1="375" y1="148.8" x2="377" y2="143.8" stroke="#444" stroke-width="0.75"/>
<line x1="372" y1="278.5" x2="374" y2="273.5" stroke="#444" stroke-width="0.75"/>
<line x1="375" y1="278.5" x2="377" y2="273.5" stroke="#444" stroke-width="0.75"/>
<line x1="288.8" y1="276" x2="288.8" y2="274" stroke="#3a3a3a" stroke-width="0.6"/>
<line x1="288.8" y1="146.3" x2="288.8" y2="148.3" stroke="#3a3a3a" stroke-width="0.6"/>
<text x="288.8" y="286.8" font-size="7.6" text-anchor="middle" fill="#231f20" stroke="#231f20" stroke-width="0.16">600</text>
<line x1="311.7" y1="276" x2="311.7" y2="274" stroke="#3a3a3a" stroke-width="0.6"/>
<line x1="311.7" y1="146.3" x2="311.7" y2="148.3" stroke="#3a3a3a" stroke-width="0.6"/>
<text x="311.7" y="286.8" font-size="7.6" text-anchor="middle" fill="#231f20" stroke="#231f20" stroke-width="0.16">700</text>
<line x1="334.6" y1="276" x2="334.6" y2="274" stroke="#3a3a3a" stroke-width="0.6"/>
<line x1="334.6" y1="146.3" x2="334.6" y2="148.3" stroke="#3a3a3a" stroke-width="0.6"/>
<text x="334.6" y="286.8" font-size="7.6" text-anchor="middle" fill="#231f20" stroke="#231f20" stroke-width="0.16">800</text>
<line x1="357.5" y1="276" x2="357.5" y2="274" stroke="#3a3a3a" stroke-width="0.6"/>
<line x1="357.5" y1="146.3" x2="357.5" y2="148.3" stroke="#3a3a3a" stroke-width="0.6"/>
<text x="357.5" y="286.8" font-size="7.6" text-anchor="middle" fill="#231f20" stroke="#231f20" stroke-width="0.16">900</text>
<line x1="393.7" y1="276" x2="393.7" y2="274" stroke="#3a3a3a" stroke-width="0.6"/>
<line x1="393.7" y1="146.3" x2="393.7" y2="148.3" stroke="#3a3a3a" stroke-width="0.6"/>
<text x="393.7" y="286.8" font-size="7.6" text-anchor="middle" fill="#231f20" stroke="#231f20" stroke-width="0.16">1,200</text>
<line x1="416.56" y1="276" x2="416.56" y2="274" stroke="#3a3a3a" stroke-width="0.6"/>
<line x1="416.56" y1="146.3" x2="416.56" y2="148.3" stroke="#3a3a3a" stroke-width="0.6"/>
<text x="416.56" y="286.8" font-size="7.6" text-anchor="middle" fill="#231f20" stroke="#231f20" stroke-width="0.16">1,400</text>
<line x1="439.42" y1="276" x2="439.42" y2="274" stroke="#3a3a3a" stroke-width="0.6"/>
<line x1="439.42" y1="146.3" x2="439.42" y2="148.3" stroke="#3a3a3a" stroke-width="0.6"/>
<text x="439.42" y="286.8" font-size="7.6" text-anchor="middle" fill="#231f20" stroke="#231f20" stroke-width="0.16">1,600</text>
<line x1="274.8" y1="275.1" x2="276.8" y2="275.1" stroke="#3a3a3a" stroke-width="0.6"/>
<line x1="453" y1="275.1" x2="451" y2="275.1" stroke="#3a3a3a" stroke-width="0.6"/>
<line x1="274.8" y1="255.7" x2="276.8" y2="255.7" stroke="#3a3a3a" stroke-width="0.6"/>
<line x1="453" y1="255.7" x2="451" y2="255.7" stroke="#3a3a3a" stroke-width="0.6"/>
<line x1="274.8" y1="242.5" x2="276.8" y2="242.5" stroke="#3a3a3a" stroke-width="0.6"/>
<line x1="453" y1="242.5" x2="451" y2="242.5" stroke="#3a3a3a" stroke-width="0.6"/>
<line x1="274.8" y1="216.7" x2="276.8" y2="216.7" stroke="#3a3a3a" stroke-width="0.6"/>
<line x1="453" y1="216.7" x2="451" y2="216.7" stroke="#3a3a3a" stroke-width="0.6"/>
<line x1="274.8" y1="180.7" x2="276.8" y2="180.7" stroke="#3a3a3a" stroke-width="0.6"/>
<line x1="453" y1="180.7" x2="451" y2="180.7" stroke="#3a3a3a" stroke-width="0.6"/>
<line x1="274.8" y1="157.8" x2="276.8" y2="157.8" stroke="#3a3a3a" stroke-width="0.6"/>
<line x1="453" y1="157.8" x2="451" y2="157.8" stroke="#3a3a3a" stroke-width="0.6"/>
<line x1="274.8" y1="270.25" x2="276" y2="270.25" stroke="#3a3a3a" stroke-width="0.5"/>
<line x1="453" y1="270.25" x2="451.8" y2="270.25" stroke="#3a3a3a" stroke-width="0.5"/>
<line x1="274.8" y1="265.4" x2="276" y2="265.4" stroke="#3a3a3a" stroke-width="0.5"/>
<line x1="453" y1="265.4" x2="451.8" y2="265.4" stroke="#3a3a3a" stroke-width="0.5"/>
<line x1="274.8" y1="260.55" x2="276" y2="260.55" stroke="#3a3a3a" stroke-width="0.5"/>
<line x1="453" y1="260.55" x2="451.8" y2="260.55" stroke="#3a3a3a" stroke-width="0.5"/>
<line x1="274.8" y1="234.73" x2="276" y2="234.73" stroke="#3a3a3a" stroke-width="0.5"/>
<line x1="453" y1="234.73" x2="451.8" y2="234.73" stroke="#3a3a3a" stroke-width="0.5"/>
<line x1="274.8" y1="230.19" x2="276" y2="230.19" stroke="#3a3a3a" stroke-width="0.5"/>
<line x1="453" y1="230.19" x2="451.8" y2="230.19" stroke="#3a3a3a" stroke-width="0.5"/>
<line x1="274.8" y1="226.97" x2="276" y2="226.97" stroke="#3a3a3a" stroke-width="0.5"/>
<line x1="453" y1="226.97" x2="451.8" y2="226.97" stroke="#3a3a3a" stroke-width="0.5"/>
<line x1="274.8" y1="224.47" x2="276" y2="224.47" stroke="#3a3a3a" stroke-width="0.5"/>
<line x1="453" y1="224.47" x2="451.8" y2="224.47" stroke="#3a3a3a" stroke-width="0.5"/>
<line x1="274.8" y1="222.42" x2="276" y2="222.42" stroke="#3a3a3a" stroke-width="0.5"/>
<line x1="453" y1="222.42" x2="451.8" y2="222.42" stroke="#3a3a3a" stroke-width="0.5"/>
<line x1="274.8" y1="220.7" x2="276" y2="220.7" stroke="#3a3a3a" stroke-width="0.5"/>
<line x1="453" y1="220.7" x2="451.8" y2="220.7" stroke="#3a3a3a" stroke-width="0.5"/>
<line x1="274.8" y1="219.2" x2="276" y2="219.2" stroke="#3a3a3a" stroke-width="0.5"/>
<line x1="453" y1="219.2" x2="451.8" y2="219.2" stroke="#3a3a3a" stroke-width="0.5"/>
<line x1="274.8" y1="217.88" x2="276" y2="217.88" stroke="#3a3a3a" stroke-width="0.5"/>
<line x1="453" y1="217.88" x2="451.8" y2="217.88" stroke="#3a3a3a" stroke-width="0.5"/>
<line x1="274.8" y1="208.93" x2="276" y2="208.93" stroke="#3a3a3a" stroke-width="0.5"/>
<line x1="453" y1="208.93" x2="451.8" y2="208.93" stroke="#3a3a3a" stroke-width="0.5"/>
<line x1="274.8" y1="204.39" x2="276" y2="204.39" stroke="#3a3a3a" stroke-width="0.5"/>
<line x1="453" y1="204.39" x2="451.8" y2="204.39" stroke="#3a3a3a" stroke-width="0.5"/>
<line x1="274.8" y1="201.17" x2="276" y2="201.17" stroke="#3a3a3a" stroke-width="0.5"/>
<line x1="453" y1="201.17" x2="451.8" y2="201.17" stroke="#3a3a3a" stroke-width="0.5"/>
<line x1="274.8" y1="192.15" x2="276" y2="192.15" stroke="#3a3a3a" stroke-width="0.5"/>
<line x1="453" y1="192.15" x2="451.8" y2="192.15" stroke="#3a3a3a" stroke-width="0.5"/>
<line x1="274.8" y1="169.25" x2="276" y2="169.25" stroke="#3a3a3a" stroke-width="0.5"/>
<line x1="453" y1="169.25" x2="451.8" y2="169.25" stroke="#3a3a3a" stroke-width="0.5"/>
<line x1="274.8" y1="146.35" x2="276" y2="146.35" stroke="#3a3a3a" stroke-width="0.5"/>
<line x1="453" y1="146.35" x2="451.8" y2="146.35" stroke="#3a3a3a" stroke-width="0.5"/>
<text x="270.5" y="277.8" font-size="7.6" text-anchor="end" fill="#231f20" stroke="#231f20" stroke-width="0.16">0</text>
<text x="270.5" y="258.4" font-size="7.6" text-anchor="end" fill="#231f20" stroke="#231f20" stroke-width="0.16">4</text>
<text x="270.5" y="245.2" font-size="7.6" text-anchor="end" fill="#231f20" stroke="#231f20" stroke-width="0.16">10</text>
<text x="270.5" y="219.4" font-size="7.6" text-anchor="end" fill="#231f20" stroke="#231f20" stroke-width="0.16">100</text>
<text x="270.5" y="183.4" font-size="7.6" text-anchor="end" fill="#231f20" stroke="#231f20" stroke-width="0.16">2,000</text>
<text x="270.5" y="160.5" font-size="7.6" text-anchor="end" fill="#231f20" stroke="#231f20" stroke-width="0.16">4,000</text>
<line x1="272.3" y1="199.6" x2="276.3" y2="197.3" stroke="#3a3a3a" stroke-width="0.6"/>
<line x1="451.5" y1="199.6" x2="455.5" y2="197.3" stroke="#3a3a3a" stroke-width="0.6"/>
<line x1="272.3" y1="251.6" x2="276.3" y2="249.3" stroke="#3a3a3a" stroke-width="0.6"/>
<line x1="451.5" y1="251.6" x2="455.5" y2="249.3" stroke="#3a3a3a" stroke-width="0.6"/>
<rect x="355.4" y="146.7" width="46.5" height="23.7" fill="#ffffff"/>
<rect x="359.2" y="158" width="36.8" height="2.4" fill="url(#cbar)" stroke="#333" stroke-width="0.4"/>
<text x="377.1" y="155.2" font-size="7.3" text-anchor="middle" fill="#231f20" stroke="#231f20" stroke-width="0.16">ΔO.D. (10<tspan dy="-2.6" font-size="5">−3</tspan><tspan dy="2.6">)</tspan></text>
<text x="356.4" y="168.2" font-size="7.5" fill="#231f20" stroke="#231f20" stroke-width="0.16">1.2</text>
<text x="377.7" y="168.2" font-size="7.5" text-anchor="middle" fill="#231f20" stroke="#231f20" stroke-width="0.16">0</text>
<text x="401" y="168.2" font-size="7.5" text-anchor="end" fill="#231f20" stroke="#231f20" stroke-width="0.16">−1.2</text>
<text x="364.4" y="300.8" font-size="7.9" text-anchor="middle" fill="#231f20" stroke="#231f20" stroke-width="0.16">Wavelength (nm)</text>
<text x="244.5" y="211" font-size="7.9" text-anchor="middle" fill="#231f20" stroke="#231f20" stroke-width="0.16" transform="rotate(-90 244.5 211)">Time delay (ps)</text>
<text x="237.6" y="147.6" font-size="10.5" fill="#231f20" font-weight="bold" stroke="#111" stroke-width="0.5">d</text>
<text x="272.6" y="207.5" font-size="7.8" fill="#231f20" stroke="#231f20" stroke-width="0.16">GSB<tspan dy="1.8" font-size="5">D</tspan></text>
<text x="295.2" y="207.3" font-size="7.8" fill="#231f20" stroke="#231f20" stroke-width="0.16">CS</text>
<text x="360.4" y="208.5" font-size="7.8" fill="#231f20" stroke="#231f20" stroke-width="0.16">CS</text>
<text x="328.6" y="271.2" font-size="7.8" fill="#231f20" stroke="#231f20" stroke-width="0.16">GSB<tspan dy="1.8" font-size="5">A</tspan></text>
<text x="359.3" y="273.8" font-size="7.8" fill="#231f20" stroke="#231f20" stroke-width="0.16">LE</text>
<text x="433.6" y="271.6" font-size="7.8" fill="#231f20" stroke="#231f20" stroke-width="0.16">DSE</text>
<text x="428.5" y="199" font-size="7.6" fill="#231f20" stroke="#231f20" stroke-width="0.16">T</text>
<text x="434" y="201.5" font-size="6.5" fill="#231f20" stroke="#231f20" stroke-width="0.16">1</text>
<defs><linearGradient id="h129" x1="0" y1="0" x2="0" y2="1"><stop offset="0" stop-color="#3d46f8"/><stop offset="0.92" stop-color="#474ff8"/><stop offset="1" stop-color="#5058f8"/></linearGradient><linearGradient id="h130" x1="0" y1="0" x2="0" y2="1"><stop offset="0" stop-color="#3d46f8"/><stop offset="0.92" stop-color="#464ff8"/><stop offset="1" stop-color="#4f57f8"/></linearGradient><linearGradient id="h131" x1="0" y1="0" x2="0" y2="1"><stop offset="0" stop-color="#3d46f8"/><stop offset="0.93" stop-color="#474ff8"/><stop offset="1" stop-color="#4e56f8"/></linearGradient><linearGradient id="h132" x1="0" y1="0" x2="0" y2="1"><stop offset="0" stop-color="#3d46f8"/><stop offset="0.93" stop-color="#474ff8"/><stop offset="1" stop-color="#4d55f8"/></linearGradient><linearGradient id="h133" x1="0" y1="0" x2="0" y2="1"><stop offset="0" stop-color="#3d46f8"/><stop offset="0.93" stop-color="#474ff8"/><stop offset="1" stop-color="#4c54f8"/></linearGradient><linearGradient id="h134" x1="0" y1="0" x2="0" y2="1"><stop offset="0" stop-color="#535bf8"/><stop offset="0.98" stop-color="#5c63f9"/><stop offset="1" stop-color="#5c64f9"/></linearGradient><linearGradient id="h135" x1="0" y1="0" x2="0" y2="1"><stop offset="0" stop-color="#6b72f9"/><stop offset="1" stop-color="#6e74f9"/></linearGradient><linearGradient id="h136" x1="0" y1="0" x2="0" y2="1"><stop offset="0" stop-color="#666df9"/><stop offset="1" stop-color="#676ef9"/></linearGradient><linearGradient id="h137" x1="0" y1="0" x2="0" y2="1"><stop offset="0" stop-color="#5960f9"/><stop offset="0.99" stop-color="#5a62f9"/><stop offset="1" stop-color="#5a62f9"/></linearGradient><linearGradient id="h138" x1="0" y1="0" x2="0" y2="1"><stop offset="0" stop-color="#2b35f7"/><stop offset="1" stop-color="#313bf7"/></linearGradient><linearGradient id="h139" x1="0" y1="0" x2="0" y2="1"><stop offset="0" stop-color="#0009f5"/><stop offset="0.93" stop-color="#020df5"/><stop offset="1" stop-color="#0914f6"/></linearGradient><linearGradient id="h140" x1="0" y1="0" x2="0" y2="1"><stop offset="0" stop-color="#0005f5"/><stop offset="0.93" stop-color="#0009f5"/><stop offset="1" stop-color="#0510f5"/></linearGradient><linearGradient id="h141" x1="0" y1="0" x2="0" y2="1"><stop offset="0" stop-color="#0005f5"/><stop offset="0.93" stop-color="#0009f5"/><stop offset="1" stop-color="#0410f5"/></linearGradient><linearGradient id="h142" x1="0" y1="0" x2="0" y2="1"><stop offset="0" stop-color="#3f48f8"/><stop offset="0.94" stop-color="#434bf8"/><stop offset="1" stop-color="#464ff8"/></linearGradient><linearGradient id="h143" x1="0" y1="0" x2="0" y2="1"><stop offset="0" stop-color="#fccccc"/><stop offset="0.49" stop-color="#fccccc"/><stop offset="0.49" stop-color="#fdd9d9"/><stop offset="0.9" stop-color="#fdd9d9"/><stop offset="0.9" stop-color="#fee6e6"/><stop offset="0.95" stop-color="#fee6e6"/><stop offset="0.95" stop-color="#fef2f2"/><stop offset="1" stop-color="#fef2f2"/></linearGradient><linearGradient id="h144" x1="0" y1="0" x2="0" y2="1"><stop offset="0" stop-color="#fccccc"/><stop offset="0.49" stop-color="#fccccc"/><stop offset="0.49" stop-color="#fdd9d9"/><stop offset="0.9" stop-color="#fdd9d9"/><stop offset="0.91" stop-color="#fee6e6"/><stop offset="0.96" stop-color="#fee6e6"/><stop offset="0.96" stop-color="#fef2f2"/><stop offset="1" stop-color="#fef2f2"/></linearGradient><linearGradient id="h145" x1="0" y1="0" x2="0" y2="1"><stop offset="0" stop-color="#fccccc"/><stop offset="0.49" stop-color="#fccccc"/><stop offset="0.49" stop-color="#fdd9d9"/><stop offset="0.9" stop-color="#fdd9d9"/><stop offset="0.9" stop-color="#fee6e6"/><stop offset="0.95" stop-color="#fee6e6"/><stop offset="0.96" stop-color="#fef2f2"/><stop offset="1" stop-color="#fef2f2"/></linearGradient><linearGradient id="h146" x1="0" y1="0" x2="0" y2="1"><stop offset="0" stop-color="#fccccc"/><stop offset="0.49" stop-color="#fccccc"/><stop offset="0.49" stop-color="#fdd9d9"/><stop offset="0.9" stop-color="#fdd9d9"/><stop offset="0.9" stop-color="#fee6e6"/><stop offset="0.95" stop-color="#fee6e6"/><stop offset="0.96" stop-color="#fef2f2"/><stop offset="1" stop-color="#fef2f2"/></linearGradient><linearGradient id="h147" x1="0" y1="0" x2="0" y2="1"><stop offset="0" stop-color="#fdd9d9"/><stop offset="0.47" stop-color="#fdd9d9"/><stop offset="0.47" stop-color="#fee6e6"/><stop offset="0.89" stop-color="#fee6e6"/><stop offset="0.9" stop-color="#fef2f2"/><stop offset="0.99" stop-color="#fef2f2"/><stop offset="0.99" stop-color="#ffffff"/><stop offset="1" stop-color="#ffffff"/></linearGradient><linearGradient id="h148" x1="0" y1="0" x2="0" y2="1"><stop offset="0" stop-color="#fee6e6"/><stop offset="0.59" stop-color="#fee6e6"/><stop offset="0.59" stop-color="#fef2f2"/><stop offset="0.92" stop-color="#fef2f2"/><stop offset="0.93" stop-color="#ffffff"/><stop offset="1" stop-color="#ffffff"/></linearGradient><linearGradient id="h149" x1="0" y1="0" x2="0" y2="1"><stop offset="0" stop-color="#fee6e6"/><stop offset="0.52" stop-color="#fee6e6"/><stop offset="0.52" stop-color="#fef2f2"/><stop offset="0.83" stop-color="#fef2f2"/><stop offset="0.83" stop-color="#ffffff"/><stop offset="1" stop-color="#ffffff"/></linearGradient><linearGradient id="h150" x1="0" y1="0" x2="0" y2="1"><stop offset="0" stop-color="#fee6e6"/><stop offset="0.48" stop-color="#fee6e6"/><stop offset="0.48" stop-color="#fef2f2"/><stop offset="0.7" stop-color="#fef2f2"/><stop offset="0.71" stop-color="#ffffff"/><stop offset="0.94" stop-color="#ffffff"/><stop offset="0.95" stop-color="#f2f2fe"/><stop offset="1" stop-color="#f2f2fe"/></linearGradient><linearGradient id="h151" x1="0" y1="0" x2="0" y2="1"><stop offset="0" stop-color="#fee6e6"/><stop offset="0.45" stop-color="#fee6e6"/><stop offset="0.45" stop-color="#fef2f2"/><stop offset="0.63" stop-color="#fef2f2"/><stop offset="0.63" stop-color="#ffffff"/><stop offset="0.91" stop-color="#ffffff"/><stop offset="0.92" stop-color="#f2f2fe"/><stop offset="0.98" stop-color="#f2f2fe"/><stop offset="0.98" stop-color="#e5e6fe"/><stop offset="1" stop-color="#e5e6fe"/></linearGradient><linearGradient id="h152" x1="0" y1="0" x2="0" y2="1"><stop offset="0" stop-color="#fee6e6"/><stop offset="0.41" stop-color="#fee6e6"/><stop offset="0.41" stop-color="#fef2f2"/><stop offset="0.59" stop-color="#fef2f2"/><stop offset="0.59" stop-color="#ffffff"/><stop offset="0.88" stop-color="#ffffff"/><stop offset="0.88" stop-color="#f2f2fe"/><stop offset="0.96" stop-color="#f2f2fe"/><stop offset="0.96" stop-color="#e5e6fe"/><stop offset="1" stop-color="#e5e6fe"/></linearGradient><linearGradient id="h153" x1="0" y1="0" x2="0" y2="1"><stop offset="0" stop-color="#fee6e6"/><stop offset="0.35" stop-color="#fee6e6"/><stop offset="0.36" stop-color="#fef2f2"/><stop offset="0.57" stop-color="#fef2f2"/><stop offset="0.57" stop-color="#ffffff"/><stop offset="0.84" stop-color="#ffffff"/><stop offset="0.85" stop-color="#f2f2fe"/><stop offset="0.94" stop-color="#f2f2fe"/><stop offset="0.95" stop-color="#e5e6fe"/><stop offset="1" stop-color="#e5e6fe"/></linearGradient><linearGradient id="h154" x1="0" y1="0" x2="0" y2="1"><stop offset="0" stop-color="#fee6e6"/><stop offset="0.18" stop-color="#fee6e6"/><stop offset="0.19" stop-color="#fef2f2"/><stop offset="0.55" stop-color="#fef2f2"/><stop offset="0.55" stop-color="#ffffff"/><stop offset="0.8" stop-color="#ffffff"/><stop offset="0.81" stop-color="#f2f2fe"/><stop offset="0.93" stop-color="#f2f2fe"/><stop offset="0.93" stop-color="#e5e6fe"/><stop offset="1" stop-color="#e5e6fe"/></linearGradient><linearGradient id="h155" x1="0" y1="0" x2="0" y2="1"><stop offset="0" stop-color="#fef2f2"/><stop offset="0.53" stop-color="#fef2f2"/><stop offset="0.53" stop-color="#ffffff"/><stop offset="0.76" stop-color="#ffffff"/><stop offset="0.77" stop-color="#f2f2fe"/><stop offset="0.91" stop-color="#f2f2fe"/><stop offset="0.92" stop-color="#e5e6fe"/><stop offset="0.98" stop-color="#e5e6fe"/><stop offset="0.99" stop-color="#d8dafe"/><stop offset="1" stop-color="#d8dafe"/></linearGradient><linearGradient id="h156" x1="0" y1="0" x2="0" y2="1"><stop offset="0" stop-color="#fef2f2"/><stop offset="0.51" stop-color="#fef2f2"/><stop offset="0.52" stop-color="#ffffff"/><stop offset="0.73" stop-color="#ffffff"/><stop offset="0.73" stop-color="#f2f2fe"/><stop offset="0.89" stop-color="#f2f2fe"/><stop offset="0.89" stop-color="#e5e6fe"/><stop offset="0.97" stop-color="#e5e6fe"/><stop offset="0.97" stop-color="#d8dafe"/><stop offset="1" stop-color="#d8dafe"/></linearGradient><linearGradient id="h157" x1="0" y1="0" x2="0" y2="1"><stop offset="0" stop-color="#fef2f2"/><stop offset="0.52" stop-color="#fef2f2"/><stop offset="0.52" stop-color="#ffffff"/><stop offset="0.71" stop-color="#ffffff"/><stop offset="0.71" stop-color="#f2f2fe"/><stop offset="0.87" stop-color="#f2f2fe"/><stop offset="0.87" stop-color="#e5e6fe"/><stop offset="0.95" stop-color="#e5e6fe"/><stop offset="0.95" stop-color="#d8dafe"/><stop offset="1" stop-color="#d8dafe"/></linearGradient><linearGradient id="h158" x1="0" y1="0" x2="0" y2="1"><stop offset="0" stop-color="#fef2f2"/><stop offset="0.52" stop-color="#fef2f2"/><stop offset="0.52" stop-color="#ffffff"/><stop offset="0.69" stop-color="#ffffff"/><stop offset="0.7" stop-color="#f2f2fe"/><stop offset="0.83" stop-color="#f2f2fe"/><stop offset="0.83" stop-color="#e5e6fe"/><stop offset="0.94" stop-color="#e5e6fe"/><stop offset="0.95" stop-color="#d8dafe"/><stop offset="1" stop-color="#d8dafe"/></linearGradient><linearGradient id="h159" x1="0" y1="0" x2="0" y2="1"><stop offset="0" stop-color="#fef2f2"/><stop offset="0.52" stop-color="#fef2f2"/><stop offset="0.52" stop-color="#ffffff"/><stop offset="0.68" stop-color="#ffffff"/><stop offset="0.68" stop-color="#f2f2fe"/><stop offset="0.79" stop-color="#f2f2fe"/><stop offset="0.8" stop-color="#e5e6fe"/><stop offset="0.94" stop-color="#e5e6fe"/><stop offset="0.94" stop-color="#d8dafe"/><stop offset="1" stop-color="#d8dafe"/></linearGradient><linearGradient id="h160" x1="0" y1="0" x2="0" y2="1"><stop offset="0" stop-color="#fef2f2"/><stop offset="0.52" stop-color="#fef2f2"/><stop offset="0.53" stop-color="#ffffff"/><stop offset="0.67" stop-color="#ffffff"/><stop offset="0.68" stop-color="#f2f2fe"/><stop offset="0.76" stop-color="#f2f2fe"/><stop offset="0.77" stop-color="#e5e6fe"/><stop offset="0.93" stop-color="#e5e6fe"/><stop offset="0.94" stop-color="#d8dafe"/><stop offset="1" stop-color="#d8dafe"/></linearGradient><linearGradient id="h161" x1="0" y1="0" x2="0" y2="1"><stop offset="0" stop-color="#fee6e6"/><stop offset="0.13" stop-color="#fee6e6"/><stop offset="0.13" stop-color="#fef2f2"/><stop offset="0.53" stop-color="#fef2f2"/><stop offset="0.53" stop-color="#ffffff"/><stop offset="0.67" stop-color="#ffffff"/><stop offset="0.67" stop-color="#f2f2fe"/><stop offset="0.75" stop-color="#f2f2fe"/><stop offset="0.75" stop-color="#e5e6fe"/><stop offset="0.93" stop-color="#e5e6fe"/><stop offset="0.94" stop-color="#d8dafe"/><stop offset="1" stop-color="#d8dafe"/></linearGradient><linearGradient id="h162" x1="0" y1="0" x2="0" y2="1"><stop offset="0" stop-color="#fee6e6"/><stop offset="0.39" stop-color="#fee6e6"/><stop offset="0.39" stop-color="#fef2f2"/><stop offset="0.55" stop-color="#fef2f2"/><stop offset="0.55" stop-color="#ffffff"/><stop offset="0.67" stop-color="#ffffff"/><stop offset="0.68" stop-color="#f2f2fe"/><stop offset="0.75" stop-color="#f2f2fe"/><stop offset="0.75" stop-color="#e5e6fe"/><stop offset="0.93" stop-color="#e5e6fe"/><stop offset="0.94" stop-color="#d8dafe"/><stop offset="1" stop-color="#d8dafe"/></linearGradient><linearGradient id="h163" x1="0" y1="0" x2="0" y2="1"><stop offset="0" stop-color="#fee6e6"/><stop offset="0.43" stop-color="#fee6e6"/><stop offset="0.44" stop-color="#fef2f2"/><stop offset="0.56" stop-color="#fef2f2"/><stop offset="0.57" stop-color="#ffffff"/><stop offset="0.68" stop-color="#ffffff"/><stop offset="0.68" stop-color="#f2f2fe"/><stop offset="0.76" stop-color="#f2f2fe"/><stop offset="0.76" stop-color="#e5e6fe"/><stop offset="0.93" stop-color="#e5e6fe"/><stop offset="0.94" stop-color="#d8dafe"/><stop offset="1" stop-color="#d8dafe"/></linearGradient><linearGradient id="h164" x1="0" y1="0" x2="0" y2="1"><stop offset="0" stop-color="#fee6e6"/><stop offset="0.45" stop-color="#fee6e6"/><stop offset="0.45" stop-color="#fef2f2"/><stop offset="0.57" stop-color="#fef2f2"/><stop offset="0.57" stop-color="#ffffff"/><stop offset="0.68" stop-color="#ffffff"/><stop offset="0.69" stop-color="#f2f2fe"/><stop offset="0.78" stop-color="#f2f2fe"/><stop offset="0.78" stop-color="#e5e6fe"/><stop offset="0.94" stop-color="#e5e6fe"/><stop offset="0.94" stop-color="#d8dafe"/><stop offset="1" stop-color="#d8dafe"/></linearGradient><linearGradient id="h165" x1="0" y1="0" x2="0" y2="1"><stop offset="0" stop-color="#fee6e6"/><stop offset="0.45" stop-color="#fee6e6"/><stop offset="0.46" stop-color="#fef2f2"/><stop offset="0.57" stop-color="#fef2f2"/><stop offset="0.57" stop-color="#ffffff"/><stop offset="0.69" stop-color="#ffffff"/><stop offset="0.7" stop-color="#f2f2fe"/><stop offset="0.82" stop-color="#f2f2fe"/><stop offset="0.82" stop-color="#e5e6fe"/><stop offset="0.94" stop-color="#e5e6fe"/><stop offset="0.95" stop-color="#d8dafe"/><stop offset="1" stop-color="#d8dafe"/></linearGradient><linearGradient id="h166" x1="0" y1="0" x2="0" y2="1"><stop offset="0" stop-color="#fee6e6"/><stop offset="0.47" stop-color="#fee6e6"/><stop offset="0.47" stop-color="#fef2f2"/><stop offset="0.58" stop-color="#fef2f2"/><stop offset="0.58" stop-color="#ffffff"/><stop offset="0.71" stop-color="#ffffff"/><stop offset="0.72" stop-color="#f2f2fe"/><stop offset="0.86" stop-color="#f2f2fe"/><stop offset="0.87" stop-color="#e5e6fe"/><stop offset="0.95" stop-color="#e5e6fe"/><stop offset="0.95" stop-color="#d8dafe"/><stop offset="1" stop-color="#d8dafe"/></linearGradient><linearGradient id="h167" x1="0" y1="0" x2="0" y2="1"><stop offset="0" stop-color="#fee6e6"/><stop offset="0.48" stop-color="#fee6e6"/><stop offset="0.48" stop-color="#fef2f2"/><stop offset="0.6" stop-color="#fef2f2"/><stop offset="0.61" stop-color="#ffffff"/><stop offset="0.76" stop-color="#ffffff"/><stop offset="0.76" stop-color="#f2f2fe"/><stop offset="0.91" stop-color="#f2f2fe"/><stop offset="0.91" stop-color="#e5e6fe"/><stop offset="0.96" stop-color="#e5e6fe"/><stop offset="0.97" stop-color="#d8dafe"/><stop offset="1" stop-color="#d8dafe"/></linearGradient><linearGradient id="h168" x1="0" y1="0" x2="0" y2="1"><stop offset="0" stop-color="#fee6e6"/><stop offset="0.5" stop-color="#fee6e6"/><stop offset="0.5" stop-color="#fef2f2"/><stop offset="0.63" stop-color="#fef2f2"/><stop offset="0.64" stop-color="#ffffff"/><stop offset="0.82" stop-color="#ffffff"/><stop offset="0.83" stop-color="#f2f2fe"/><stop offset="0.93" stop-color="#f2f2fe"/><stop offset="0.93" stop-color="#e5e6fe"/><stop offset="0.98" stop-color="#e5e6fe"/><stop offset="0.98" stop-color="#d8dafe"/><stop offset="1" stop-color="#d8dafe"/></linearGradient><linearGradient id="h169" x1="0" y1="0" x2="0" y2="1"><stop offset="0" stop-color="#fdd9d9"/><stop offset="0.2" stop-color="#fdd9d9"/><stop offset="0.21" stop-color="#fee6e6"/><stop offset="0.52" stop-color="#fee6e6"/><stop offset="0.52" stop-color="#fef2f2"/><stop offset="0.68" stop-color="#fef2f2"/><stop offset="0.68" stop-color="#ffffff"/><stop offset="0.88" stop-color="#ffffff"/><stop offset="0.88" stop-color="#f2f2fe"/><stop offset="0.94" stop-color="#f2f2fe"/><stop offset="0.94" stop-color="#e5e6fe"/><stop offset="1" stop-color="#e5e6fe"/></linearGradient><linearGradient id="h170" x1="0" y1="0" x2="0" y2="1"><stop offset="0" stop-color="#fdd9d9"/><stop offset="0.3" stop-color="#fdd9d9"/><stop offset="0.3" stop-color="#fee6e6"/><stop offset="0.54" stop-color="#fee6e6"/><stop offset="0.54" stop-color="#fef2f2"/><stop offset="0.72" stop-color="#fef2f2"/><stop offset="0.72" stop-color="#ffffff"/><stop offset="0.91" stop-color="#ffffff"/><stop offset="0.91" stop-color="#f2f2fe"/><stop offset="0.95" stop-color="#f2f2fe"/><stop offset="0.95" stop-color="#e5e6fe"/><stop offset="1" stop-color="#e5e6fe"/></linearGradient><linearGradient id="h171" x1="0" y1="0" x2="0" y2="1"><stop offset="0" stop-color="#fee6e6"/><stop offset="0.52" stop-color="#fee6e6"/><stop offset="0.52" stop-color="#fef2f2"/><stop offset="0.71" stop-color="#fef2f2"/><stop offset="0.71" stop-color="#ffffff"/><stop offset="0.91" stop-color="#ffffff"/><stop offset="0.92" stop-color="#f2f2fe"/><stop offset="0.96" stop-color="#f2f2fe"/><stop offset="0.96" stop-color="#e5e6fe"/><stop offset="1" stop-color="#e5e6fe"/></linearGradient><linearGradient id="h172" x1="0" y1="0" x2="0" y2="1"><stop offset="0" stop-color="#fee6e6"/><stop offset="0.31" stop-color="#fee6e6"/><stop offset="0.32" stop-color="#fef2f2"/><stop offset="0.64" stop-color="#fef2f2"/><stop offset="0.64" stop-color="#ffffff"/><stop offset="0.91" stop-color="#ffffff"/><stop offset="0.92" stop-color="#f2f2fe"/><stop offset="0.97" stop-color="#f2f2fe"/><stop offset="0.97" stop-color="#e5e6fe"/><stop offset="1" stop-color="#e5e6fe"/></linearGradient><linearGradient id="h173" x1="0" y1="0" x2="0" y2="1"><stop offset="0" stop-color="#fef2f2"/><stop offset="0.52" stop-color="#fef2f2"/><stop offset="0.52" stop-color="#ffffff"/><stop offset="0.92" stop-color="#ffffff"/><stop offset="0.92" stop-color="#f2f2fe"/><stop offset="0.98" stop-color="#f2f2fe"/><stop offset="0.98" stop-color="#e5e6fe"/><stop offset="1" stop-color="#e5e6fe"/></linearGradient><linearGradient id="h174" x1="0" y1="0" x2="0" y2="1"><stop offset="0" stop-color="#fef2f2"/><stop offset="0.41" stop-color="#fef2f2"/><stop offset="0.42" stop-color="#ffffff"/><stop offset="0.92" stop-color="#ffffff"/><stop offset="0.92" stop-color="#f2f2fe"/><stop offset="0.98" stop-color="#f2f2fe"/><stop offset="0.99" stop-color="#e5e6fe"/><stop offset="1" stop-color="#e5e6fe"/></linearGradient><linearGradient id="h175" x1="0" y1="0" x2="0" y2="1"><stop offset="0" stop-color="#ffffff"/><stop offset="0.9" stop-color="#ffffff"/><stop offset="0.9" stop-color="#f2f2fe"/><stop offset="0.96" stop-color="#f2f2fe"/><stop offset="0.97" stop-color="#e5e6fe"/><stop offset="1" stop-color="#e5e6fe"/></linearGradient><linearGradient id="h176" x1="0" y1="0" x2="0" y2="1"><stop offset="0" stop-color="#ffffff"/><stop offset="0.82" stop-color="#ffffff"/><stop offset="0.83" stop-color="#f2f2fe"/><stop offset="0.94" stop-color="#f2f2fe"/><stop offset="0.95" stop-color="#e5e6fe"/><stop offset="1" stop-color="#e5e6fe"/></linearGradient><linearGradient id="h177" x1="0" y1="0" x2="0" y2="1"><stop offset="0" stop-color="#ffffff"/><stop offset="0.58" stop-color="#ffffff"/><stop offset="0.58" stop-color="#f2f2fe"/><stop offset="0.91" stop-color="#f2f2fe"/><stop offset="0.92" stop-color="#e5e6fe"/><stop offset="0.97" stop-color="#e5e6fe"/><stop offset="0.98" stop-color="#d8dafe"/><stop offset="1" stop-color="#d8dafe"/></linearGradient><linearGradient id="h178" x1="0" y1="0" x2="0" y2="1"><stop offset="0" stop-color="#ffffff"/><stop offset="0.49" stop-color="#ffffff"/><stop offset="0.5" stop-color="#f2f2fe"/><stop offset="0.84" stop-color="#f2f2fe"/><stop offset="0.85" stop-color="#e5e6fe"/><stop offset="0.93" stop-color="#e5e6fe"/><stop offset="0.93" stop-color="#d8dafe"/><stop offset="0.97" stop-color="#d8dafe"/><stop offset="0.98" stop-color="#cbcdfd"/><stop offset="1" stop-color="#cbcdfd"/></linearGradient><linearGradient id="h179" x1="0" y1="0" x2="0" y2="1"><stop offset="0" stop-color="#ffffff"/><stop offset="0.15" stop-color="#ffffff"/><stop offset="0.15" stop-color="#f2f2fe"/><stop offset="0.57" stop-color="#f2f2fe"/><stop offset="0.58" stop-color="#e5e6fe"/><stop offset="0.89" stop-color="#e5e6fe"/><stop offset="0.9" stop-color="#d8dafe"/><stop offset="0.94" stop-color="#d8dafe"/><stop offset="0.94" stop-color="#cbcdfd"/><stop offset="0.97" stop-color="#cbcdfd"/><stop offset="0.98" stop-color="#bec0fc"/><stop offset="1" stop-color="#bec0fc"/></linearGradient><linearGradient id="h180" x1="0" y1="0" x2="0" y2="1"><stop offset="0" stop-color="#f2f2fe"/><stop offset="0.43" stop-color="#f2f2fe"/><stop offset="0.43" stop-color="#e5e6fe"/><stop offset="0.57" stop-color="#e5e6fe"/><stop offset="0.57" stop-color="#d8dafe"/><stop offset="0.85" stop-color="#d8dafe"/><stop offset="0.86" stop-color="#cbcdfd"/><stop offset="0.93" stop-color="#cbcdfd"/><stop offset="0.93" stop-color="#bec0fc"/><stop offset="0.96" stop-color="#bec0fc"/><stop offset="0.97" stop-color="#b0b4fc"/><stop offset="1" stop-color="#b0b4fc"/></linearGradient><linearGradient id="h181" x1="0" y1="0" x2="0" y2="1"><stop offset="0" stop-color="#e5e6fe"/><stop offset="0.44" stop-color="#e5e6fe"/><stop offset="0.45" stop-color="#d8dafe"/><stop offset="0.56" stop-color="#d8dafe"/><stop offset="0.56" stop-color="#cbcdfd"/><stop offset="0.71" stop-color="#cbcdfd"/><stop offset="0.71" stop-color="#bec0fc"/><stop offset="0.92" stop-color="#bec0fc"/><stop offset="0.92" stop-color="#b0b4fc"/><stop offset="0.95" stop-color="#b0b4fc"/><stop offset="0.96" stop-color="#a3a8fc"/><stop offset="1" stop-color="#a3a8fc"/></linearGradient><linearGradient id="h182" x1="0" y1="0" x2="0" y2="1"><stop offset="0" stop-color="#cbcdfd"/><stop offset="0.5" stop-color="#cbcdfd"/><stop offset="0.5" stop-color="#bec0fc"/><stop offset="0.63" stop-color="#bec0fc"/><stop offset="0.63" stop-color="#b0b4fc"/><stop offset="0.9" stop-color="#b0b4fc"/><stop offset="0.91" stop-color="#a3a8fc"/><stop offset="0.94" stop-color="#a3a8fc"/><stop offset="0.95" stop-color="#969bfb"/><stop offset="0.98" stop-color="#969bfb"/><stop offset="0.99" stop-color="#898efa"/><stop offset="1" stop-color="#898efa"/></linearGradient><linearGradient id="h183" x1="0" y1="0" x2="0" y2="1"><stop offset="0" stop-color="#bec0fc"/><stop offset="0.37" stop-color="#bec0fc"/><stop offset="0.37" stop-color="#b0b4fc"/><stop offset="0.58" stop-color="#b0b4fc"/><stop offset="0.59" stop-color="#a3a8fc"/><stop offset="0.9" stop-color="#a3a8fc"/><stop offset="0.9" stop-color="#969bfb"/><stop offset="0.94" stop-color="#969bfb"/><stop offset="0.95" stop-color="#898efa"/><stop offset="0.98" stop-color="#898efa"/><stop offset="0.98" stop-color="#7c82fa"/><stop offset="1" stop-color="#7c82fa"/></linearGradient><linearGradient id="h184" x1="0" y1="0" x2="0" y2="1"><stop offset="0" stop-color="#a3a8fc"/><stop offset="0.56" stop-color="#a3a8fc"/><stop offset="0.57" stop-color="#969bfb"/><stop offset="0.91" stop-color="#969bfb"/><stop offset="0.91" stop-color="#898efa"/><stop offset="0.97" stop-color="#898efa"/><stop offset="0.97" stop-color="#7c82fa"/><stop offset="1" stop-color="#7c82fa"/></linearGradient><linearGradient id="h185" x1="0" y1="0" x2="0" y2="1"><stop offset="0" stop-color="#a3a8fc"/><stop offset="0.19" stop-color="#a3a8fc"/><stop offset="0.2" stop-color="#969bfb"/><stop offset="0.58" stop-color="#969bfb"/><stop offset="0.58" stop-color="#898efa"/><stop offset="0.94" stop-color="#898efa"/><stop offset="0.94" stop-color="#7c82fa"/><stop offset="1" stop-color="#7b81fa"/></linearGradient><linearGradient id="h186" x1="0" y1="0" x2="0" y2="1"><stop offset="0" stop-color="#969bfb"/><stop offset="0.47" stop-color="#969bfb"/><stop offset="0.47" stop-color="#898efa"/><stop offset="0.93" stop-color="#898efa"/><stop offset="0.94" stop-color="#7c82fa"/><stop offset="1" stop-color="#7b81fa"/></linearGradient><linearGradient id="h187" x1="0" y1="0" x2="0" y2="1"><stop offset="0" stop-color="#969bfb"/><stop offset="0.46" stop-color="#969bfb"/><stop offset="0.47" stop-color="#898efa"/><stop offset="0.93" stop-color="#898efa"/><stop offset="0.93" stop-color="#7c82fa"/><stop offset="1" stop-color="#7a80fa"/></linearGradient><linearGradient id="h188" x1="0" y1="0" x2="0" y2="1"><stop offset="0" stop-color="#969bfb"/><stop offset="0.45" stop-color="#969bfb"/><stop offset="0.46" stop-color="#898efa"/><stop offset="0.93" stop-color="#898efa"/><stop offset="0.93" stop-color="#7c82fa"/><stop offset="1" stop-color="#7a80fa"/></linearGradient><linearGradient id="h189" x1="0" y1="0" x2="0" y2="1"><stop offset="0" stop-color="#969bfb"/><stop offset="0.45" stop-color="#969bfb"/><stop offset="0.45" stop-color="#898efa"/><stop offset="0.92" stop-color="#898efa"/><stop offset="0.92" stop-color="#7c82fa"/><stop offset="1" stop-color="#797ffa"/></linearGradient><linearGradient id="h190" x1="0" y1="0" x2="0" y2="1"><stop offset="0" stop-color="#969bfb"/><stop offset="0.45" stop-color="#969bfb"/><stop offset="0.45" stop-color="#898efa"/><stop offset="0.92" stop-color="#898efa"/><stop offset="0.92" stop-color="#7c82fa"/><stop offset="1" stop-color="#797ffa"/></linearGradient><linearGradient id="h191" x1="0" y1="0" x2="0" y2="1"><stop offset="0" stop-color="#969bfb"/><stop offset="0.44" stop-color="#969bfb"/><stop offset="0.44" stop-color="#898efa"/><stop offset="0.9" stop-color="#898efa"/><stop offset="0.91" stop-color="#7c82fa"/><stop offset="1" stop-color="#787efa"/></linearGradient><linearGradient id="h192" x1="0" y1="0" x2="0" y2="1"><stop offset="0" stop-color="#969bfb"/><stop offset="0.43" stop-color="#969bfb"/><stop offset="0.44" stop-color="#898efa"/><stop offset="0.9" stop-color="#898efa"/><stop offset="0.9" stop-color="#7c82fa"/><stop offset="1" stop-color="#7a80fa"/></linearGradient><linearGradient id="h193" x1="0" y1="0" x2="0" y2="1"><stop offset="0" stop-color="#969bfb"/><stop offset="0.49" stop-color="#969bfb"/><stop offset="0.5" stop-color="#898efa"/><stop offset="1" stop-color="#898efa"/></linearGradient><linearGradient id="h194" x1="0" y1="0" x2="0" y2="1"><stop offset="0" stop-color="#a3a8fc"/><stop offset="0.47" stop-color="#a3a8fc"/><stop offset="0.48" stop-color="#969bfb"/><stop offset="1" stop-color="#969bfb"/></linearGradient><linearGradient id="h195" x1="0" y1="0" x2="0" y2="1"><stop offset="0" stop-color="#b0b4fc"/><stop offset="0.45" stop-color="#b0b4fc"/><stop offset="0.46" stop-color="#a3a8fc"/><stop offset="0.8" stop-color="#a3a8fc"/><stop offset="0.8" stop-color="#969bfb"/><stop offset="1" stop-color="#969bfb"/></linearGradient><linearGradient id="h196" x1="0" y1="0" x2="0" y2="1"><stop offset="0" stop-color="#cbcdfd"/><stop offset="0.26" stop-color="#cbcdfd"/><stop offset="0.26" stop-color="#bec0fc"/><stop offset="0.55" stop-color="#bec0fc"/><stop offset="0.56" stop-color="#b0b4fc"/><stop offset="1" stop-color="#b0b4fc"/></linearGradient><linearGradient id="h197" x1="0" y1="0" x2="0" y2="1"><stop offset="0" stop-color="#e5e6fe"/><stop offset="0.3" stop-color="#e5e6fe"/><stop offset="0.3" stop-color="#d8dafe"/><stop offset="0.71" stop-color="#d8dafe"/><stop offset="0.71" stop-color="#cbcdfd"/><stop offset="1" stop-color="#cbcdfd"/></linearGradient><linearGradient id="h198" x1="0" y1="0" x2="0" y2="1"><stop offset="0" stop-color="#fef2f2"/><stop offset="0.55" stop-color="#fef2f2"/><stop offset="0.56" stop-color="#ffffff"/><stop offset="1" stop-color="#ffffff"/></linearGradient></defs>
<g shape-rendering="crispEdges"><rect x="39.7" y="315.1" width="1.3" height="130.2" fill="url(#h129)"/><rect x="40.7" y="315.1" width="1.3" height="130.2" fill="url(#h130)"/><rect x="41.7" y="315.1" width="1.3" height="130.2" fill="url(#h131)"/><rect x="42.7" y="315.1" width="1.3" height="130.2" fill="url(#h132)"/><rect x="43.7" y="315.1" width="1.3" height="130.2" fill="url(#h133)"/><rect x="44.7" y="315.1" width="1.3" height="130.2" fill="url(#h134)"/><rect x="45.7" y="315.1" width="1.3" height="130.2" fill="url(#h135)"/><rect x="46.7" y="315.1" width="1.3" height="130.2" fill="url(#h136)"/><rect x="47.7" y="315.1" width="1.3" height="130.2" fill="url(#h137)"/><rect x="48.7" y="315.1" width="1.3" height="130.2" fill="url(#h138)"/><rect x="49.7" y="315.1" width="1.3" height="130.2" fill="url(#h139)"/><rect x="50.7" y="315.1" width="1.3" height="130.2" fill="url(#h140)"/><rect x="51.7" y="315.1" width="1.3" height="130.2" fill="url(#h140)"/><rect x="52.7" y="315.1" width="1.3" height="130.2" fill="url(#h141)"/><rect x="53.7" y="315.1" width="1.3" height="130.2" fill="url(#h142)"/><rect x="54.7" y="315.1" width="1.3" height="130.2" fill="#d8dafe"/><rect x="55.7" y="315.1" width="1.3" height="130.2" fill="#ffffff"/><rect x="56.7" y="315.1" width="1.3" height="130.2" fill="url(#h143)"/><rect x="57.7" y="315.1" width="1.3" height="130.2" fill="url(#h144)"/><rect x="58.7" y="315.1" width="1.3" height="130.2" fill="url(#h145)"/><rect x="59.7" y="315.1" width="1.3" height="130.2" fill="url(#h146)"/><rect x="60.7" y="315.1" width="1.3" height="130.2" fill="url(#h147)"/><rect x="61.7" y="315.1" width="1.3" height="130.2" fill="url(#h148)"/><rect x="62.7" y="315.1" width="1.3" height="130.2" fill="url(#h149)"/><rect x="63.7" y="315.1" width="1.3" height="130.2" fill="url(#h150)"/><rect x="64.7" y="315.1" width="1.3" height="130.2" fill="url(#h151)"/><rect x="65.7" y="315.1" width="1.3" height="130.2" fill="url(#h152)"/><rect x="66.7" y="315.1" width="1.3" height="130.2" fill="url(#h153)"/><rect x="67.7" y="315.1" width="1.3" height="130.2" fill="url(#h154)"/><rect x="68.7" y="315.1" width="1.3" height="130.2" fill="url(#h155)"/><rect x="69.7" y="315.1" width="1.3" height="130.2" fill="url(#h156)"/><rect x="70.7" y="315.1" width="1.3" height="130.2" fill="url(#h157)"/><rect x="71.7" y="315.1" width="1.3" height="130.2" fill="url(#h158)"/><rect x="72.7" y="315.1" width="1.3" height="130.2" fill="url(#h159)"/><rect x="73.7" y="315.1" width="1.3" height="130.2" fill="url(#h160)"/><rect x="74.7" y="315.1" width="1.3" height="130.2" fill="url(#h161)"/><rect x="75.7" y="315.1" width="1.3" height="130.2" fill="url(#h162)"/><rect x="76.7" y="315.1" width="1.3" height="130.2" fill="url(#h163)"/><rect x="77.7" y="315.1" width="1.3" height="130.2" fill="url(#h164)"/><rect x="78.7" y="315.1" width="1.3" height="130.2" fill="url(#h165)"/><rect x="79.7" y="315.1" width="1.3" height="130.2" fill="url(#h166)"/><rect x="80.7" y="315.1" width="1.3" height="130.2" fill="url(#h167)"/><rect x="81.7" y="315.1" width="1.3" height="130.2" fill="url(#h168)"/><rect x="82.7" y="315.1" width="1.3" height="130.2" fill="url(#h169)"/><rect x="83.7" y="315.1" width="1.3" height="130.2" fill="url(#h170)"/><rect x="84.7" y="315.1" width="1.3" height="130.2" fill="url(#h171)"/><rect x="85.7" y="315.1" width="1.3" height="130.2" fill="url(#h172)"/><rect x="86.7" y="315.1" width="1.3" height="130.2" fill="url(#h173)"/><rect x="87.7" y="315.1" width="1.3" height="130.2" fill="url(#h174)"/><rect x="88.7" y="315.1" width="1.3" height="130.2" fill="url(#h175)"/><rect x="89.7" y="315.1" width="1.3" height="130.2" fill="url(#h176)"/><rect x="90.7" y="315.1" width="1.3" height="130.2" fill="url(#h177)"/><rect x="91.7" y="315.1" width="1.3" height="130.2" fill="url(#h178)"/><rect x="92.7" y="315.1" width="1.3" height="130.2" fill="url(#h179)"/><rect x="93.7" y="315.1" width="1.3" height="130.2" fill="url(#h180)"/><rect x="94.7" y="315.1" width="1.3" height="130.2" fill="url(#h181)"/><rect x="95.7" y="315.1" width="1.3" height="130.2" fill="url(#h182)"/><rect x="96.7" y="315.1" width="1.3" height="130.2" fill="url(#h183)"/><rect x="97.7" y="315.1" width="1.3" height="130.2" fill="url(#h184)"/><rect x="98.7" y="315.1" width="1.3" height="130.2" fill="url(#h185)"/><rect x="99.7" y="315.1" width="1.3" height="130.2" fill="url(#h186)"/><rect x="100.7" y="315.1" width="1.3" height="130.2" fill="url(#h187)"/><rect x="101.7" y="315.1" width="1.3" height="130.2" fill="url(#h188)"/><rect x="102.7" y="315.1" width="1.3" height="130.2" fill="url(#h189)"/><rect x="103.7" y="315.1" width="1.3" height="130.2" fill="url(#h190)"/><rect x="104.7" y="315.1" width="1.3" height="130.2" fill="url(#h191)"/><rect x="105.7" y="315.1" width="1.3" height="130.2" fill="url(#h192)"/><rect x="106.7" y="315.1" width="1.3" height="130.2" fill="url(#h193)"/><rect x="107.7" y="315.1" width="1.3" height="130.2" fill="url(#h194)"/><rect x="108.7" y="315.1" width="1.3" height="130.2" fill="url(#h195)"/><rect x="109.7" y="315.1" width="1.3" height="130.2" fill="url(#h196)"/><rect x="110.7" y="315.1" width="1.3" height="130.2" fill="url(#h197)"/><rect x="111.7" y="315.1" width="1.3" height="130.2" fill="#f2f2fe"/><rect x="112.7" y="315.1" width="1.3" height="130.2" fill="#ffffff"/><rect x="113.7" y="315.1" width="1.3" height="130.2" fill="#ffffff"/><rect x="114.7" y="315.1" width="1.3" height="130.2" fill="url(#h198)"/><rect x="115.7" y="315.1" width="1.3" height="130.2" fill="#fccccc"/><rect x="116.7" y="315.1" width="1.3" height="130.2" fill="#fbbfbf"/><rect x="117.7" y="315.1" width="1.3" height="130.2" fill="#fbbfbf"/><rect x="118.7" y="315.1" width="1.3" height="130.2" fill="#fbbfbf"/><rect x="119.7" y="315.1" width="1.3" height="130.2" fill="#fbbfbf"/><rect x="120.7" y="315.1" width="1.3" height="130.2" fill="#fbbfbf"/><rect x="121.7" y="315.1" width="1.3" height="130.2" fill="#fbbfbf"/><rect x="122.7" y="315.1" width="1.3" height="130.2" fill="#fbbfbf"/><rect x="123.7" y="315.1" width="1.3" height="130.2" fill="#fbbfbf"/><rect x="124.7" y="315.1" width="1.3" height="130.2" fill="#fbbfbf"/><rect x="125.7" y="315.1" width="1.3" height="130.2" fill="#fbbfbf"/><rect x="126.7" y="315.1" width="1.3" height="130.2" fill="#fbbfbf"/><rect x="127.7" y="315.1" width="1.3" height="130.2" fill="#fbbfbf"/><rect x="128.7" y="315.1" width="1.3" height="130.2" fill="#fbbfbf"/><rect x="129.7" y="315.1" width="1.3" height="130.2" fill="#fbbfbf"/><rect x="130.7" y="315.1" width="1.3" height="130.2" fill="#fbbfbf"/><rect x="131.7" y="315.1" width="1.3" height="130.2" fill="#fbbfbf"/><rect x="132.7" y="315.1" width="1.3" height="130.2" fill="#fbbfbf"/><rect x="133.7" y="315.1" width="1.3" height="130.2" fill="#fbbfbf"/><rect x="134.7" y="315.1" width="1.3" height="130.2" fill="#fbbfbf"/><rect x="135.7" y="315.1" width="1.3" height="130.2" fill="#fbbfbf"/><rect x="136.7" y="315.1" width="1.3" height="130.2" fill="#fbbfbf"/><rect x="137.7" y="315.1" width="1.2" height="130.2" fill="#fbbfbf"/></g>
<defs><linearGradient id="h199" x1="0" y1="0" x2="0" y2="1"><stop offset="0" stop-color="#fef2f2"/><stop offset="0.32" stop-color="#fef2f2"/><stop offset="0.32" stop-color="#fee6e6"/><stop offset="1" stop-color="#fee6e6"/></linearGradient><linearGradient id="h200" x1="0" y1="0" x2="0" y2="1"><stop offset="0" stop-color="#fee6e6"/><stop offset="0.51" stop-color="#fee6e6"/><stop offset="0.51" stop-color="#fdd9d9"/><stop offset="0.97" stop-color="#fdd9d9"/><stop offset="0.97" stop-color="#fee6e6"/><stop offset="1" stop-color="#fee6e6"/></linearGradient><linearGradient id="h201" x1="0" y1="0" x2="0" y2="1"><stop offset="0" stop-color="#fee6e6"/><stop offset="0.33" stop-color="#fee6e6"/><stop offset="0.33" stop-color="#fdd9d9"/><stop offset="1" stop-color="#fdd9d9"/></linearGradient><linearGradient id="h202" x1="0" y1="0" x2="0" y2="1"><stop offset="0" stop-color="#fee6e6"/><stop offset="0.19" stop-color="#fee6e6"/><stop offset="0.19" stop-color="#fdd9d9"/><stop offset="1" stop-color="#fdd9d9"/></linearGradient><linearGradient id="h203" x1="0" y1="0" x2="0" y2="1"><stop offset="0" stop-color="#fdd9d9"/><stop offset="0.58" stop-color="#fdd9d9"/><stop offset="0.58" stop-color="#fccccc"/><stop offset="0.83" stop-color="#fccccc"/><stop offset="0.84" stop-color="#fdd9d9"/><stop offset="1" stop-color="#fdd9d9"/></linearGradient><linearGradient id="h204" x1="0" y1="0" x2="0" y2="1"><stop offset="0" stop-color="#fdd9d9"/><stop offset="0.42" stop-color="#fdd9d9"/><stop offset="0.43" stop-color="#fccccc"/><stop offset="1" stop-color="#fccccc"/></linearGradient><linearGradient id="h205" x1="0" y1="0" x2="0" y2="1"><stop offset="0" stop-color="#fdd9d9"/><stop offset="0.33" stop-color="#fdd9d9"/><stop offset="0.34" stop-color="#fccccc"/><stop offset="1" stop-color="#fccccc"/></linearGradient><linearGradient id="h206" x1="0" y1="0" x2="0" y2="1"><stop offset="0" stop-color="#fdd9d9"/><stop offset="0.26" stop-color="#fdd9d9"/><stop offset="0.26" stop-color="#fccccc"/><stop offset="0.5" stop-color="#fccccc"/><stop offset="0.5" stop-color="#fbbfbf"/><stop offset="0.91" stop-color="#fbbfbf"/><stop offset="0.92" stop-color="#fccccc"/><stop offset="1" stop-color="#fccccc"/></linearGradient><linearGradient id="h207" x1="0" y1="0" x2="0" y2="1"><stop offset="0" stop-color="#fdd9d9"/><stop offset="0.19" stop-color="#fdd9d9"/><stop offset="0.19" stop-color="#fccccc"/><stop offset="0.41" stop-color="#fccccc"/><stop offset="0.42" stop-color="#fbbfbf"/><stop offset="1" stop-color="#fbbfbf"/></linearGradient><linearGradient id="h208" x1="0" y1="0" x2="0" y2="1"><stop offset="0" stop-color="#fdd9d9"/><stop offset="0.15" stop-color="#fdd9d9"/><stop offset="0.16" stop-color="#fccccc"/><stop offset="0.36" stop-color="#fccccc"/><stop offset="0.37" stop-color="#fbbfbf"/><stop offset="0.53" stop-color="#fbbfbf"/><stop offset="0.54" stop-color="#fab2b2"/><stop offset="0.86" stop-color="#fab2b2"/><stop offset="0.87" stop-color="#fbbfbf"/><stop offset="1" stop-color="#fbbfbf"/></linearGradient><linearGradient id="h209" x1="0" y1="0" x2="0" y2="1"><stop offset="0" stop-color="#fdd9d9"/><stop offset="0.12" stop-color="#fdd9d9"/><stop offset="0.13" stop-color="#fccccc"/><stop offset="0.33" stop-color="#fccccc"/><stop offset="0.33" stop-color="#fbbfbf"/><stop offset="0.47" stop-color="#fbbfbf"/><stop offset="0.47" stop-color="#fab2b2"/><stop offset="0.93" stop-color="#fab2b2"/><stop offset="0.93" stop-color="#fbbfbf"/><stop offset="1" stop-color="#fbbfbf"/></linearGradient><linearGradient id="h210" x1="0" y1="0" x2="0" y2="1"><stop offset="0" stop-color="#fdd9d9"/><stop offset="0.1" stop-color="#fdd9d9"/><stop offset="0.1" stop-color="#fccccc"/><stop offset="0.3" stop-color="#fccccc"/><stop offset="0.3" stop-color="#fbbfbf"/><stop offset="0.42" stop-color="#fbbfbf"/><stop offset="0.43" stop-color="#fab2b2"/><stop offset="0.57" stop-color="#fab2b2"/><stop offset="0.57" stop-color="#faa6a6"/><stop offset="0.82" stop-color="#faa6a6"/><stop offset="0.83" stop-color="#fab2b2"/><stop offset="0.98" stop-color="#fab2b2"/><stop offset="0.98" stop-color="#fbbfbf"/><stop offset="1" stop-color="#fbbfbf"/></linearGradient><linearGradient id="h211" x1="0" y1="0" x2="0" y2="1"><stop offset="0" stop-color="#fdd9d9"/><stop offset="0.07" stop-color="#fdd9d9"/><stop offset="0.08" stop-color="#fccccc"/><stop offset="0.27" stop-color="#fccccc"/><stop offset="0.28" stop-color="#fbbfbf"/><stop offset="0.39" stop-color="#fbbfbf"/><stop offset="0.4" stop-color="#fab2b2"/><stop offset="0.51" stop-color="#fab2b2"/><stop offset="0.51" stop-color="#faa6a6"/><stop offset="0.88" stop-color="#faa6a6"/><stop offset="0.89" stop-color="#fab2b2"/><stop offset="1" stop-color="#fab2b2"/></linearGradient><linearGradient id="h212" x1="0" y1="0" x2="0" y2="1"><stop offset="0" stop-color="#fdd9d9"/><stop offset="0.05" stop-color="#fdd9d9"/><stop offset="0.05" stop-color="#fccccc"/><stop offset="0.25" stop-color="#fccccc"/><stop offset="0.26" stop-color="#fbbfbf"/><stop offset="0.37" stop-color="#fbbfbf"/><stop offset="0.37" stop-color="#fab2b2"/><stop offset="0.47" stop-color="#fab2b2"/><stop offset="0.47" stop-color="#faa6a6"/><stop offset="0.6" stop-color="#faa6a6"/><stop offset="0.6" stop-color="#f99999"/><stop offset="0.79" stop-color="#f99999"/><stop offset="0.79" stop-color="#faa6a6"/><stop offset="0.93" stop-color="#faa6a6"/><stop offset="0.93" stop-color="#fab2b2"/><stop offset="1" stop-color="#fab2b2"/></linearGradient><linearGradient id="h213" x1="0" y1="0" x2="0" y2="1"><stop offset="0" stop-color="#fdd9d9"/><stop offset="0.03" stop-color="#fdd9d9"/><stop offset="0.03" stop-color="#fccccc"/><stop offset="0.24" stop-color="#fccccc"/><stop offset="0.24" stop-color="#fbbfbf"/><stop offset="0.35" stop-color="#fbbfbf"/><stop offset="0.35" stop-color="#fab2b2"/><stop offset="0.44" stop-color="#fab2b2"/><stop offset="0.45" stop-color="#faa6a6"/><stop offset="0.55" stop-color="#faa6a6"/><stop offset="0.55" stop-color="#f99999"/><stop offset="0.84" stop-color="#f99999"/><stop offset="0.84" stop-color="#faa6a6"/><stop offset="0.95" stop-color="#faa6a6"/><stop offset="0.96" stop-color="#fab2b2"/><stop offset="1" stop-color="#fab2b2"/></linearGradient><linearGradient id="h214" x1="0" y1="0" x2="0" y2="1"><stop offset="0" stop-color="#fdd9d9"/><stop offset="0.01" stop-color="#fdd9d9"/><stop offset="0.02" stop-color="#fccccc"/><stop offset="0.23" stop-color="#fccccc"/><stop offset="0.23" stop-color="#fbbfbf"/><stop offset="0.33" stop-color="#fbbfbf"/><stop offset="0.34" stop-color="#fab2b2"/><stop offset="0.42" stop-color="#fab2b2"/><stop offset="0.43" stop-color="#faa6a6"/><stop offset="0.52" stop-color="#faa6a6"/><stop offset="0.52" stop-color="#f99999"/><stop offset="0.87" stop-color="#f99999"/><stop offset="0.87" stop-color="#faa6a6"/><stop offset="0.97" stop-color="#faa6a6"/><stop offset="0.98" stop-color="#fab2b2"/><stop offset="1" stop-color="#fab2b2"/></linearGradient><linearGradient id="h215" x1="0" y1="0" x2="0" y2="1"><stop offset="0" stop-color="#fccccc"/><stop offset="0.22" stop-color="#fccccc"/><stop offset="0.22" stop-color="#fbbfbf"/><stop offset="0.32" stop-color="#fbbfbf"/><stop offset="0.33" stop-color="#fab2b2"/><stop offset="0.41" stop-color="#fab2b2"/><stop offset="0.42" stop-color="#faa6a6"/><stop offset="0.5" stop-color="#faa6a6"/><stop offset="0.5" stop-color="#f99999"/><stop offset="0.64" stop-color="#f99999"/><stop offset="0.64" stop-color="#f88c8c"/><stop offset="0.75" stop-color="#f88c8c"/><stop offset="0.75" stop-color="#f99999"/><stop offset="0.89" stop-color="#f99999"/><stop offset="0.89" stop-color="#faa6a6"/><stop offset="0.98" stop-color="#faa6a6"/><stop offset="0.99" stop-color="#fab2b2"/><stop offset="1" stop-color="#fab2b2"/></linearGradient><linearGradient id="h216" x1="0" y1="0" x2="0" y2="1"><stop offset="0" stop-color="#fccccc"/><stop offset="0.21" stop-color="#fccccc"/><stop offset="0.22" stop-color="#fbbfbf"/><stop offset="0.32" stop-color="#fbbfbf"/><stop offset="0.32" stop-color="#fab2b2"/><stop offset="0.41" stop-color="#fab2b2"/><stop offset="0.41" stop-color="#faa6a6"/><stop offset="0.49" stop-color="#faa6a6"/><stop offset="0.5" stop-color="#f99999"/><stop offset="0.62" stop-color="#f99999"/><stop offset="0.62" stop-color="#f88c8c"/><stop offset="0.77" stop-color="#f88c8c"/><stop offset="0.77" stop-color="#f99999"/><stop offset="0.9" stop-color="#f99999"/><stop offset="0.9" stop-color="#faa6a6"/><stop offset="0.99" stop-color="#faa6a6"/><stop offset="1" stop-color="#fab2b2"/><stop offset="1" stop-color="#fab2b2"/></linearGradient><linearGradient id="h217" x1="0" y1="0" x2="0" y2="1"><stop offset="0" stop-color="#fccccc"/><stop offset="0.21" stop-color="#fccccc"/><stop offset="0.21" stop-color="#fbbfbf"/><stop offset="0.32" stop-color="#fbbfbf"/><stop offset="0.32" stop-color="#fab2b2"/><stop offset="0.4" stop-color="#fab2b2"/><stop offset="0.41" stop-color="#faa6a6"/><stop offset="0.49" stop-color="#faa6a6"/><stop offset="0.5" stop-color="#f99999"/><stop offset="0.62" stop-color="#f99999"/><stop offset="0.62" stop-color="#f88c8c"/><stop offset="0.77" stop-color="#f88c8c"/><stop offset="0.77" stop-color="#f99999"/><stop offset="0.9" stop-color="#f99999"/><stop offset="0.9" stop-color="#faa6a6"/><stop offset="0.99" stop-color="#faa6a6"/><stop offset="1" stop-color="#fab2b2"/><stop offset="1" stop-color="#fab2b2"/></linearGradient><linearGradient id="h218" x1="0" y1="0" x2="0" y2="1"><stop offset="0" stop-color="#fccccc"/><stop offset="0.21" stop-color="#fccccc"/><stop offset="0.21" stop-color="#fbbfbf"/><stop offset="0.32" stop-color="#fbbfbf"/><stop offset="0.32" stop-color="#fab2b2"/><stop offset="0.41" stop-color="#fab2b2"/><stop offset="0.42" stop-color="#faa6a6"/><stop offset="0.5" stop-color="#faa6a6"/><stop offset="0.5" stop-color="#f99999"/><stop offset="0.65" stop-color="#f99999"/><stop offset="0.65" stop-color="#f88c8c"/><stop offset="0.74" stop-color="#f88c8c"/><stop offset="0.74" stop-color="#f99999"/><stop offset="0.89" stop-color="#f99999"/><stop offset="0.89" stop-color="#faa6a6"/><stop offset="0.99" stop-color="#faa6a6"/><stop offset="0.99" stop-color="#fab2b2"/><stop offset="1" stop-color="#fab2b2"/></linearGradient><linearGradient id="h219" x1="0" y1="0" x2="0" y2="1"><stop offset="0" stop-color="#fccccc"/><stop offset="0.21" stop-color="#fccccc"/><stop offset="0.22" stop-color="#fbbfbf"/><stop offset="0.33" stop-color="#fbbfbf"/><stop offset="0.33" stop-color="#fab2b2"/><stop offset="0.42" stop-color="#fab2b2"/><stop offset="0.42" stop-color="#faa6a6"/><stop offset="0.52" stop-color="#faa6a6"/><stop offset="0.52" stop-color="#f99999"/><stop offset="0.87" stop-color="#f99999"/><stop offset="0.88" stop-color="#faa6a6"/><stop offset="0.98" stop-color="#faa6a6"/><stop offset="0.98" stop-color="#fab2b2"/><stop offset="1" stop-color="#fab2b2"/></linearGradient><linearGradient id="h220" x1="0" y1="0" x2="0" y2="1"><stop offset="0" stop-color="#fccccc"/><stop offset="0.22" stop-color="#fccccc"/><stop offset="0.22" stop-color="#fbbfbf"/><stop offset="0.34" stop-color="#fbbfbf"/><stop offset="0.34" stop-color="#fab2b2"/><stop offset="0.43" stop-color="#fab2b2"/><stop offset="0.44" stop-color="#faa6a6"/><stop offset="0.55" stop-color="#faa6a6"/><stop offset="0.55" stop-color="#f99999"/><stop offset="0.84" stop-color="#f99999"/><stop offset="0.85" stop-color="#faa6a6"/><stop offset="0.96" stop-color="#faa6a6"/><stop offset="0.97" stop-color="#fab2b2"/><stop offset="1" stop-color="#fab2b2"/></linearGradient><linearGradient id="h221" x1="0" y1="0" x2="0" y2="1"><stop offset="0" stop-color="#fccccc"/><stop offset="0.22" stop-color="#fccccc"/><stop offset="0.23" stop-color="#fbbfbf"/><stop offset="0.35" stop-color="#fbbfbf"/><stop offset="0.35" stop-color="#fab2b2"/><stop offset="0.46" stop-color="#fab2b2"/><stop offset="0.46" stop-color="#faa6a6"/><stop offset="0.6" stop-color="#faa6a6"/><stop offset="0.6" stop-color="#f99999"/><stop offset="0.79" stop-color="#f99999"/><stop offset="0.8" stop-color="#faa6a6"/><stop offset="0.94" stop-color="#faa6a6"/><stop offset="0.94" stop-color="#fab2b2"/><stop offset="1" stop-color="#fab2b2"/></linearGradient><linearGradient id="h222" x1="0" y1="0" x2="0" y2="1"><stop offset="0" stop-color="#fccccc"/><stop offset="0.23" stop-color="#fccccc"/><stop offset="0.24" stop-color="#fbbfbf"/><stop offset="0.37" stop-color="#fbbfbf"/><stop offset="0.37" stop-color="#fab2b2"/><stop offset="0.49" stop-color="#fab2b2"/><stop offset="0.5" stop-color="#faa6a6"/><stop offset="0.9" stop-color="#faa6a6"/><stop offset="0.91" stop-color="#fab2b2"/><stop offset="1" stop-color="#fab2b2"/></linearGradient><linearGradient id="h223" x1="0" y1="0" x2="0" y2="1"><stop offset="0" stop-color="#fccccc"/><stop offset="0.25" stop-color="#fccccc"/><stop offset="0.25" stop-color="#fbbfbf"/><stop offset="0.4" stop-color="#fbbfbf"/><stop offset="0.4" stop-color="#fab2b2"/><stop offset="0.54" stop-color="#fab2b2"/><stop offset="0.55" stop-color="#faa6a6"/><stop offset="0.85" stop-color="#faa6a6"/><stop offset="0.86" stop-color="#fab2b2"/><stop offset="1" stop-color="#fab2b2"/></linearGradient><linearGradient id="h224" x1="0" y1="0" x2="0" y2="1"><stop offset="0" stop-color="#fccccc"/><stop offset="0.27" stop-color="#fccccc"/><stop offset="0.27" stop-color="#fbbfbf"/><stop offset="0.43" stop-color="#fbbfbf"/><stop offset="0.43" stop-color="#fab2b2"/><stop offset="0.64" stop-color="#fab2b2"/><stop offset="0.64" stop-color="#faa6a6"/><stop offset="0.75" stop-color="#faa6a6"/><stop offset="0.76" stop-color="#fab2b2"/><stop offset="0.98" stop-color="#fab2b2"/><stop offset="0.99" stop-color="#fbbfbf"/><stop offset="1" stop-color="#fbbfbf"/></linearGradient><linearGradient id="h225" x1="0" y1="0" x2="0" y2="1"><stop offset="0" stop-color="#fccccc"/><stop offset="0.28" stop-color="#fccccc"/><stop offset="0.29" stop-color="#fbbfbf"/><stop offset="0.47" stop-color="#fbbfbf"/><stop offset="0.47" stop-color="#fab2b2"/><stop offset="0.94" stop-color="#fab2b2"/><stop offset="0.95" stop-color="#fbbfbf"/><stop offset="1" stop-color="#fbbfbf"/></linearGradient><linearGradient id="h226" x1="0" y1="0" x2="0" y2="1"><stop offset="0" stop-color="#fccccc"/><stop offset="0.31" stop-color="#fccccc"/><stop offset="0.31" stop-color="#fbbfbf"/><stop offset="0.53" stop-color="#fbbfbf"/><stop offset="0.53" stop-color="#fab2b2"/><stop offset="0.88" stop-color="#fab2b2"/><stop offset="0.88" stop-color="#fbbfbf"/><stop offset="1" stop-color="#fbbfbf"/></linearGradient></defs>
<g shape-rendering="crispEdges"><rect x="140.8" y="315.1" width="2.3" height="130.2" fill="#fee6e6"/><rect x="142.8" y="315.1" width="2.3" height="130.2" fill="#fee6e6"/><rect x="144.8" y="315.1" width="2.3" height="130.2" fill="#fef2f2"/><rect x="146.8" y="315.1" width="2.3" height="130.2" fill="#fef2f2"/><rect x="148.8" y="315.1" width="2.3" height="130.2" fill="#fef2f2"/><rect x="150.8" y="315.1" width="2.3" height="130.2" fill="#fef2f2"/><rect x="152.8" y="315.1" width="2.3" height="130.2" fill="#fef2f2"/><rect x="154.8" y="315.1" width="2.3" height="130.2" fill="#fef2f2"/><rect x="156.8" y="315.1" width="2.3" height="130.2" fill="#fef2f2"/><rect x="158.8" y="315.1" width="2.3" height="130.2" fill="url(#h199)"/><rect x="160.8" y="315.1" width="2.3" height="130.2" fill="#fee6e6"/><rect x="162.8" y="315.1" width="2.3" height="130.2" fill="#fee6e6"/><rect x="164.8" y="315.1" width="2.3" height="130.2" fill="url(#h200)"/><rect x="166.8" y="315.1" width="2.3" height="130.2" fill="url(#h201)"/><rect x="168.8" y="315.1" width="2.3" height="130.2" fill="url(#h202)"/><rect x="170.8" y="315.1" width="2.3" height="130.2" fill="url(#h203)"/><rect x="172.8" y="315.1" width="2.3" height="130.2" fill="url(#h204)"/><rect x="174.8" y="315.1" width="2.3" height="130.2" fill="url(#h205)"/><rect x="176.8" y="315.1" width="2.3" height="130.2" fill="url(#h206)"/><rect x="178.8" y="315.1" width="2.3" height="130.2" fill="url(#h207)"/><rect x="180.8" y="315.1" width="2.3" height="130.2" fill="url(#h208)"/><rect x="182.8" y="315.1" width="2.3" height="130.2" fill="url(#h209)"/><rect x="184.8" y="315.1" width="2.3" height="130.2" fill="url(#h210)"/><rect x="186.8" y="315.1" width="2.3" height="130.2" fill="url(#h211)"/><rect x="188.8" y="315.1" width="2.3" height="130.2" fill="url(#h212)"/><rect x="190.8" y="315.1" width="2.3" height="130.2" fill="url(#h213)"/><rect x="192.8" y="315.1" width="2.3" height="130.2" fill="url(#h214)"/><rect x="194.8" y="315.1" width="2.3" height="130.2" fill="url(#h215)"/><rect x="196.8" y="315.1" width="2.3" height="130.2" fill="url(#h216)"/><rect x="198.8" y="315.1" width="2.3" height="130.2" fill="url(#h217)"/><rect x="200.8" y="315.1" width="2.3" height="130.2" fill="url(#h218)"/><rect x="202.8" y="315.1" width="2.3" height="130.2" fill="url(#h219)"/><rect x="204.8" y="315.1" width="2.3" height="130.2" fill="url(#h220)"/><rect x="206.8" y="315.1" width="2.3" height="130.2" fill="url(#h221)"/><rect x="208.8" y="315.1" width="2.3" height="130.2" fill="url(#h222)"/><rect x="210.8" y="315.1" width="2.3" height="130.2" fill="url(#h223)"/><rect x="212.8" y="315.1" width="2.3" height="130.2" fill="url(#h224)"/><rect x="214.8" y="315.1" width="2.3" height="130.2" fill="url(#h225)"/><rect x="216.8" y="315.1" width="1.5" height="130.2" fill="url(#h226)"/></g>
<line x1="39.7" y1="315.1" x2="218" y2="315.1" stroke="#8a8a8a" stroke-width="0.9"/>
<line x1="39.7" y1="445.3" x2="218" y2="445.3" stroke="#8a8a8a" stroke-width="0.9"/>
<line x1="39.7" y1="315.1" x2="39.7" y2="445.3" stroke="#8a8a8a" stroke-width="0.9"/>
<line x1="218" y1="315.1" x2="218" y2="445.3" stroke="#8a8a8a" stroke-width="0.9"/>
<rect x="138.5" y="314.6" width="2.3" height="131.2" fill="#ffffff"/>
<line x1="137.1" y1="317.6" x2="139.1" y2="312.6" stroke="#444" stroke-width="0.75"/>
<line x1="140.1" y1="317.6" x2="142.1" y2="312.6" stroke="#444" stroke-width="0.75"/>
<line x1="137.1" y1="447.8" x2="139.1" y2="442.8" stroke="#444" stroke-width="0.75"/>
<line x1="140.1" y1="447.8" x2="142.1" y2="442.8" stroke="#444" stroke-width="0.75"/>
<line x1="53" y1="445.3" x2="53" y2="443.3" stroke="#3a3a3a" stroke-width="0.6"/>
<line x1="53" y1="315.1" x2="53" y2="317.1" stroke="#3a3a3a" stroke-width="0.6"/>
<text x="53" y="456" font-size="7.6" text-anchor="middle" fill="#231f20" stroke="#231f20" stroke-width="0.16">600</text>
<line x1="76.2" y1="445.3" x2="76.2" y2="443.3" stroke="#3a3a3a" stroke-width="0.6"/>
<line x1="76.2" y1="315.1" x2="76.2" y2="317.1" stroke="#3a3a3a" stroke-width="0.6"/>
<text x="76.2" y="456" font-size="7.6" text-anchor="middle" fill="#231f20" stroke="#231f20" stroke-width="0.16">700</text>
<line x1="99.4" y1="445.3" x2="99.4" y2="443.3" stroke="#3a3a3a" stroke-width="0.6"/>
<line x1="99.4" y1="315.1" x2="99.4" y2="317.1" stroke="#3a3a3a" stroke-width="0.6"/>
<text x="99.4" y="456" font-size="7.6" text-anchor="middle" fill="#231f20" stroke="#231f20" stroke-width="0.16">800</text>
<line x1="122.6" y1="445.3" x2="122.6" y2="443.3" stroke="#3a3a3a" stroke-width="0.6"/>
<line x1="122.6" y1="315.1" x2="122.6" y2="317.1" stroke="#3a3a3a" stroke-width="0.6"/>
<text x="122.6" y="456" font-size="7.6" text-anchor="middle" fill="#231f20" stroke="#231f20" stroke-width="0.16">900</text>
<line x1="158.4" y1="445.3" x2="158.4" y2="443.3" stroke="#3a3a3a" stroke-width="0.6"/>
<line x1="158.4" y1="315.1" x2="158.4" y2="317.1" stroke="#3a3a3a" stroke-width="0.6"/>
<text x="158.4" y="456" font-size="7.6" text-anchor="middle" fill="#231f20" stroke="#231f20" stroke-width="0.16">1,200</text>
<line x1="181.36" y1="445.3" x2="181.36" y2="443.3" stroke="#3a3a3a" stroke-width="0.6"/>
<line x1="181.36" y1="315.1" x2="181.36" y2="317.1" stroke="#3a3a3a" stroke-width="0.6"/>
<text x="181.36" y="456" font-size="7.6" text-anchor="middle" fill="#231f20" stroke="#231f20" stroke-width="0.16">1,400</text>
<line x1="204.32" y1="445.3" x2="204.32" y2="443.3" stroke="#3a3a3a" stroke-width="0.6"/>
<line x1="204.32" y1="315.1" x2="204.32" y2="317.1" stroke="#3a3a3a" stroke-width="0.6"/>
<text x="204.32" y="456" font-size="7.6" text-anchor="middle" fill="#231f20" stroke="#231f20" stroke-width="0.16">1,600</text>
<line x1="39.7" y1="445.3" x2="41.7" y2="445.3" stroke="#3a3a3a" stroke-width="0.6"/>
<line x1="218" y1="445.3" x2="216" y2="445.3" stroke="#3a3a3a" stroke-width="0.6"/>
<line x1="39.7" y1="424.3" x2="41.7" y2="424.3" stroke="#3a3a3a" stroke-width="0.6"/>
<line x1="218" y1="424.3" x2="216" y2="424.3" stroke="#3a3a3a" stroke-width="0.6"/>
<line x1="39.7" y1="403.3" x2="41.7" y2="403.3" stroke="#3a3a3a" stroke-width="0.6"/>
<line x1="218" y1="403.3" x2="216" y2="403.3" stroke="#3a3a3a" stroke-width="0.6"/>
<line x1="39.7" y1="367" x2="41.7" y2="367" stroke="#3a3a3a" stroke-width="0.6"/>
<line x1="218" y1="367" x2="216" y2="367" stroke="#3a3a3a" stroke-width="0.6"/>
<line x1="39.7" y1="332.2" x2="41.7" y2="332.2" stroke="#3a3a3a" stroke-width="0.6"/>
<line x1="218" y1="332.2" x2="216" y2="332.2" stroke="#3a3a3a" stroke-width="0.6"/>
<text x="35" y="448" font-size="7.6" text-anchor="end" fill="#231f20" stroke="#231f20" stroke-width="0.16">0</text>
<text x="35" y="427" font-size="7.6" text-anchor="end" fill="#231f20" stroke="#231f20" stroke-width="0.16">200</text>
<text x="35" y="406" font-size="7.6" text-anchor="end" fill="#231f20" stroke="#231f20" stroke-width="0.16">400</text>
<text x="35" y="369.7" font-size="7.6" text-anchor="end" fill="#231f20" stroke="#231f20" stroke-width="0.16">2,000</text>
<text x="35" y="334.9" font-size="7.6" text-anchor="end" fill="#231f20" stroke="#231f20" stroke-width="0.16">4,000</text>
<line x1="37.2" y1="394.2" x2="41.2" y2="391.9" stroke="#3a3a3a" stroke-width="0.6"/>
<line x1="216.5" y1="394.2" x2="220.5" y2="391.9" stroke="#3a3a3a" stroke-width="0.6"/>
<rect x="118.1" y="315.5" width="46" height="22.1" fill="#ffffff"/>
<rect x="121.9" y="326.3" width="36.7" height="2.4" fill="url(#cbar)" stroke="#333" stroke-width="0.4"/>
<text x="139.75" y="323.7" font-size="7.3" text-anchor="middle" fill="#231f20" stroke="#231f20" stroke-width="0.16">ΔO.D. (10<tspan dy="-2.6" font-size="5">−3</tspan><tspan dy="2.6">)</tspan></text>
<text x="119.1" y="336.5" font-size="7.5" fill="#231f20" stroke="#231f20" stroke-width="0.16">1.2</text>
<text x="140.4" y="336.5" font-size="7.5" text-anchor="middle" fill="#231f20" stroke="#231f20" stroke-width="0.16">0</text>
<text x="163.2" y="336.5" font-size="7.5" text-anchor="end" fill="#231f20" stroke="#231f20" stroke-width="0.16">−1.2</text>
<text x="128.9" y="469.8" font-size="7.9" text-anchor="middle" fill="#231f20" stroke="#231f20" stroke-width="0.16">Wavelength (nm)</text>
<text x="6.8" y="380.3" font-size="7.9" text-anchor="middle" fill="#231f20" stroke="#231f20" stroke-width="0.16" transform="rotate(-90 6.8 380.3)">Time delay (ps)</text>
<text x="1" y="320.6" font-size="10.5" fill="#231f20" font-weight="bold" stroke="#111" stroke-width="0.5">f</text>
<text x="41.8" y="344.9" font-size="7.8" fill="#231f20" stroke="#231f20" stroke-width="0.16">GSB<tspan dy="1.8" font-size="5">D</tspan></text>
<text x="64.5" y="344.9" font-size="7.8" fill="#231f20" stroke="#231f20" stroke-width="0.16">CS</text>
<text x="124.7" y="345.2" font-size="7.8" fill="#231f20" stroke="#231f20" stroke-width="0.16">CS</text>
<text x="92" y="418" font-size="7.8" fill="#231f20" stroke="#231f20" stroke-width="0.16">GSB<tspan dy="1.8" font-size="5">A</tspan></text>
<text x="194.5" y="416.5" font-size="7.6" fill="#231f20" stroke="#231f20" stroke-width="0.16">T</text>
<text x="199.3" y="418.8" font-size="5" fill="#231f20" stroke="#231f20" stroke-width="0.16">1</text>
<g clip-path="url(#clipc)">
<path d="M39.5 239.3 L40 235.6 L40.5 231.86 L41 228.04 L41.5 224.1 L42 220 L42.5 215.73 L43 211.39 L43.5 207.11 L44 203.03 L44.5 199.28 L45 196 L45.5 193.29 L46 191.15 L46.5 189.56 L47 188.5 L47.5 187.96 L48 187.9 L48.5 188.31 L49 189.18 L49.5 190.49 L50 192.24 L50.5 194.41 L51 197 L51.5 199.98 L52 203.27 L52.5 206.8 L53 210.48 L53.5 214.22 L54 217.95 L54.5 221.57 L55 225 L55.5 228.18 L56 231.09 L56.5 233.77 L57 236.21 L57.5 238.45 L58 240.48 L58.5 242.32 L59 244 L59.5 245.52 L60 246.89 L60.5 248.13 L61 249.25 L61.5 250.25 L62 251.16 L62.5 251.97 L63 252.69 L63.5 253.35 L64 253.95 L64.5 254.5 L65 255 L65.5 255.46 L66 255.88 L66.5 256.27 L67 256.63 L67.5 256.97 L68 257.29 L68.5 257.6 L69 257.9 L69.5 258.2 L70 258.5 L70.5 258.81 L71 259.11 L71.5 259.42 L72 259.73 L72.5 260.03 L73 260.32 L73.5 260.6 L74 260.86 L74.5 261.11 L75 261.33 L75.5 261.52 L76 261.69 L76.5 261.82 L77 261.92 L77.5 261.98 L78 262 L78.5 261.97 L79 261.9 L79.5 261.76 L80 261.57 L80.5 261.32 L81 261 L81.5 260.62 L82 260.21 L82.5 259.83 L83 259.52 L83.5 259.33 L84 259.31 L84.5 259.47 L85 259.78 L85.5 260.24 L86 260.82 L86.5 261.5 L87 262.25 L87.5 262.98 L88 263.57 L88.5 263.92 L89 263.92 L89.5 263.47 L90 262.47 L90.5 260.9 L91 258.75 L91.5 256 L92 252.68 L92.5 249 L93 245.22 L93.5 241.58 L94 238.51 L94.5 236.59 L95 236.37 L95.5 237.89 L96 241 L96.5 245.41 L97 250.37 L97.5 255 L98 258.6 L98.5 261.18 L99 262.92 L99.5 263.99 L100 264.58 L100.5 264.87 L101 265.03 L101.5 265.2 L102 265.38 L102.5 265.58 L103 265.78 L103.5 265.99 L104 266.21 L104.5 266.42 L105 266.62 L105.5 266.82 L106 267 L106.5 267.17 L107 267.32 L107.5 267.46 L108 267.58 L108.5 267.69 L109 267.79 L109.5 267.88 L110 267.96 L110.5 268.02 L111 268.09 L111.5 268.14 L112 268.19 L112.5 268.23 L113 268.27 L113.5 268.3 L114 268.34 L114.5 268.37 L115 268.4 L115.5 268.43 L116 268.46 L116.5 268.5 L117 268.53 L117.5 268.56 L118 268.59 L118.5 268.63 L119 268.66 L119.5 268.7 L120 268.73 L120.5 268.77 L121 268.8 L121.5 268.84 L122 268.87 L122.5 268.91 L123 268.94 L123.5 268.98 L124 269.02 L124.5 269.05 L125 269.09 L125.5 269.13 L126 269.16 L126.5 269.2 L127 269.24 L127.5 269.28 L128 269.31 L128.5 269.35 L129 269.39 L129.5 269.43 L130 269.46 L130.5 269.5 L131 269.54 L131.5 269.58 L132 269.62 L132.5 269.65 L133 269.69 L133.5 269.73 L134 269.77 L134.5 269.8 L135 269.84 L135.5 269.88 L136 269.91 L136.5 269.95 L137 269.99 L137.5 270.02 L138 270.06 L138.5 270.09 L139 270.13 L139.5 270.17 L140 270.2 L140.5 270.23 L141 270.27 L141.5 270.3 L142 270.34 L142.5 270.37 L143 270.4 L143.5 270.44 L144 270.47 L144.5 270.5 L145 270.53 L145.5 270.57 L146 270.6 L146.5 270.63 L147 270.66 L147.5 270.69 L148 270.72 L148.5 270.75 L149 270.78 L149.5 270.81 L150 270.84 L150.5 270.87 L151 270.9 L151.5 270.93 L152 270.96 L152.5 270.99 L153 271.01 L153.5 271.04 L154 271.07 L154.5 271.1 L155 271.13 L155.5 271.15 L156 271.18 L156.5 271.21 L157 271.23 L157.5 271.26 L158 271.29 L158.5 271.31 L159 271.34 L159.5 271.36 L160 271.39 L160.5 271.41 L161 271.44 L161.5 271.46 L162 271.49 L162.5 271.51 L163 271.54 L163.5 271.56 L164 271.59 L164.5 271.61 L165 271.64 L165.5 271.66 L166 271.68 L166.5 271.71 L167 271.73 L167.5 271.75 L168 271.78 L168.5 271.8 L169 271.82 L169.5 271.84 L170 271.87 L170.5 271.89 L171 271.91 L171.5 271.93 L172 271.96 L172.5 271.98 L173 272 L173.5 272.02 L174 272.04 L174.5 272.07 L175 272.09 L175.5 272.11 L176 272.13 L176.5 272.15 L177 272.17 L177.5 272.19 L178 272.22 L178.5 272.24 L179 272.26 L179.5 272.28 L180 272.3 L180.5 272.32 L181 272.34 L181.5 272.36 L182 272.38 L182.5 272.4 L183 272.42 L183.5 272.44 L184 272.47 L184.5 272.49 L185 272.51 L185.5 272.53 L186 272.55 L186.5 272.57 L187 272.59 L187.5 272.61 L188 272.63 L188.5 272.65 L189 272.67 L189.5 272.69 L190 272.71 L190.5 272.73 L191 272.75 L191.5 272.77 L192 272.79 L192.5 272.81 L193 272.83 L193.5 272.85 L194 272.87 L194.5 272.89 L195 272.91 L195.5 272.92 L196 272.94 L196.5 272.96 L197 272.98 L197.5 273 L198 273.02 L198.5 273.04 L199 273.06 L199.5 273.08 L200 273.1 L200.5 273.12 L201 273.14 L201.5 273.16 L202 273.18 L202.5 273.2 L203 273.21 L203.5 273.23 L204 273.25 L204.5 273.27 L205 273.29 L205.5 273.31 L206 273.33 L206.5 273.35 L207 273.37 L207.5 273.39 L208 273.4 L208.5 273.42 L209 273.44 L209.5 273.46 L210 273.48 L210.5 273.5 L211 273.52 L211.5 273.54 L212 273.56 L212.5 273.57 L213 273.59 L213.5 273.61 L214 273.63 L214.5 273.65 L215 273.67 L215.5 273.69 L216 273.71 L216.5 273.72 L217 273.74 L217.5 273.76 L218 273.78 L218.5 273.8" fill="none" stroke="#d42020" stroke-width="1.4" stroke-linejoin="round" stroke-linecap="round"/>
<path d="M39.5 251 L40 250.91 L40.5 250.83 L41 250.74 L41.5 250.65 L42 250.56 L42.5 250.46 L43 250.36 L43.5 250.25 L44 250.14 L44.5 250.02 L45 249.9 L45.5 249.77 L46 249.63 L46.5 249.5 L47 249.37 L47.5 249.24 L48 249.13 L48.5 249.04 L49 248.96 L49.5 248.91 L50 248.88 L50.5 248.89 L51 248.93 L51.5 249 L52 249.1 L52.5 249.21 L53 249.34 L53.5 249.47 L54 249.6 L54.5 249.72 L55 249.82 L55.5 249.9 L56 249.94 L56.5 249.95 L57 249.91 L57.5 249.82 L58 249.69 L58.5 249.5 L59 249.27 L59.5 249.01 L60 248.71 L60.5 248.38 L61 248.02 L61.5 247.65 L62 247.25 L62.5 246.83 L63 246.38 L63.5 245.9 L64 245.39 L64.5 244.83 L65 244.24 L65.5 243.6 L66 242.91 L66.5 242.19 L67 241.44 L67.5 240.67 L68 239.89 L68.5 239.12 L69 238.36 L69.5 237.63 L70 236.92 L70.5 236.26 L71 235.61 L71.5 234.98 L72 234.36 L72.5 233.72 L73 233.06 L73.5 232.37 L74 231.63 L74.5 230.84 L75 229.98 L75.5 229.05 L76 228.04 L76.5 226.98 L77 225.86 L77.5 224.72 L78 223.55 L78.5 222.37 L79 221.19 L79.5 220.03 L80 218.89 L80.5 217.78 L81 216.72 L81.5 215.68 L82 214.65 L82.5 213.6 L83 212.52 L83.5 211.38 L84 210.17 L84.5 208.87 L85 207.47 L85.5 205.97 L86 204.41 L86.5 202.82 L87 201.22 L87.5 199.65 L88 198.14 L88.5 196.71 L89 195.39 L89.5 194.21 L90 193.18 L90.5 192.33 L91 191.67 L91.5 191.22 L92 191 L92.5 191.02 L93 191.24 L93.5 191.63 L94 192.14 L94.5 192.75 L95 193.38 L95.5 193.93 L96 194.3 L96.5 194.4 L97 194.19 L97.5 193.73 L98 193.08 L98.5 192.32 L99 191.5 L99.5 190.69 L100 189.94 L100.5 189.3 L101 188.81 L101.5 188.53 L102 188.49 L102.5 188.72 L103 189.2 L103.5 189.94 L104 190.93 L104.5 192.19 L105 193.76 L105.5 195.67 L106 197.97 L106.5 200.72 L107 204.03 L107.5 208 L108 212.65 L108.5 217.6 L109 222.4 L109.5 226.69 L110 230.58 L110.5 234.27 L111 237.93 L111.5 241.46 L112 244.61 L112.5 247.13 L113 249.05 L113.5 250.54 L114 251.79 L114.5 252.98 L115 254.2 L115.5 255.4 L116 256.51 L116.5 257.48 L117 258.26 L117.5 258.89 L118 259.4 L118.5 259.81 L119 260.17 L119.5 260.5 L120 260.83 L120.5 261.17 L121 261.5 L121.5 261.83 L122 262.16 L122.5 262.48 L123 262.78 L123.5 263.07 L124 263.35 L124.5 263.61 L125 263.86 L125.5 264.1 L126 264.33 L126.5 264.55 L127 264.75 L127.5 264.95 L128 265.14 L128.5 265.32 L129 265.48 L129.5 265.65 L130 265.8 L130.5 265.95 L131 266.09 L131.5 266.22 L132 266.35 L132.5 266.47 L133 266.58 L133.5 266.7 L134 266.8 L134.5 266.9 L135 267 L135.5 267.09 L136 267.18 L136.5 267.27 L137 267.35 L137.5 267.43 L138 267.51 L138.5 267.58 L139 267.66 L139.5 267.73 L140 267.8 L140.5 267.87 L141 267.94 L141.5 268.01 L142 268.08 L142.5 268.14 L143 268.21 L143.5 268.27 L144 268.34 L144.5 268.4 L145 268.47 L145.5 268.53 L146 268.59 L146.5 268.65 L147 268.71 L147.5 268.77 L148 268.83 L148.5 268.88 L149 268.94 L149.5 269 L150 269.05 L150.5 269.11 L151 269.16 L151.5 269.21 L152 269.26 L152.5 269.32 L153 269.37 L153.5 269.42 L154 269.46 L154.5 269.51 L155 269.56 L155.5 269.61 L156 269.65 L156.5 269.7 L157 269.74 L157.5 269.79 L158 269.83 L158.5 269.88 L159 269.92 L159.5 269.96 L160 270 L160.5 270.04 L161 270.08 L161.5 270.12 L162 270.16 L162.5 270.19 L163 270.23 L163.5 270.27 L164 270.3 L164.5 270.34 L165 270.37 L165.5 270.41 L166 270.44 L166.5 270.47 L167 270.51 L167.5 270.54 L168 270.57 L168.5 270.6 L169 270.63 L169.5 270.66 L170 270.69 L170.5 270.72 L171 270.75 L171.5 270.78 L172 270.81 L172.5 270.84 L173 270.87 L173.5 270.89 L174 270.92 L174.5 270.95 L175 270.97 L175.5 271 L176 271.03 L176.5 271.05 L177 271.08 L177.5 271.1 L178 271.13 L178.5 271.15 L179 271.18 L179.5 271.2 L180 271.23 L180.5 271.25 L181 271.27 L181.5 271.3 L182 271.32 L182.5 271.35 L183 271.37 L183.5 271.39 L184 271.42 L184.5 271.44 L185 271.46 L185.5 271.49 L186 271.51 L186.5 271.53 L187 271.56 L187.5 271.58 L188 271.6 L188.5 271.63 L189 271.65 L189.5 271.68 L190 271.7 L190.5 271.72 L191 271.75 L191.5 271.77 L192 271.8 L192.5 271.82 L193 271.85 L193.5 271.87 L194 271.9 L194.5 271.92 L195 271.95 L195.5 271.97 L196 272 L196.5 272.02 L197 272.05 L197.5 272.07 L198 272.1 L198.5 272.12 L199 272.15 L199.5 272.18 L200 272.2 L200.5 272.23 L201 272.25 L201.5 272.28 L202 272.31 L202.5 272.33 L203 272.36 L203.5 272.39 L204 272.41 L204.5 272.44 L205 272.47 L205.5 272.49 L206 272.52 L206.5 272.55 L207 272.57 L207.5 272.6 L208 272.63 L208.5 272.65 L209 272.68 L209.5 272.71 L210 272.74 L210.5 272.76 L211 272.79 L211.5 272.82 L212 272.84 L212.5 272.87 L213 272.9 L213.5 272.93 L214 272.95 L214.5 272.98 L215 273.01 L215.5 273.04 L216 273.06 L216.5 273.09 L217 273.12 L217.5 273.15 L218 273.17 L218.5 273.2" fill="none" stroke="#1f8a1f" stroke-width="1.4" stroke-linejoin="round" stroke-linecap="round"/>
<path d="M39.5 252 L40 252.83 L40.5 253.66 L41 254.45 L41.5 255.19 L42 255.88 L42.5 256.5 L43 257.03 L43.5 257.49 L44 257.89 L44.5 258.24 L45 258.55 L45.5 258.84 L46 259.12 L46.5 259.4 L47 259.69 L47.5 259.99 L48 260.3 L48.5 260.6 L49 260.89 L49.5 261.17 L50 261.43 L50.5 261.66 L51 261.86 L51.5 262.02 L52 262.13 L52.5 262.19 L53 262.19 L53.5 262.14 L54 262.04 L54.5 261.89 L55 261.7 L55.5 261.47 L56 261.22 L56.5 260.95 L57 260.67 L57.5 260.37 L58 260.08 L58.5 259.79 L59 259.51 L59.5 259.24 L60 259 L60.5 258.77 L61 258.56 L61.5 258.37 L62 258.19 L62.5 258.03 L63 257.88 L63.5 257.74 L64 257.61 L64.5 257.5 L65 257.4 L65.5 257.3 L66 257.21 L66.5 257.13 L67 257.06 L67.5 256.99 L68 256.93 L68.5 256.87 L69 256.82 L69.5 256.77 L70 256.72 L70.5 256.67 L71 256.62 L71.5 256.58 L72 256.53 L72.5 256.47 L73 256.42 L73.5 256.36 L74 256.3 L74.5 256.23 L75 256.16 L75.5 256.09 L76 256.02 L76.5 255.94 L77 255.88 L77.5 255.81 L78 255.75 L78.5 255.71 L79 255.67 L79.5 255.64 L80 255.62 L80.5 255.62 L81 255.64 L81.5 255.67 L82 255.73 L82.5 255.8 L83 255.9 L83.5 256.02 L84 256.16 L84.5 256.32 L85 256.5 L85.5 256.7 L86 256.91 L86.5 257.15 L87 257.39 L87.5 257.66 L88 257.93 L88.5 258.22 L89 258.52 L89.5 258.83 L90 259.15 L90.5 259.46 L91 259.77 L91.5 260.08 L92 260.37 L92.5 260.64 L93 260.89 L93.5 261.11 L94 261.3 L94.5 261.45 L95 261.57 L95.5 261.64 L96 261.66 L96.5 261.64 L97 261.58 L97.5 261.47 L98 261.34 L98.5 261.16 L99 260.95 L99.5 260.71 L100 260.44 L100.5 260.14 L101 259.82 L101.5 259.47 L102 259.1 L102.5 258.71 L103 258.3 L103.5 257.87 L104 257.41 L104.5 256.94 L105 256.44 L105.5 255.92 L106 255.37 L106.5 254.81 L107 254.22 L107.5 253.61 L108 252.97 L108.5 252.31 L109 251.64 L109.5 250.95 L110 250.26 L110.5 249.56 L111 248.86 L111.5 248.16 L112 247.48 L112.5 246.81 L113 246.16 L113.5 245.54 L114 244.94 L114.5 244.38 L115 243.85 L115.5 243.36 L116 242.89 L116.5 242.46 L117 242.06 L117.5 241.68 L118 241.33 L118.5 241 L119 240.69 L119.5 240.4 L120 240.11 L120.5 239.82 L121 239.52 L121.5 239.2 L122 238.85 L122.5 238.47 L123 238.04 L123.5 237.57 L124 237.05 L124.5 236.5 L125 235.92 L125.5 235.3 L126 234.66 L126.5 234 L127 233.32 L127.5 232.62 L128 231.91 L128.5 231.19 L129 230.47 L129.5 229.74 L130 229.01 L130.5 228.29 L131 227.57 L131.5 226.86 L132 226.16 L132.5 225.49 L133 224.83 L133.5 224.19 L134 223.58 L134.5 223 L135 222.45 L135.5 221.94 L136 221.47 L136.5 221.03 L137 220.63 L137.5 220.26 L138 219.94 L138.5 219.65 L139 219.41 L139.5 219.19 L140 219.01 L140.5 218.85 L141 218.72 L141.5 218.61 L142 218.5 L142.5 218.38 L143 218.23 L143.5 218.04 L144 217.81 L144.5 217.51 L145 217.15 L145.5 216.73 L146 216.24 L146.5 215.68 L147 215.04 L147.5 214.33 L148 213.53 L148.5 212.66 L149 211.72 L149.5 210.72 L150 209.69 L150.5 208.64 L151 207.57 L151.5 206.51 L152 205.46 L152.5 204.42 L153 203.39 L153.5 202.4 L154 201.43 L154.5 200.48 L155 199.54 L155.5 198.6 L156 197.64 L156.5 196.66 L157 195.64 L157.5 194.57 L158 193.46 L158.5 192.36 L159 191.32 L159.5 190.39 L160 189.61 L160.5 189.03 L161 188.7 L161.5 188.64 L162 188.82 L162.5 189.21 L163 189.78 L163.5 190.5 L164 191.35 L164.5 192.35 L165 193.48 L165.5 194.78 L166 196.25 L166.5 197.9 L167 199.74 L167.5 201.74 L168 203.9 L168.5 206.17 L169 208.54 L169.5 210.99 L170 213.49 L170.5 216.05 L171 218.65 L171.5 221.31 L172 224.01 L172.5 226.75 L173 229.5 L173.5 232.24 L174 234.93 L174.5 237.53 L175 240 L175.5 242.32 L176 244.46 L176.5 246.43 L177 248.21 L177.5 249.79 L178 251.16 L178.5 252.32 L179 253.3 L179.5 254.13 L180 254.83 L180.5 255.45 L181 256 L181.5 256.51 L182 257 L182.5 257.45 L183 257.87 L183.5 258.27 L184 258.65 L184.5 259 L185 259.34 L185.5 259.65 L186 259.95 L186.5 260.23 L187 260.49 L187.5 260.74 L188 260.98 L188.5 261.21 L189 261.43 L189.5 261.64 L190 261.84 L190.5 262.04 L191 262.23 L191.5 262.42 L192 262.6 L192.5 262.78 L193 262.96 L193.5 263.14 L194 263.32 L194.5 263.5 L195 263.68 L195.5 263.86 L196 264.03 L196.5 264.2 L197 264.38 L197.5 264.55 L198 264.72 L198.5 264.89 L199 265.06 L199.5 265.23 L200 265.4 L200.5 265.57 L201 265.74 L201.5 265.9 L202 266.07 L202.5 266.23 L203 266.39 L203.5 266.55 L204 266.7 L204.5 266.85 L205 267 L205.5 267.14 L206 267.29 L206.5 267.42 L207 267.55 L207.5 267.68 L208 267.8 L208.5 267.92 L209 268.03 L209.5 268.13 L210 268.23 L210.5 268.33 L211 268.42 L211.5 268.51 L212 268.6 L212.5 268.68 L213 268.76 L213.5 268.84 L214 268.91 L214.5 268.98 L215 269.05 L215.5 269.12 L216 269.18 L216.5 269.25 L217 269.31 L217.5 269.38 L218 269.44 L218.5 269.5" fill="none" stroke="#ff8a1c" stroke-width="1.4" stroke-linejoin="round" stroke-linecap="round"/>
<path d="M39.5 247.8 L40 248.36 L40.5 248.92 L41 249.48 L41.5 250.03 L42 250.58 L42.5 251.13 L43 251.66 L43.5 252.18 L44 252.7 L44.5 253.2 L45 253.69 L45.5 254.16 L46 254.63 L46.5 255.08 L47 255.53 L47.5 255.96 L48 256.38 L48.5 256.8 L49 257.21 L49.5 257.61 L50 258 L50.5 258.39 L51 258.77 L51.5 259.14 L52 259.51 L52.5 259.88 L53 260.23 L53.5 260.58 L54 260.93 L54.5 261.27 L55 261.6 L55.5 261.93 L56 262.25 L56.5 262.56 L57 262.86 L57.5 263.16 L58 263.45 L58.5 263.73 L59 264 L59.5 264.25 L60 264.5 L60.5 264.73 L61 264.95 L61.5 265.16 L62 265.34 L62.5 265.5 L63 265.63 L63.5 265.73 L64 265.81 L64.5 265.84 L65 265.84 L65.5 265.8 L66 265.72 L66.5 265.59 L67 265.43 L67.5 265.23 L68 265.01 L68.5 264.75 L69 264.48 L69.5 264.18 L70 263.87 L70.5 263.54 L71 263.2 L71.5 262.85 L72 262.5 L72.5 262.15 L73 261.8 L73.5 261.45 L74 261.1 L74.5 260.75 L75 260.41 L75.5 260.08 L76 259.75 L76.5 259.43 L77 259.11 L77.5 258.81 L78 258.52 L78.5 258.24 L79 257.97 L79.5 257.72 L80 257.48 L80.5 257.26 L81 257.05 L81.5 256.86 L82 256.68 L82.5 256.51 L83 256.35 L83.5 256.2 L84 256.06 L84.5 255.92 L85 255.78 L85.5 255.64 L86 255.5 L86.5 255.36 L87 255.22 L87.5 255.07 L88 254.93 L88.5 254.8 L89 254.66 L89.5 254.53 L90 254.41 L90.5 254.3 L91 254.2 L91.5 254.11 L92 254.03 L92.5 253.96 L93 253.89 L93.5 253.84 L94 253.78 L94.5 253.74 L95 253.69 L95.5 253.65 L96 253.6 L96.5 253.55 L97 253.51 L97.5 253.46 L98 253.41 L98.5 253.36 L99 253.31 L99.5 253.27 L100 253.22 L100.5 253.18 L101 253.14 L101.5 253.11 L102 253.07 L102.5 253.04 L103 252.98 L103.5 252.91 L104 252.8 L104.5 252.65 L105 252.45 L105.5 252.19 L106 251.86 L106.5 251.45 L107 250.97 L107.5 250.44 L108 249.84 L108.5 249.19 L109 248.5 L109.5 247.77 L110 247.01 L110.5 246.23 L111 245.45 L111.5 244.67 L112 243.9 L112.5 243.16 L113 242.45 L113.5 241.76 L114 241.09 L114.5 240.45 L115 239.83 L115.5 239.23 L116 238.64 L116.5 238.06 L117 237.5 L117.5 236.95 L118 236.4 L118.5 235.87 L119 235.34 L119.5 234.83 L120 234.33 L120.5 233.85 L121 233.38 L121.5 232.93 L122 232.49 L122.5 232.06 L123 231.66 L123.5 231.27 L124 230.9 L124.5 230.53 L125 230.18 L125.5 229.83 L126 229.49 L126.5 229.14 L127 228.8 L127.5 228.46 L128 228.11 L128.5 227.75 L129 227.38 L129.5 227 L130 226.6 L130.5 226.19 L131 225.76 L131.5 225.32 L132 224.86 L132.5 224.4 L133 223.94 L133.5 223.47 L134 223 L134.5 222.53 L135 222.06 L135.5 221.6 L136 221.15 L136.5 220.71 L137 220.28 L137.5 219.87 L138 219.46 L138.5 219.07 L139 218.69 L139.5 218.31 L140 217.95 L140.5 217.59 L141 217.24 L141.5 216.9 L142 216.57 L142.5 216.24 L143 215.91 L143.5 215.58 L144 215.25 L144.5 214.92 L145 214.57 L145.5 214.21 L146 213.83 L146.5 213.44 L147 213.02 L147.5 212.57 L148 212.1 L148.5 211.6 L149 211.08 L149.5 210.53 L150 209.96 L150.5 209.38 L151 208.79 L151.5 208.2 L152 207.6 L152.5 207 L153 206.41 L153.5 205.82 L154 205.23 L154.5 204.64 L155 204.04 L155.5 203.44 L156 202.83 L156.5 202.2 L157 201.56 L157.5 200.9 L158 200.21 L158.5 199.5 L159 198.77 L159.5 198 L160 197.2 L160.5 196.38 L161 195.55 L161.5 194.72 L162 193.92 L162.5 193.14 L163 192.4 L163.5 191.71 L164 191.07 L164.5 190.5 L165 190 L165.5 189.58 L166 189.25 L166.5 189 L167 188.84 L167.5 188.78 L168 188.82 L168.5 188.95 L169 189.2 L169.5 189.57 L170 190.07 L170.5 190.71 L171 191.5 L171.5 192.44 L172 193.52 L172.5 194.72 L173 196.02 L173.5 197.4 L174 198.86 L174.5 200.36 L175 201.89 L175.5 203.44 L176 205 L176.5 206.57 L177 208.15 L177.5 209.75 L178 211.37 L178.5 213 L179 214.65 L179.5 216.31 L180 217.98 L180.5 219.64 L181 221.28 L181.5 222.89 L182 224.48 L182.5 226.02 L183 227.52 L183.5 228.97 L184 230.39 L184.5 231.77 L185 233.12 L185.5 234.44 L186 235.73 L186.5 237 L187 238.24 L187.5 239.46 L188 240.65 L188.5 241.81 L189 242.93 L189.5 244.01 L190 245.04 L190.5 246.03 L191 246.97 L191.5 247.85 L192 248.69 L192.5 249.49 L193 250.25 L193.5 250.97 L194 251.67 L194.5 252.34 L195 253 L195.5 253.64 L196 254.27 L196.5 254.88 L197 255.47 L197.5 256.04 L198 256.59 L198.5 257.12 L199 257.62 L199.5 258.09 L200 258.54 L200.5 258.96 L201 259.36 L201.5 259.74 L202 260.1 L202.5 260.44 L203 260.77 L203.5 261.09 L204 261.4 L204.5 261.7 L205 262 L205.5 262.29 L206 262.59 L206.5 262.88 L207 263.16 L207.5 263.44 L208 263.72 L208.5 264 L209 264.27 L209.5 264.53 L210 264.79 L210.5 265.05 L211 265.3 L211.5 265.54 L212 265.78 L212.5 266.02 L213 266.25 L213.5 266.48 L214 266.7 L214.5 266.92 L215 267.13 L215.5 267.35 L216 267.56 L216.5 267.77 L217 267.98 L217.5 268.19 L218 268.39 L218.5 268.6" fill="none" stroke="#1a28f0" stroke-width="1.4" stroke-linejoin="round" stroke-linecap="round"/>
</g>
<rect x="39.5" y="146.4" width="179" height="129.9" fill="none" stroke="#8a8a8a" stroke-width="0.9"/>
<line x1="53.5" y1="276.3" x2="53.5" y2="274.3" stroke="#3a3a3a" stroke-width="0.6"/>
<line x1="53.5" y1="146.4" x2="53.5" y2="148.4" stroke="#3a3a3a" stroke-width="0.6"/>
<text x="53.5" y="286.8" font-size="7.6" text-anchor="middle" fill="#231f20" stroke="#231f20" stroke-width="0.16">400</text>
<line x1="81" y1="276.3" x2="81" y2="274.3" stroke="#3a3a3a" stroke-width="0.6"/>
<line x1="81" y1="146.4" x2="81" y2="148.4" stroke="#3a3a3a" stroke-width="0.6"/>
<text x="81" y="286.8" font-size="7.6" text-anchor="middle" fill="#231f20" stroke="#231f20" stroke-width="0.16">500</text>
<line x1="108.5" y1="276.3" x2="108.5" y2="274.3" stroke="#3a3a3a" stroke-width="0.6"/>
<line x1="108.5" y1="146.4" x2="108.5" y2="148.4" stroke="#3a3a3a" stroke-width="0.6"/>
<text x="108.5" y="286.8" font-size="7.6" text-anchor="middle" fill="#231f20" stroke="#231f20" stroke-width="0.16">600</text>
<line x1="136" y1="276.3" x2="136" y2="274.3" stroke="#3a3a3a" stroke-width="0.6"/>
<line x1="136" y1="146.4" x2="136" y2="148.4" stroke="#3a3a3a" stroke-width="0.6"/>
<text x="136" y="286.8" font-size="7.6" text-anchor="middle" fill="#231f20" stroke="#231f20" stroke-width="0.16">700</text>
<line x1="163.5" y1="276.3" x2="163.5" y2="274.3" stroke="#3a3a3a" stroke-width="0.6"/>
<line x1="163.5" y1="146.4" x2="163.5" y2="148.4" stroke="#3a3a3a" stroke-width="0.6"/>
<text x="163.5" y="286.8" font-size="7.6" text-anchor="middle" fill="#231f20" stroke="#231f20" stroke-width="0.16">800</text>
<line x1="191" y1="276.3" x2="191" y2="274.3" stroke="#3a3a3a" stroke-width="0.6"/>
<line x1="191" y1="146.4" x2="191" y2="148.4" stroke="#3a3a3a" stroke-width="0.6"/>
<text x="191" y="286.8" font-size="7.6" text-anchor="middle" fill="#231f20" stroke="#231f20" stroke-width="0.16">900</text>
<line x1="218.5" y1="276.3" x2="218.5" y2="274.3" stroke="#3a3a3a" stroke-width="0.6"/>
<line x1="218.5" y1="146.4" x2="218.5" y2="148.4" stroke="#3a3a3a" stroke-width="0.6"/>
<text x="218.5" y="286.8" font-size="7.6" text-anchor="middle" fill="#231f20" stroke="#231f20" stroke-width="0.16">1,000</text>
<line x1="39.5" y1="274.8" x2="41.5" y2="274.8" stroke="#3a3a3a" stroke-width="0.6"/>
<line x1="218.5" y1="274.8" x2="216.5" y2="274.8" stroke="#3a3a3a" stroke-width="0.6"/>
<text x="35" y="277.5" font-size="7.6" text-anchor="end" fill="#231f20" stroke="#231f20" stroke-width="0.16">0</text>
<line x1="39.5" y1="240.28" x2="41.5" y2="240.28" stroke="#3a3a3a" stroke-width="0.6"/>
<line x1="218.5" y1="240.28" x2="216.5" y2="240.28" stroke="#3a3a3a" stroke-width="0.6"/>
<text x="35" y="242.98" font-size="7.6" text-anchor="end" fill="#231f20" stroke="#231f20" stroke-width="0.16">0.4</text>
<line x1="39.5" y1="205.76" x2="41.5" y2="205.76" stroke="#3a3a3a" stroke-width="0.6"/>
<line x1="218.5" y1="205.76" x2="216.5" y2="205.76" stroke="#3a3a3a" stroke-width="0.6"/>
<text x="35" y="208.46" font-size="7.6" text-anchor="end" fill="#231f20" stroke="#231f20" stroke-width="0.16">0.8</text>
<line x1="39.5" y1="171.24" x2="41.5" y2="171.24" stroke="#3a3a3a" stroke-width="0.6"/>
<line x1="218.5" y1="171.24" x2="216.5" y2="171.24" stroke="#3a3a3a" stroke-width="0.6"/>
<text x="35" y="173.94" font-size="7.6" text-anchor="end" fill="#231f20" stroke="#231f20" stroke-width="0.16">1.2</text>
<text x="128.9" y="300.5" font-size="7.9" text-anchor="middle" fill="#231f20" stroke="#231f20" stroke-width="0.16">Wavelength (nm)</text>
<text x="16" y="211.1" font-size="7.9" text-anchor="middle" fill="#231f20" stroke="#231f20" stroke-width="0.16" transform="rotate(-90 16 211.1)">Absorption (norm.)</text>
<line x1="49.4" y1="157.9" x2="69.4" y2="157.9" stroke="#1a28f0" stroke-width="1.5"/>
<text x="75.1" y="160.7" font-size="8" fill="#231f20" stroke="#231f20" stroke-width="0.16">FTh-4F</text>
<line x1="49.4" y1="169.3" x2="69.4" y2="169.3" stroke="#ff8a1c" stroke-width="1.5"/>
<text x="75.1" y="172.1" font-size="8" fill="#231f20" stroke="#231f20" stroke-width="0.16">BrQx-4BO</text>
<line x1="123.7" y1="157.9" x2="143.7" y2="157.9" stroke="#1f8a1f" stroke-width="1.5"/>
<text x="149.4" y="160.7" font-size="8" fill="#231f20" stroke="#231f20" stroke-width="0.16">D18</text>
<line x1="123.7" y1="169.3" x2="143.7" y2="169.3" stroke="#d42020" stroke-width="1.5"/>
<text x="149.4" y="172.1" font-size="8" fill="#231f20" stroke="#231f20" stroke-width="0.16">PtOEP</text>
<line x1="506.7" y1="245.5" x2="684.5" y2="245.5" stroke="#111" stroke-width="1" stroke-dasharray="3.4 2.3"/>
<g clip-path="url(#clipe)">
<path d="M506.9 232 L507.4 217.83 L507.9 202.6 L508.4 191.2 L508.9 182.97 L509.4 180.3 L509.9 180.43 L510.4 180.68 L510.9 180.95 L511.4 181.21 L511.9 181.52 L512.4 182.04 L512.9 181.95 L513.4 182.53 L513.9 182.8 L514.4 183.56 L514.9 183.75 L515.4 183.99 L515.91 184.16 L516.41 184.67 L516.91 185.08 L517.41 185.29 L517.91 186.14 L518.41 186.34 L518.91 185.33 L519.41 185.91 L519.91 186.8 L520.41 187.01 L520.91 187.51 L521.41 187.8 L521.91 188.75 L522.41 187.91 L522.91 188.45 L523.41 189.59 L523.91 189.39 L524.41 189.68 L524.91 189.57 L525.41 189.47 L525.91 190.41 L526.41 190.69 L526.91 190.53 L527.41 191.03 L527.91 191.55 L528.41 191.56 L528.91 192.16 L529.41 192.53 L529.91 192.81 L530.41 192.92 L530.91 193.6 L531.41 193.99 L531.91 194.07 L532.41 193.94 L532.91 194.74 L533.41 194.56 L533.92 195.28 L534.42 194.84 L534.92 195.77 L535.42 195.68 L535.92 195.48 L536.42 196.04 L536.92 196.41 L537.42 196.73 L537.92 196.54 L538.42 196.76 L538.92 197.48 L539.42 197.53 L539.92 198.07 L540.42 198.56 L540.92 198.03 L541.42 199.02 L541.92 199.69 L542.42 199.5 L542.92 199.67 L543.42 200.57 L543.92 200.77 L544.42 201.37 L544.92 201.32 L545.42 201.32 L545.92 202.2 L546.42 202.51 L546.92 203.37 L547.42 203.62 L547.92 203.44 L548.42 204.06 L548.92 205.26 L549.42 205.67 L549.92 205.7 L550.42 206.43 L550.92 207.11 L551.43 207.65 L551.93 208.35 L552.43 208.69 L552.93 209.13 L553.43 209.64 L553.93 210.67 L554.43 210.08 L554.93 211.37 L555.43 211.98 L555.93 212.02 L556.43 213.18 L556.93 213.38 L557.43 214.45 L557.93 214.65 L558.43 215.48 L558.93 216.21 L559.43 216.46 L559.93 216.57 L560.43 216.89 L560.93 218.57 L561.43 218.48 L561.93 218.84 L562.43 219.69 L562.93 220.14 L563.43 221.08 L563.93 221.35 L564.43 221.9 L564.93 222.19 L565.43 223.13 L565.93 223.12 L566.43 224.2 L566.93 224.97 L567.43 224.36 L567.93 224.47 L568.43 225.99 L568.93 227.09 L569.44 226.27 L569.94 226.59 L570.44 227.63 L570.94 227.53 L571.44 228.03 L571.94 228.46 L572.44 229.13 L572.94 229.16 L573.44 229.74 L573.94 229.91 L574.44 230 L574.94 230.5 L575.44 230.59 L575.94 231.23 L576.44 231.14 L576.94 231.45 L577.44 232.63 L577.94 232.38 L578.44 232.64 L578.94 233.09 L579.44 233.01 L579.94 233.3 L580.44 233.74 L580.94 233.88 L581.44 233.55 L581.94 234.42 L582.44 234.1 L582.94 234.1 L583.44 234.32 L583.94 234.65 L584.44 235.51 L584.94 234.67 L585.44 235.27 L585.94 234.59 L586.44 235.45 L586.95 235.87 L587.45 235.56 L587.95 235.5 L588.45 235.87 L588.95 236.08 L589.45 236.11 L589.95 236.62 L590.45 236.05 L590.95 235.81 L591.45 236.01 L591.95 236.06 L592.45 236.16 L592.95 236.14 L593.45 236.23 L593.95 235.6 L594.45 236.49 L594.95 236 L595.45 235.79 L595.95 236.41 L596.45 236.63 L596.95 236.32 L597.45 236.17 L597.95 235.75 L598.45 237.04 L598.95 236.3 L599.45 235.55 L599.95 235.63 L600.45 235.88 L600.95 235.25 L601.45 235.81 L601.95 235.54 L602.45 236.08 L602.95 235.94 L603.45 234.61 L603.95 235.52 L604.45 234.88 L604.96 235.77 L605.46 235.37 L605.96 235.43 L606.46 234.8 L606.96 235.74 L607.46 235.74 L607.96 234.59 L608.46 235.03 L608.96 234.6 L609.46 234.77 L609.96 234.28 L610.46 235.34 L610.96 234.31 L611.46 234.51 L611.96 234.78 L612.46 234.36 L612.96 234.5 L613.46 234.37 L613.96 234.51 L614.46 234.14 L614.96 234.39 L615.46 234.46 L615.96 234.41 L616.46 234.54 L616.96 234.41 L617.46 234.78 L617.96 234.39 L618.46 234.46 L618.96 234.27 L619.46 234.32 L619.96 234.06 L620.46 234.69 L620.96 234.13 L621.46 234.3 L621.96 234.73 L622.47 234.8 L622.97 234.58 L623.47 234.09 L623.97 235.02 L624.47 235.05 L624.97 234.55 L625.47 235.4 L625.97 234.97 L626.47 234.91 L626.97 235.43 L627.47 235.41 L627.97 235.63 L628.47 235.07 L628.97 236.33 L629.47 235.54 L629.97 235.26 L630.47 236.05 L630.97 235.75 L631.47 236.02 L631.97 235.82 L632.47 235.95 L632.97 236.09 L633.47 235.77 L633.97 236.29 L634.47 235.92 L634.97 235.8 L635.47 236.16 L635.97 236.31 L636.47 236.1 L636.97 235.91 L637.47 236.45 L637.97 235.65 L638.47 235.94 L638.97 236.34 L639.47 235.89 L639.97 236.41 L640.48 236.42 L640.98 236.79 L641.48 236.2 L641.98 236.35 L642.48 236.73 L642.98 235.8 L643.48 237.8 L643.98 236.52 L644.48 236.56 L644.98 237.17 L645.48 236.91 L645.98 236.36 L646.48 237.25 L646.98 237.39 L647.48 236.98 L647.98 237.1 L648.48 237.42 L648.98 236.98 L649.48 237.5 L649.98 237.47 L650.48 237.21 L650.98 237.01 L651.48 237.46 L651.98 237.28 L652.48 237.99 L652.98 237.73 L653.48 238 L653.98 237.82 L654.48 237.91 L654.98 237.59 L655.48 238.15 L655.98 238.58 L656.48 237.9 L656.98 237.84 L657.48 238.04 L657.99 237.97 L658.49 237.94 L658.99 238.28 L659.49 238.18 L659.99 238.83 L660.49 238.37 L660.99 238.52 L661.49 238.79 L661.99 238.39 L662.49 239.05 L662.99 238.37 L663.49 238.35 L663.99 238.55 L664.49 238.68 L664.99 238.28 L665.49 238.8 L665.99 238.27 L666.49 239.39 L666.99 238.92 L667.49 238.76 L667.99 238.71 L668.49 238.94 L668.99 239.04 L669.49 238.8 L669.99 238.88 L670.49 239.18 L670.99 239.11 L671.49 239.66 L671.99 239.77 L672.49 239.42 L672.99 239.62 L673.49 239.02 L673.99 239.75 L674.49 239.55 L674.99 239.77 L675.49 240.2 L676 238.87 L676.5 239.8 L677 239.36 L677.5 239.98 L678 239.35 L678.5 239.67 L679 239.94 L679.5 240.12 L680 239.96 L680.5 239.69 L681 239.8 L681.5 240.34 L682 240.06 L682.5 239.5 L683 240.41 L683.5 240.29 L684 240.48 L684.5 240.08" fill="none" stroke="#ff8a1c" stroke-width="1.4" stroke-linejoin="round" stroke-linecap="round"/>
<path d="M506.9 244 L507.4 214.99 L507.9 194.99 L508.4 185.88 L508.9 185.8 L509.4 186.73 L509.9 187.81 L510.4 188.79 L510.9 189.92 L511.4 191.1 L511.9 192.23 L512.4 193.09 L512.9 193.79 L513.4 194.08 L513.9 194.93 L514.4 195.12 L514.9 195.68 L515.4 195.56 L515.91 196.04 L516.41 195.86 L516.91 196.58 L517.41 196.42 L517.91 196.52 L518.41 196.6 L518.91 196.14 L519.41 196.8 L519.91 197.27 L520.41 196 L520.91 195.99 L521.41 196.09 L521.91 196.93 L522.41 196.7 L522.91 197.04 L523.41 196.94 L523.91 196.77 L524.41 196.81 L524.91 196.67 L525.41 197.04 L525.91 196.36 L526.41 196.61 L526.91 196.86 L527.41 197.41 L527.91 196.52 L528.41 196.41 L528.91 196.6 L529.41 197.14 L529.91 196.72 L530.41 197.26 L530.91 196.14 L531.41 197.18 L531.91 197.14 L532.41 196.27 L532.91 196.8 L533.41 197.16 L533.92 196.74 L534.42 197.04 L534.92 197.49 L535.42 196.73 L535.92 196.51 L536.42 196.3 L536.92 196.77 L537.42 196.44 L537.92 196.41 L538.42 196.39 L538.92 196.62 L539.42 195.98 L539.92 195.77 L540.42 195.41 L540.92 196.61 L541.42 196.13 L541.92 196.54 L542.42 195.9 L542.92 195.52 L543.42 195.81 L543.92 195.48 L544.42 194.92 L544.92 194.89 L545.42 195.66 L545.92 195 L546.42 194.86 L546.92 194.45 L547.42 194.14 L547.92 194.54 L548.42 194.03 L548.92 193.63 L549.42 193.67 L549.92 193.22 L550.42 193.42 L550.92 193.55 L551.43 192.67 L551.93 193.26 L552.43 192.32 L552.93 192.4 L553.43 191.84 L553.93 191.84 L554.43 191.71 L554.93 191.32 L555.43 191.01 L555.93 190.79 L556.43 190.52 L556.93 190.02 L557.43 190.24 L557.93 190.22 L558.43 190.14 L558.93 189.79 L559.43 190.16 L559.93 189.15 L560.43 188.61 L560.93 189.17 L561.43 187.88 L561.93 188.33 L562.43 187.41 L562.93 187.62 L563.43 186.57 L563.93 187.35 L564.43 186.75 L564.93 186.25 L565.43 186.95 L565.93 186.41 L566.43 185.94 L566.93 185.45 L567.43 185.48 L567.93 185.23 L568.43 185.34 L568.93 185.17 L569.44 184.46 L569.94 184.31 L570.44 184.14 L570.94 183.67 L571.44 183.77 L571.94 183.79 L572.44 183.91 L572.94 183.97 L573.44 183.07 L573.94 183.38 L574.44 182.88 L574.94 183.61 L575.44 182.72 L575.94 182.77 L576.44 182.13 L576.94 182.04 L577.44 182.28 L577.94 181.97 L578.44 182.13 L578.94 181.38 L579.44 182.09 L579.94 181.49 L580.44 182.37 L580.94 181.63 L581.44 182.07 L581.94 181.17 L582.44 181.77 L582.94 181.28 L583.44 181.4 L583.94 181.55 L584.44 181.41 L584.94 181.6 L585.44 181.77 L585.94 181.73 L586.44 181.48 L586.95 181.07 L587.45 181.32 L587.95 181.6 L588.45 181.01 L588.95 182.11 L589.45 181.86 L589.95 181.95 L590.45 182.47 L590.95 182.47 L591.45 182.4 L591.95 182.04 L592.45 182.56 L592.95 182.64 L593.45 182.26 L593.95 182.98 L594.45 182.85 L594.95 182.03 L595.45 182.81 L595.95 182.37 L596.45 183.26 L596.95 183.19 L597.45 182.57 L597.95 182.71 L598.45 183.11 L598.95 183.06 L599.45 183.75 L599.95 183.55 L600.45 183.29 L600.95 183.7 L601.45 182.93 L601.95 183.91 L602.45 184.27 L602.95 184.09 L603.45 184.09 L603.95 184.74 L604.45 185.43 L604.96 185.02 L605.46 184.75 L605.96 185.84 L606.46 184.86 L606.96 185.87 L607.46 185.64 L607.96 186.31 L608.46 185.8 L608.96 186.66 L609.46 186.37 L609.96 185.74 L610.46 185.72 L610.96 186.37 L611.46 186.99 L611.96 186.65 L612.46 186.68 L612.96 186.63 L613.46 187.02 L613.96 186.95 L614.46 186.96 L614.96 186.56 L615.46 187.37 L615.96 187.47 L616.46 186.58 L616.96 187.88 L617.46 187.37 L617.96 186.98 L618.46 186.52 L618.96 187.46 L619.46 187.46 L619.96 187.09 L620.46 186.71 L620.96 187.76 L621.46 187.19 L621.96 187.27 L622.47 188.46 L622.97 188.24 L623.47 187.86 L623.97 187.39 L624.47 187.81 L624.97 186.81 L625.47 187.67 L625.97 187.39 L626.47 187.24 L626.97 187.16 L627.47 187.92 L627.97 187.79 L628.47 187.84 L628.97 188.11 L629.47 187.54 L629.97 187.43 L630.47 187.26 L630.97 187.79 L631.47 188.19 L631.97 187.9 L632.47 188.2 L632.97 187.59 L633.47 187.86 L633.97 187.78 L634.47 187.63 L634.97 188.74 L635.47 188.41 L635.97 187.87 L636.47 187.89 L636.97 188.16 L637.47 187.69 L637.97 188.37 L638.47 187.79 L638.97 188.13 L639.47 187.92 L639.97 188.13 L640.48 187.86 L640.98 187.79 L641.48 188.02 L641.98 188.14 L642.48 188.3 L642.98 188.45 L643.48 188.98 L643.98 188.75 L644.48 188.39 L644.98 188.75 L645.48 188.28 L645.98 189.05 L646.48 188.75 L646.98 188.1 L647.48 188.86 L647.98 188.9 L648.48 187.7 L648.98 188.4 L649.48 188.51 L649.98 188.02 L650.48 188.35 L650.98 188.41 L651.48 188.94 L651.98 188.89 L652.48 189.72 L652.98 188.69 L653.48 189.25 L653.98 188.9 L654.48 188.99 L654.98 188.51 L655.48 188.27 L655.98 188.69 L656.48 189.25 L656.98 189.56 L657.48 189.24 L657.99 189.22 L658.49 188.77 L658.99 189.62 L659.49 189.58 L659.99 188.94 L660.49 189.13 L660.99 188.82 L661.49 189.7 L661.99 189.35 L662.49 189.19 L662.99 189.38 L663.49 189.41 L663.99 189.13 L664.49 188.85 L664.99 188.85 L665.49 188.7 L665.99 189.49 L666.49 190.12 L666.99 188.76 L667.49 189.42 L667.99 189.52 L668.49 189.05 L668.99 189.48 L669.49 189.04 L669.99 189.85 L670.49 189.24 L670.99 189.49 L671.49 189.71 L671.99 189.33 L672.49 188.87 L672.99 189.32 L673.49 189.78 L673.99 189.5 L674.49 189.62 L674.99 189.17 L675.49 189.61 L676 189.82 L676.5 189.59 L677 190.26 L677.5 189.53 L678 189.24 L678.5 189.05 L679 190.03 L679.5 189.61 L680 190 L680.5 189.81 L681 190.23 L681.5 190.11 L682 189.54 L682.5 189.77 L683 190.06 L683.5 189.26 L684 190.2 L684.5 190.12" fill="none" stroke="#1f8a1f" stroke-width="1.4" stroke-linejoin="round" stroke-linecap="round"/>
<path d="M506.9 246 L507.4 250.39 L507.9 254.71 L508.4 258.26 L508.9 258.06 L509.4 256.99 L509.9 255.72 L510.4 254.56 L510.9 253.25 L511.4 251.93 L511.9 250.71 L512.4 249.52 L512.9 248.51 L513.4 247.39 L513.9 246.34 L514.4 245.73 L514.9 245.3 L515.4 244.39 L515.91 244.17 L516.41 243.15 L516.91 242.64 L517.41 242.63 L517.91 241.77 L518.41 240.94 L518.91 240.64 L519.41 240.54 L519.91 240.73 L520.41 239.71 L520.91 239.49 L521.41 239.72 L521.91 238.86 L522.41 238.9 L522.91 239.14 L523.41 238.89 L523.91 238.57 L524.41 238.64 L524.91 237.28 L525.41 238.49 L525.91 237.67 L526.41 237.28 L526.91 237.83 L527.41 237.83 L527.91 237.27 L528.41 236.89 L528.91 237.11 L529.41 236.92 L529.91 237.27 L530.41 236.88 L530.91 236.52 L531.41 236.68 L531.91 236.06 L532.41 235.64 L532.91 236.01 L533.41 235.84 L533.92 235.4 L534.42 235.04 L534.92 235.24 L535.42 234.13 L535.92 235.08 L536.42 234.85 L536.92 233.95 L537.42 234.39 L537.92 233.89 L538.42 234.36 L538.92 233.25 L539.42 233.51 L539.92 233.95 L540.42 233.99 L540.92 232.7 L541.42 233.16 L541.92 233.32 L542.42 232.86 L542.92 233.49 L543.42 232.37 L543.92 232.75 L544.42 232.1 L544.92 232.78 L545.42 232.09 L545.92 231.77 L546.42 231.08 L546.92 232.03 L547.42 231.41 L547.92 231.07 L548.42 230.82 L548.92 230.13 L549.42 229.34 L549.92 228.81 L550.42 228.32 L550.92 228.58 L551.43 227.08 L551.93 226.87 L552.43 226.46 L552.93 226.15 L553.43 225.78 L553.93 224.61 L554.43 223.89 L554.93 223.93 L555.43 223.77 L555.93 223.02 L556.43 222.23 L556.93 221.45 L557.43 221.07 L557.93 220.29 L558.43 220.09 L558.93 218.98 L559.43 218.77 L559.93 218.18 L560.43 217.94 L560.93 217.39 L561.43 217.78 L561.93 217 L562.43 216.6 L562.93 214.99 L563.43 215.21 L563.93 214.77 L564.43 214.84 L564.93 213.54 L565.43 214.46 L565.93 214.14 L566.43 213.04 L566.93 212.9 L567.43 212.71 L567.93 212.77 L568.43 212.75 L568.93 213.01 L569.44 211.99 L569.94 212.1 L570.44 211.65 L570.94 211.98 L571.44 211.38 L571.94 211.37 L572.44 210.28 L572.94 210.36 L573.44 209.91 L573.94 210.5 L574.44 209.99 L574.94 209.44 L575.44 209.19 L575.94 209.33 L576.44 208.74 L576.94 208.49 L577.44 208.83 L577.94 209.36 L578.44 208.25 L578.94 207.98 L579.44 207.6 L579.94 207.38 L580.44 207.87 L580.94 207.83 L581.44 207.39 L581.94 207.36 L582.44 207.16 L582.94 207.05 L583.44 206.36 L583.94 206.64 L584.44 206.76 L584.94 206.39 L585.44 206.46 L585.94 206.32 L586.44 206.49 L586.95 206.92 L587.45 206.51 L587.95 206.64 L588.45 207.03 L588.95 207.03 L589.45 207.47 L589.95 206.22 L590.45 207.32 L590.95 206.93 L591.45 207.23 L591.95 207.55 L592.45 207.71 L592.95 207.76 L593.45 207.51 L593.95 208.09 L594.45 207.5 L594.95 207.63 L595.45 208.04 L595.95 207.64 L596.45 208.67 L596.95 208.34 L597.45 208.82 L597.95 208.11 L598.45 208.04 L598.95 208.29 L599.45 208.53 L599.95 208.09 L600.45 208.45 L600.95 208.33 L601.45 208.92 L601.95 208.14 L602.45 208.76 L602.95 208.18 L603.45 208.08 L603.95 208.18 L604.45 208.03 L604.96 208.51 L605.46 208.83 L605.96 208.53 L606.46 208.7 L606.96 209.07 L607.46 208.6 L607.96 208.58 L608.46 208.43 L608.96 207.97 L609.46 208.81 L609.96 207.94 L610.46 208.79 L610.96 208.57 L611.46 208.98 L611.96 208.58 L612.46 208.32 L612.96 208.75 L613.46 208.44 L613.96 208.59 L614.46 208.68 L614.96 208.63 L615.46 208.63 L615.96 208.42 L616.46 208.66 L616.96 207.99 L617.46 208.69 L617.96 208.34 L618.46 209.17 L618.96 209.24 L619.46 208.12 L619.96 208.87 L620.46 208.79 L620.96 208.48 L621.46 209.05 L621.96 208.72 L622.47 208.27 L622.97 208.81 L623.47 208.87 L623.97 208.97 L624.47 208.52 L624.97 209.18 L625.47 209.23 L625.97 208.59 L626.47 208.77 L626.97 208.99 L627.47 208.83 L627.97 209.66 L628.47 209.13 L628.97 208.72 L629.47 208.81 L629.97 209.08 L630.47 209.92 L630.97 209.06 L631.47 209.18 L631.97 209.33 L632.47 209.15 L632.97 209.97 L633.47 209 L633.97 209.46 L634.47 209.27 L634.97 209.44 L635.47 208.82 L635.97 209.87 L636.47 209.22 L636.97 209.28 L637.47 208.96 L637.97 209.04 L638.47 209.51 L638.97 209.66 L639.47 209.6 L639.97 209.77 L640.48 209.61 L640.98 209.38 L641.48 209.67 L641.98 209.6 L642.48 209.37 L642.98 209.67 L643.48 209.88 L643.98 209.52 L644.48 209.33 L644.98 209.72 L645.48 210.14 L645.98 209.42 L646.48 209.47 L646.98 209.47 L647.48 209.96 L647.98 208.9 L648.48 209.69 L648.98 209.99 L649.48 209.3 L649.98 210.12 L650.48 209.8 L650.98 209.44 L651.48 209.72 L651.98 209.12 L652.48 209.48 L652.98 210.33 L653.48 209.4 L653.98 210.37 L654.48 209.72 L654.98 210.11 L655.48 209.8 L655.98 209.02 L656.48 209.62 L656.98 209.9 L657.48 209.45 L657.99 209.4 L658.49 210.02 L658.99 209.68 L659.49 209.33 L659.99 209.71 L660.49 210.26 L660.99 209.81 L661.49 210.32 L661.99 210.55 L662.49 210.04 L662.99 209.65 L663.49 209.6 L663.99 210.06 L664.49 210.39 L664.99 210.19 L665.49 210.3 L665.99 209.97 L666.49 210.24 L666.99 209.99 L667.49 210.05 L667.99 209.72 L668.49 209.64 L668.99 210.03 L669.49 209.82 L669.99 209.89 L670.49 210.47 L670.99 210.21 L671.49 211.28 L671.99 210.59 L672.49 210.06 L672.99 210.56 L673.49 210.43 L673.99 210.07 L674.49 210.71 L674.99 210.06 L675.49 209.28 L676 210.63 L676.5 210.15 L677 210.9 L677.5 210.16 L678 209.98 L678.5 210.95 L679 210.04 L679.5 210.49 L680 210.94 L680.5 210.48 L681 210.42 L681.5 210.49 L682 210.76 L682.5 210.19 L683 210.69 L683.5 210.69 L684 211.31 L684.5 210.38" fill="none" stroke="#1a28f0" stroke-width="1.4" stroke-linejoin="round" stroke-linecap="round"/>
</g>
<rect x="506.7" y="146.4" width="177.8" height="129.7" fill="none" stroke="#8a8a8a" stroke-width="0.9"/>
<line x1="507.1" y1="276.1" x2="507.1" y2="274.1" stroke="#3a3a3a" stroke-width="0.6"/>
<line x1="507.1" y1="146.4" x2="507.1" y2="148.4" stroke="#3a3a3a" stroke-width="0.6"/>
<line x1="513.98" y1="276.1" x2="513.98" y2="274.9" stroke="#3a3a3a" stroke-width="0.6"/>
<line x1="513.98" y1="146.4" x2="513.98" y2="147.6" stroke="#3a3a3a" stroke-width="0.6"/>
<line x1="520.85" y1="276.1" x2="520.85" y2="274.9" stroke="#3a3a3a" stroke-width="0.6"/>
<line x1="520.85" y1="146.4" x2="520.85" y2="147.6" stroke="#3a3a3a" stroke-width="0.6"/>
<line x1="527.73" y1="276.1" x2="527.73" y2="274.9" stroke="#3a3a3a" stroke-width="0.6"/>
<line x1="527.73" y1="146.4" x2="527.73" y2="147.6" stroke="#3a3a3a" stroke-width="0.6"/>
<line x1="534.6" y1="276.1" x2="534.6" y2="274.1" stroke="#3a3a3a" stroke-width="0.6"/>
<line x1="534.6" y1="146.4" x2="534.6" y2="148.4" stroke="#3a3a3a" stroke-width="0.6"/>
<line x1="545.05" y1="276.1" x2="545.05" y2="274.9" stroke="#3a3a3a" stroke-width="0.6"/>
<line x1="545.05" y1="146.4" x2="545.05" y2="147.6" stroke="#3a3a3a" stroke-width="0.6"/>
<line x1="547.42" y1="276.1" x2="547.42" y2="274.9" stroke="#3a3a3a" stroke-width="0.6"/>
<line x1="547.42" y1="146.4" x2="547.42" y2="147.6" stroke="#3a3a3a" stroke-width="0.6"/>
<line x1="549.47" y1="276.1" x2="549.47" y2="274.9" stroke="#3a3a3a" stroke-width="0.6"/>
<line x1="549.47" y1="146.4" x2="549.47" y2="147.6" stroke="#3a3a3a" stroke-width="0.6"/>
<line x1="551.28" y1="276.1" x2="551.28" y2="274.9" stroke="#3a3a3a" stroke-width="0.6"/>
<line x1="551.28" y1="146.4" x2="551.28" y2="147.6" stroke="#3a3a3a" stroke-width="0.6"/>
<line x1="552.9" y1="276.1" x2="552.9" y2="274.1" stroke="#3a3a3a" stroke-width="0.6"/>
<line x1="552.9" y1="146.4" x2="552.9" y2="148.4" stroke="#3a3a3a" stroke-width="0.6"/>
<line x1="563.56" y1="276.1" x2="563.56" y2="274.9" stroke="#3a3a3a" stroke-width="0.6"/>
<line x1="563.56" y1="146.4" x2="563.56" y2="147.6" stroke="#3a3a3a" stroke-width="0.6"/>
<line x1="569.79" y1="276.1" x2="569.79" y2="274.9" stroke="#3a3a3a" stroke-width="0.6"/>
<line x1="569.79" y1="146.4" x2="569.79" y2="147.6" stroke="#3a3a3a" stroke-width="0.6"/>
<line x1="574.21" y1="276.1" x2="574.21" y2="274.9" stroke="#3a3a3a" stroke-width="0.6"/>
<line x1="574.21" y1="146.4" x2="574.21" y2="147.6" stroke="#3a3a3a" stroke-width="0.6"/>
<line x1="577.64" y1="276.1" x2="577.64" y2="274.9" stroke="#3a3a3a" stroke-width="0.6"/>
<line x1="577.64" y1="146.4" x2="577.64" y2="147.6" stroke="#3a3a3a" stroke-width="0.6"/>
<line x1="580.45" y1="276.1" x2="580.45" y2="274.9" stroke="#3a3a3a" stroke-width="0.6"/>
<line x1="580.45" y1="146.4" x2="580.45" y2="147.6" stroke="#3a3a3a" stroke-width="0.6"/>
<line x1="582.82" y1="276.1" x2="582.82" y2="274.9" stroke="#3a3a3a" stroke-width="0.6"/>
<line x1="582.82" y1="146.4" x2="582.82" y2="147.6" stroke="#3a3a3a" stroke-width="0.6"/>
<line x1="584.87" y1="276.1" x2="584.87" y2="274.9" stroke="#3a3a3a" stroke-width="0.6"/>
<line x1="584.87" y1="146.4" x2="584.87" y2="147.6" stroke="#3a3a3a" stroke-width="0.6"/>
<line x1="586.68" y1="276.1" x2="586.68" y2="274.9" stroke="#3a3a3a" stroke-width="0.6"/>
<line x1="586.68" y1="146.4" x2="586.68" y2="147.6" stroke="#3a3a3a" stroke-width="0.6"/>
<line x1="588.3" y1="276.1" x2="588.3" y2="274.1" stroke="#3a3a3a" stroke-width="0.6"/>
<line x1="588.3" y1="146.4" x2="588.3" y2="148.4" stroke="#3a3a3a" stroke-width="0.6"/>
<line x1="598.96" y1="276.1" x2="598.96" y2="274.9" stroke="#3a3a3a" stroke-width="0.6"/>
<line x1="598.96" y1="146.4" x2="598.96" y2="147.6" stroke="#3a3a3a" stroke-width="0.6"/>
<line x1="605.19" y1="276.1" x2="605.19" y2="274.9" stroke="#3a3a3a" stroke-width="0.6"/>
<line x1="605.19" y1="146.4" x2="605.19" y2="147.6" stroke="#3a3a3a" stroke-width="0.6"/>
<line x1="609.61" y1="276.1" x2="609.61" y2="274.9" stroke="#3a3a3a" stroke-width="0.6"/>
<line x1="609.61" y1="146.4" x2="609.61" y2="147.6" stroke="#3a3a3a" stroke-width="0.6"/>
<line x1="621.35" y1="276.1" x2="621.35" y2="274.9" stroke="#3a3a3a" stroke-width="0.6"/>
<line x1="621.35" y1="146.4" x2="621.35" y2="147.6" stroke="#3a3a3a" stroke-width="0.6"/>
<line x1="637" y1="276.1" x2="637" y2="274.1" stroke="#3a3a3a" stroke-width="0.6"/>
<line x1="637" y1="146.4" x2="637" y2="148.4" stroke="#3a3a3a" stroke-width="0.6"/>
<line x1="652.65" y1="276.1" x2="652.65" y2="274.9" stroke="#3a3a3a" stroke-width="0.6"/>
<line x1="652.65" y1="146.4" x2="652.65" y2="147.6" stroke="#3a3a3a" stroke-width="0.6"/>
<line x1="668.3" y1="276.1" x2="668.3" y2="274.1" stroke="#3a3a3a" stroke-width="0.6"/>
<line x1="668.3" y1="146.4" x2="668.3" y2="148.4" stroke="#3a3a3a" stroke-width="0.6"/>
<line x1="683.95" y1="276.1" x2="683.95" y2="274.9" stroke="#3a3a3a" stroke-width="0.6"/>
<line x1="683.95" y1="146.4" x2="683.95" y2="147.6" stroke="#3a3a3a" stroke-width="0.6"/>
<text x="507.1" y="286.8" font-size="7.6" text-anchor="middle" fill="#231f20" stroke="#231f20" stroke-width="0.16">0</text>
<text x="534.6" y="286.8" font-size="7.6" text-anchor="middle" fill="#231f20" stroke="#231f20" stroke-width="0.16">4</text>
<text x="552.9" y="286.8" font-size="7.6" text-anchor="middle" fill="#231f20" stroke="#231f20" stroke-width="0.16">10</text>
<text x="588.3" y="286.8" font-size="7.6" text-anchor="middle" fill="#231f20" stroke="#231f20" stroke-width="0.16">100</text>
<text x="637" y="286.8" font-size="7.6" text-anchor="middle" fill="#231f20" stroke="#231f20" stroke-width="0.16">2,000</text>
<text x="668.3" y="286.8" font-size="7.6" text-anchor="middle" fill="#231f20" stroke="#231f20" stroke-width="0.16">4,000</text>
<line x1="506.7" y1="170.44" x2="508.7" y2="170.44" stroke="#3a3a3a" stroke-width="0.6"/>
<line x1="684.5" y1="170.44" x2="682.5" y2="170.44" stroke="#3a3a3a" stroke-width="0.6"/>
<text x="501.3" y="173.14" font-size="7.6" text-anchor="end" fill="#231f20" stroke="#231f20" stroke-width="0.16">0.6</text>
<line x1="506.7" y1="195.36" x2="508.7" y2="195.36" stroke="#3a3a3a" stroke-width="0.6"/>
<line x1="684.5" y1="195.36" x2="682.5" y2="195.36" stroke="#3a3a3a" stroke-width="0.6"/>
<text x="501.3" y="198.06" font-size="7.6" text-anchor="end" fill="#231f20" stroke="#231f20" stroke-width="0.16">0.4</text>
<line x1="506.7" y1="220.28" x2="508.7" y2="220.28" stroke="#3a3a3a" stroke-width="0.6"/>
<line x1="684.5" y1="220.28" x2="682.5" y2="220.28" stroke="#3a3a3a" stroke-width="0.6"/>
<text x="501.3" y="222.98" font-size="7.6" text-anchor="end" fill="#231f20" stroke="#231f20" stroke-width="0.16">0.2</text>
<line x1="506.7" y1="245.2" x2="508.7" y2="245.2" stroke="#3a3a3a" stroke-width="0.6"/>
<line x1="684.5" y1="245.2" x2="682.5" y2="245.2" stroke="#3a3a3a" stroke-width="0.6"/>
<text x="501.3" y="247.9" font-size="7.6" text-anchor="end" fill="#231f20" stroke="#231f20" stroke-width="0.16">0</text>
<line x1="506.7" y1="270.12" x2="508.7" y2="270.12" stroke="#3a3a3a" stroke-width="0.6"/>
<line x1="684.5" y1="270.12" x2="682.5" y2="270.12" stroke="#3a3a3a" stroke-width="0.6"/>
<text x="501.3" y="272.82" font-size="7.6" text-anchor="end" fill="#231f20" stroke="#231f20" stroke-width="0.16">−0.2</text>
<line x1="540.6" y1="278.9" x2="543.2" y2="273.3" stroke="#444" stroke-width="0.75"/>
<line x1="540.6" y1="149.2" x2="543.2" y2="143.6" stroke="#444" stroke-width="0.75"/>
<line x1="611.1" y1="278.9" x2="613.7" y2="273.3" stroke="#444" stroke-width="0.75"/>
<line x1="611.1" y1="149.2" x2="613.7" y2="143.6" stroke="#444" stroke-width="0.75"/>
<text x="595.6" y="300.5" font-size="7.9" text-anchor="middle" fill="#231f20" stroke="#231f20" stroke-width="0.16">Time delay (ps)</text>
<text x="479.6" y="208.2" font-size="7.9" text-anchor="middle" fill="#231f20" stroke="#231f20" stroke-width="0.16" transform="rotate(-90 479.6 208.2)">ΔO.D. (10<tspan dy="-2.6" font-size="5">−3</tspan><tspan dy="2.6">)</tspan></text>
<line x1="609.4" y1="153.5" x2="630" y2="153.5" stroke="#1a28f0" stroke-width="1.5"/>
<text x="634.7" y="156.3" font-size="8" fill="#231f20" stroke="#231f20" stroke-width="0.16">630 nm</text>
<line x1="609.4" y1="165" x2="630" y2="165" stroke="#1f8a1f" stroke-width="1.5"/>
<text x="634.7" y="167.8" font-size="8" fill="#231f20" stroke="#231f20" stroke-width="0.16">950 nm</text>
<line x1="609.4" y1="176.3" x2="630" y2="176.3" stroke="#ff8a1c" stroke-width="1.5"/>
<text x="634.7" y="179.1" font-size="8" fill="#231f20" stroke="#231f20" stroke-width="0.16">1,600 nm (×2)</text>
<text x="518" y="183.5" font-size="7.6" fill="#231f20" stroke="#231f20" stroke-width="0.16">DSE</text>
<text x="577" y="198.2" font-size="7.6" fill="#231f20" stroke="#231f20" stroke-width="0.16">CS</text>
<line x1="588.5" y1="192.5" x2="593.5" y2="184" stroke="#555" stroke-width="0.5"/>
<line x1="588.5" y1="200" x2="593.5" y2="206" stroke="#555" stroke-width="0.5"/>
<text x="613.3" y="230.7" font-size="7.6" fill="#231f20" stroke="#231f20" stroke-width="0.16">T</text>
<text x="619.5" y="233.2" font-size="6.5" fill="#231f20" stroke="#231f20" stroke-width="0.16">1</text>
<line x1="633" y1="192.9" x2="657" y2="192.9" stroke="#666" stroke-width="0.9"/>
<path d="M660 192.9 L656.2 194.3 L656.2 191.5Z" fill="#666"/>
<line x1="633" y1="213.5" x2="657" y2="213.5" stroke="#222" stroke-width="0.9"/>
<path d="M660 213.5 L656.2 214.9 L656.2 212.1Z" fill="#222"/>
<line x1="633" y1="231.5" x2="657" y2="234.56" stroke="#222" stroke-width="0.9"/>
<path d="M660 234.9 L656.05 235.81 L656.4 233.04Z" fill="#222"/>
<line x1="275.2" y1="360.5" x2="453.6" y2="360.5" stroke="#111" stroke-width="1" stroke-dasharray="3.4 2.3"/>
<g clip-path="url(#clipg)">
<path d="M275.3 400.8 L275.8 402.06 L276.3 403.13 L276.81 404.1 L277.31 404.91 L277.81 404.72 L278.31 403.33 L278.81 401.39 L279.32 399.53 L279.82 398.14 L280.32 396.67 L280.82 395.37 L281.32 394.54 L281.82 394.49 L282.33 395.29 L282.83 396.68 L283.33 398.39 L283.83 400.6 L284.33 404.17 L284.84 408.28 L285.34 412.02 L285.84 415.03 L286.34 418.09 L286.84 420.33 L287.35 420.79 L287.85 418.97 L288.35 415.67 L288.85 411.65 L289.35 405.08 L289.86 396.9 L290.36 389.19 L290.86 381.67 L291.36 373.96 L291.86 366.87 L292.37 361.18 L292.87 357.19 L293.37 353.97 L293.87 351.5 L294.37 349.6 L294.87 348.19 L295.38 348.07 L295.88 348.49 L296.38 349.13 L296.88 349.84 L297.38 350.56 L297.89 351.43 L298.39 352.4 L298.89 353.41 L299.39 354.4 L299.89 355.32 L300.4 356.16 L300.9 357 L301.4 357.81 L301.9 358.59 L302.4 359.29 L302.91 359.9 L303.41 360.44 L303.91 361 L304.41 361.54 L304.91 362.05 L305.41 362.49 L305.92 362.85 L306.42 363.09 L306.92 363.2 L307.42 363.2 L307.92 363.19 L308.43 363.17 L308.93 363.15 L309.43 363.12 L309.93 363.09 L310.43 363.05 L310.94 363.01 L311.44 362.94 L311.94 362.82 L312.44 362.66 L312.94 362.48 L313.45 362.3 L313.95 362.11 L314.45 361.94 L314.95 361.8 L315.45 361.66 L315.96 361.52 L316.46 361.38 L316.96 361.25 L317.46 361.11 L317.96 360.98 L318.46 360.86 L318.97 360.73 L319.47 360.62 L319.97 360.51 L320.47 360.39 L320.97 360.28 L321.48 360.15 L321.98 360.03 L322.48 359.91 L322.98 359.79 L323.48 359.69 L323.99 359.59 L324.49 359.51 L324.99 359.45 L325.49 359.41 L325.99 359.4 L326.5 359.46 L327 359.63 L327.5 359.9 L328 360.25 L328.5 360.65 L329 361.09 L329.51 361.55 L330.01 362.01 L330.51 362.53 L331.01 363.16 L331.51 363.88 L332.02 364.66 L332.52 365.5 L333.02 366.35 L333.52 367.2 L334.02 368.04 L334.53 368.88 L335.03 369.75 L335.53 370.64 L336.03 371.56 L336.53 372.48 L337.04 373.42 L337.54 374.35 L338.04 375.27 L338.54 376.18 L339.04 377.08 L339.54 378.04 L340.05 379.1 L340.55 380.22 L341.05 381.37 L341.55 382.49 L342.05 383.56 L342.56 384.53 L343.06 385.36 L343.56 386.01 L344.06 386.43 L344.56 386.6 L345.07 386.42 L345.57 385.89 L346.07 385.08 L346.57 384.08 L347.07 382.99 L347.58 381.88 L348.08 380.84 L348.58 379.75 L349.08 378.54 L349.58 377.23 L350.09 375.88 L350.59 374.53 L351.09 373.2 L351.59 371.94 L352.09 370.8 L352.59 369.7 L353.1 368.63 L353.6 367.58 L354.1 366.56 L354.6 365.56 L355.1 364.61 L355.61 363.69 L356.11 362.81 L356.61 361.98 L357.11 361.2 L357.61 360.45 L358.12 359.73 L358.62 359.04 L359.12 358.37 L359.62 357.72 L360.12 357.09 L360.63 356.46 L361.13 355.84 L361.63 355.24 L362.13 354.65 L362.63 354.07 L363.13 353.51 L363.64 352.96 L364.14 352.42 L364.64 351.88 L365.14 351.35 L365.64 350.82 L366.15 350.28 L366.65 349.77 L367.15 349.27 L367.65 348.8 L368.15 348.37 L368.66 347.96 L369.16 347.57 L369.66 347.19 L370.16 346.83 L370.66 346.48 L371.17 346.14 L371.67 345.81 L372.17 345.5 L372.67 345.19 L373.17 344.9 L373.68 344.6 L374.18 344.3 L374.68 344.01 L375.18 343.72 L375.68 343.45 L376.18 343.19 L376.69 342.95 L377.19 342.74 L377.69 342.56 L378.19 342.4 L378.69 342.27 L379.2 342.16 L379.7 342.07 L380.2 342" fill="none" stroke="#ff8a1c" stroke-width="1.45" stroke-linejoin="round" stroke-linecap="round"/>
<path d="M275.3 407.6 L275.8 409.44 L276.3 410.99 L276.81 412.28 L277.31 413.48 L277.81 414 L278.31 412.65 L278.81 409.74 L279.32 406.79 L279.82 404.81 L280.32 402.88 L280.82 401.21 L281.32 400.17 L281.82 400.08 L282.33 400.74 L282.83 401.92 L283.33 403.44 L283.83 405.63 L284.33 409.56 L284.84 414.31 L285.34 418.79 L285.84 422.61 L286.34 426.67 L286.84 429.72 L287.35 430.41 L287.85 428.86 L288.35 426 L288.85 421.05 L289.35 411.61 L289.86 400.85 L290.36 390.6 L290.86 379.2 L291.36 368.68 L291.86 361.29 L292.37 356.26 L292.87 352.35 L293.37 349.71 L293.87 347.66 L294.37 345.98 L294.87 345.02 L295.38 344.96 L295.88 345.29 L296.38 345.8 L296.88 346.37 L297.38 346.95 L297.89 347.66 L298.39 348.45 L298.89 349.28 L299.39 350.09 L299.89 350.85 L300.4 351.56 L300.9 352.28 L301.4 353 L301.9 353.67 L302.4 354.26 L302.91 354.73 L303.41 355.1 L303.91 355.45 L304.41 355.77 L304.91 356.07 L305.41 356.33 L305.92 356.54 L306.42 356.7 L306.92 356.79 L307.42 356.84 L307.92 356.88 L308.43 356.91 L308.93 356.94 L309.43 356.97 L309.93 356.98 L310.43 357 L310.94 357 L311.44 356.98 L311.94 356.93 L312.44 356.84 L312.94 356.73 L313.45 356.61 L313.95 356.47 L314.45 356.34 L314.95 356.2 L315.45 356.04 L315.96 355.86 L316.46 355.66 L316.96 355.45 L317.46 355.23 L317.96 355.02 L318.46 354.79 L318.97 354.53 L319.47 354.26 L319.97 353.99 L320.47 353.72 L320.97 353.46 L321.48 353.22 L321.98 353.01 L322.48 352.81 L322.98 352.61 L323.48 352.41 L323.99 352.22 L324.49 352.05 L324.99 351.92 L325.49 351.83 L325.99 351.8 L326.5 351.87 L327 352.06 L327.5 352.35 L328 352.71 L328.5 353.1 L329 353.5 L329.51 353.96 L330.01 354.54 L330.51 355.19 L331.01 355.91 L331.51 356.66 L332.02 357.43 L332.52 358.18 L333.02 358.95 L333.52 359.77 L334.02 360.62 L334.53 361.48 L335.03 362.35 L335.53 363.21 L336.03 364.05 L336.53 364.9 L337.04 365.76 L337.54 366.63 L338.04 367.49 L338.54 368.33 L339.04 369.13 L339.54 369.88 L340.05 370.56 L340.55 371.24 L341.05 371.96 L341.55 372.68 L342.05 373.37 L342.56 374.01 L343.06 374.56 L343.56 375 L344.06 375.29 L344.56 375.4 L345.07 375.29 L345.57 374.96 L346.07 374.47 L346.57 373.86 L347.07 373.2 L347.58 372.53 L348.08 371.91 L348.58 371.28 L349.08 370.61 L349.58 369.9 L350.09 369.17 L350.59 368.41 L351.09 367.63 L351.59 366.86 L352.09 366.05 L352.59 365.2 L353.1 364.33 L353.6 363.45 L354.1 362.57 L354.6 361.72 L355.1 360.9 L355.61 360.13 L356.11 359.39 L356.61 358.67 L357.11 357.96 L357.61 357.26 L358.12 356.58 L358.62 355.89 L359.12 355.21 L359.62 354.52 L360.12 353.83 L360.63 353.12 L361.13 352.41 L361.63 351.69 L362.13 350.98 L362.63 350.28 L363.13 349.61 L363.64 348.95 L364.14 348.33 L364.64 347.71 L365.14 347.1 L365.64 346.5 L366.15 345.92 L366.65 345.37 L367.15 344.86 L367.65 344.39 L368.15 343.98 L368.66 343.59 L369.16 343.23 L369.66 342.88 L370.16 342.56 L370.66 342.25 L371.17 341.95 L371.67 341.68 L372.17 341.41 L372.67 341.16 L373.17 340.92 L373.68 340.68 L374.18 340.43 L374.68 340.2 L375.18 339.97 L375.68 339.75 L376.18 339.55 L376.69 339.37 L377.19 339.22 L377.69 339.09 L378.19 339 L378.69 338.93 L379.2 338.87 L379.7 338.82 L380.2 338.8" fill="none" stroke="#1a28f0" stroke-width="1.45" stroke-linejoin="round" stroke-linecap="round"/>
<path d="M384.5 355.5 L385 355.84 L385.5 356.16 L386 356.44 L386.5 356.66 L387 356.8 L387.5 356.89 L388.01 356.96 L388.51 357.03 L389.01 357.09 L389.51 357.14 L390.01 357.17 L390.51 357.19 L391.01 357.2 L391.51 357.18 L392.01 357.11 L392.51 357 L393.01 356.86 L393.51 356.69 L394.01 356.5 L394.51 356.29 L395.02 356.07 L395.52 355.85 L396.02 355.62 L396.52 355.4 L397.02 355.19 L397.52 354.98 L398.02 354.76 L398.52 354.53 L399.02 354.29 L399.52 354.04 L400.02 353.78 L400.52 353.51 L401.02 353.24 L401.52 352.97 L402.03 352.69 L402.53 352.4 L403.03 352.12 L403.53 351.83 L404.03 351.55 L404.53 351.26 L405.03 350.98 L405.53 350.7 L406.03 350.42 L406.53 350.13 L407.03 349.83 L407.53 349.54 L408.03 349.24 L408.53 348.94 L409.04 348.64 L409.54 348.33 L410.04 348.03 L410.54 347.72 L411.04 347.42 L411.54 347.11 L412.04 346.8 L412.54 346.49 L413.04 346.19 L413.54 345.88 L414.04 345.58 L414.54 345.27 L415.04 344.97 L415.54 344.67 L416.05 344.36 L416.55 344.05 L417.05 343.74 L417.55 343.42 L418.05 343.11 L418.55 342.79 L419.05 342.47 L419.55 342.16 L420.05 341.84 L420.55 341.53 L421.05 341.22 L421.55 340.92 L422.05 340.62 L422.56 340.33 L423.06 340.04 L423.56 339.76 L424.06 339.49 L424.56 339.22 L425.06 338.97 L425.56 338.71 L426.06 338.45 L426.56 338.17 L427.06 337.89 L427.56 337.6 L428.06 337.31 L428.56 337.03 L429.06 336.75 L429.57 336.47 L430.07 336.2 L430.57 335.94 L431.07 335.69 L431.57 335.46 L432.07 335.25 L432.57 335.05 L433.07 334.88 L433.57 334.72 L434.07 334.6 L434.57 334.5 L435.07 334.44 L435.57 334.4 L436.07 334.41 L436.58 334.44 L437.08 334.51 L437.58 334.6 L438.08 334.72 L438.58 334.86 L439.08 335.01 L439.58 335.17 L440.08 335.34 L440.58 335.52 L441.08 335.69 L441.58 335.86 L442.08 336.03 L442.58 336.19 L443.08 336.37 L443.59 336.56 L444.09 336.76 L444.59 336.96 L445.09 337.17 L445.59 337.39 L446.09 337.62 L446.59 337.84 L447.09 338.08 L447.59 338.31 L448.09 338.54 L448.59 338.78 L449.09 339.03 L449.59 339.28 L450.09 339.54 L450.6 339.8 L451.1 340.07 L451.6 340.35 L452.1 340.63 L452.6 340.91 L453.1 341.21 L453.6 341.5" fill="none" stroke="#ff8a1c" stroke-width="1.45" stroke-linejoin="round" stroke-linecap="round"/>
<path d="M383.3 354.2 L383.8 354.64 L384.3 355.06 L384.81 355.46 L385.31 355.81 L385.81 356.11 L386.31 356.34 L386.81 356.57 L387.32 356.79 L387.82 357 L388.32 357.21 L388.82 357.39 L389.33 357.56 L389.83 357.71 L390.33 357.83 L390.83 357.92 L391.33 357.98 L391.84 358 L392.34 357.99 L392.84 357.96 L393.34 357.91 L393.85 357.85 L394.35 357.77 L394.85 357.68 L395.35 357.58 L395.85 357.47 L396.36 357.36 L396.86 357.25 L397.36 357.14 L397.86 357.03 L398.36 356.92 L398.87 356.81 L399.37 356.68 L399.87 356.55 L400.37 356.41 L400.88 356.26 L401.38 356.11 L401.88 355.96 L402.38 355.8 L402.88 355.65 L403.39 355.49 L403.89 355.33 L404.39 355.18 L404.89 355.03 L405.39 354.88 L405.9 354.74 L406.4 354.59 L406.9 354.44 L407.4 354.29 L407.91 354.15 L408.41 354 L408.91 353.85 L409.41 353.7 L409.91 353.55 L410.42 353.4 L410.92 353.25 L411.42 353.09 L411.92 352.94 L412.42 352.79 L412.93 352.64 L413.43 352.48 L413.93 352.33 L414.43 352.18 L414.94 352.02 L415.44 351.86 L415.94 351.7 L416.44 351.54 L416.94 351.37 L417.45 351.21 L417.95 351.04 L418.45 350.87 L418.95 350.7 L419.45 350.53 L419.96 350.36 L420.46 350.19 L420.96 350.02 L421.46 349.86 L421.97 349.69 L422.47 349.54 L422.97 349.38 L423.47 349.23 L423.97 349.08 L424.48 348.94 L424.98 348.81 L425.48 348.67 L425.98 348.53 L426.48 348.38 L426.99 348.23 L427.49 348.08 L427.99 347.93 L428.49 347.78 L429 347.63 L429.5 347.49 L430 347.35 L430.5 347.22 L431 347.1 L431.51 346.98 L432.01 346.88 L432.51 346.8 L433.01 346.72 L433.51 346.67 L434.02 346.62 L434.52 346.6 L435.02 346.6 L435.52 346.61 L436.03 346.64 L436.53 346.68 L437.03 346.73 L437.53 346.79 L438.03 346.85 L438.54 346.93 L439.04 347 L439.54 347.09 L440.04 347.17 L440.54 347.26 L441.05 347.34 L441.55 347.43 L442.05 347.51 L442.55 347.6 L443.06 347.7 L443.56 347.81 L444.06 347.92 L444.56 348.04 L445.06 348.17 L445.57 348.29 L446.07 348.41 L446.57 348.52 L447.07 348.63 L447.57 348.73 L448.08 348.81 L448.58 348.89 L449.08 348.97 L449.58 349.04 L450.09 349.11 L450.59 349.18 L451.09 349.24 L451.59 349.3 L452.09 349.36 L452.6 349.41 L453.1 349.46 L453.6 349.5" fill="none" stroke="#1a28f0" stroke-width="1.45" stroke-linejoin="round" stroke-linecap="round"/>
</g>
<rect x="275.2" y="314.8" width="178.4" height="130.5" fill="none" stroke="#8a8a8a" stroke-width="0.9"/>
<line x1="289.9" y1="445.3" x2="289.9" y2="443.3" stroke="#3a3a3a" stroke-width="0.6"/>
<line x1="289.9" y1="314.8" x2="289.9" y2="316.8" stroke="#3a3a3a" stroke-width="0.6"/>
<line x1="314.65" y1="445.3" x2="314.65" y2="443.3" stroke="#3a3a3a" stroke-width="0.6"/>
<line x1="314.65" y1="314.8" x2="314.65" y2="316.8" stroke="#3a3a3a" stroke-width="0.6"/>
<line x1="339.4" y1="445.3" x2="339.4" y2="443.3" stroke="#3a3a3a" stroke-width="0.6"/>
<line x1="339.4" y1="314.8" x2="339.4" y2="316.8" stroke="#3a3a3a" stroke-width="0.6"/>
<line x1="364.15" y1="445.3" x2="364.15" y2="443.3" stroke="#3a3a3a" stroke-width="0.6"/>
<line x1="364.15" y1="314.8" x2="364.15" y2="316.8" stroke="#3a3a3a" stroke-width="0.6"/>
<line x1="397.8" y1="445.3" x2="397.8" y2="443.3" stroke="#3a3a3a" stroke-width="0.6"/>
<line x1="397.8" y1="314.8" x2="397.8" y2="316.8" stroke="#3a3a3a" stroke-width="0.6"/>
<line x1="419.1" y1="445.3" x2="419.1" y2="443.3" stroke="#3a3a3a" stroke-width="0.6"/>
<line x1="419.1" y1="314.8" x2="419.1" y2="316.8" stroke="#3a3a3a" stroke-width="0.6"/>
<line x1="440.4" y1="445.3" x2="440.4" y2="443.3" stroke="#3a3a3a" stroke-width="0.6"/>
<line x1="440.4" y1="314.8" x2="440.4" y2="316.8" stroke="#3a3a3a" stroke-width="0.6"/>
<text x="289.9" y="456" font-size="7.6" text-anchor="middle" fill="#231f20" stroke="#231f20" stroke-width="0.16">600</text>
<text x="314.65" y="456" font-size="7.6" text-anchor="middle" fill="#231f20" stroke="#231f20" stroke-width="0.16">700</text>
<text x="339.4" y="456" font-size="7.6" text-anchor="middle" fill="#231f20" stroke="#231f20" stroke-width="0.16">800</text>
<text x="364.15" y="456" font-size="7.6" text-anchor="middle" fill="#231f20" stroke="#231f20" stroke-width="0.16">900</text>
<text x="397.8" y="456" font-size="7.6" text-anchor="middle" fill="#231f20" stroke="#231f20" stroke-width="0.16">1,200</text>
<text x="419.1" y="456" font-size="7.6" text-anchor="middle" fill="#231f20" stroke="#231f20" stroke-width="0.16">1,400</text>
<text x="440.4" y="456" font-size="7.6" text-anchor="middle" fill="#231f20" stroke="#231f20" stroke-width="0.16">1,600</text>
<line x1="275.2" y1="332.4" x2="277.2" y2="332.4" stroke="#3a3a3a" stroke-width="0.6"/>
<line x1="453.6" y1="332.4" x2="451.6" y2="332.4" stroke="#3a3a3a" stroke-width="0.6"/>
<text x="270.5" y="335.1" font-size="7.6" text-anchor="end" fill="#231f20" stroke="#231f20" stroke-width="0.16">0.5</text>
<line x1="275.2" y1="360.6" x2="277.2" y2="360.6" stroke="#3a3a3a" stroke-width="0.6"/>
<line x1="453.6" y1="360.6" x2="451.6" y2="360.6" stroke="#3a3a3a" stroke-width="0.6"/>
<text x="270.5" y="363.3" font-size="7.6" text-anchor="end" fill="#231f20" stroke="#231f20" stroke-width="0.16">0</text>
<line x1="275.2" y1="388.8" x2="277.2" y2="388.8" stroke="#3a3a3a" stroke-width="0.6"/>
<line x1="453.6" y1="388.8" x2="451.6" y2="388.8" stroke="#3a3a3a" stroke-width="0.6"/>
<text x="270.5" y="391.5" font-size="7.6" text-anchor="end" fill="#231f20" stroke="#231f20" stroke-width="0.16">−0.5</text>
<line x1="275.2" y1="417" x2="277.2" y2="417" stroke="#3a3a3a" stroke-width="0.6"/>
<line x1="453.6" y1="417" x2="451.6" y2="417" stroke="#3a3a3a" stroke-width="0.6"/>
<text x="270.5" y="419.7" font-size="7.6" text-anchor="end" fill="#231f20" stroke="#231f20" stroke-width="0.16">−1.0</text>
<line x1="275.2" y1="445.2" x2="277.2" y2="445.2" stroke="#3a3a3a" stroke-width="0.6"/>
<line x1="453.6" y1="445.2" x2="451.6" y2="445.2" stroke="#3a3a3a" stroke-width="0.6"/>
<text x="270.5" y="447.9" font-size="7.6" text-anchor="end" fill="#231f20" stroke="#231f20" stroke-width="0.16">−1.5</text>
<rect x="380.6" y="444.5" width="2.6" height="1.6" fill="#fff"/>
<line x1="379.3" y1="448.1" x2="381.5" y2="442.5" stroke="#444" stroke-width="0.75"/>
<line x1="382.3" y1="448.1" x2="384.5" y2="442.5" stroke="#444" stroke-width="0.75"/>
<rect x="380.6" y="314" width="2.6" height="1.6" fill="#fff"/>
<line x1="379.3" y1="317.6" x2="381.5" y2="312" stroke="#444" stroke-width="0.75"/>
<line x1="382.3" y1="317.6" x2="384.5" y2="312" stroke="#444" stroke-width="0.75"/>
<text x="364.4" y="469.5" font-size="7.9" text-anchor="middle" fill="#231f20" stroke="#231f20" stroke-width="0.16">Wavelength (nm)</text>
<text x="245.4" y="380.3" font-size="7.9" text-anchor="middle" fill="#231f20" stroke="#231f20" stroke-width="0.16" transform="rotate(-90 245.4 380.3)">ΔO.D. (10<tspan dy="-2.6" font-size="5">−3</tspan><tspan dy="2.6">)</tspan></text>
<text x="249.4" y="321.6" font-size="10.8" fill="#231f20" font-weight="bold" stroke="#111" stroke-width="0.5">g</text>
<line x1="375.6" y1="406.5" x2="396.4" y2="406.5" stroke="#ff8a1c" stroke-width="1.5"/>
<text x="401.3" y="409.3" font-size="8" fill="#231f20" stroke="#231f20" stroke-width="0.16">500 ps</text>
<line x1="375.6" y1="417.5" x2="396.4" y2="417.5" stroke="#1a28f0" stroke-width="1.5"/>
<text x="401.3" y="420.3" font-size="8" fill="#231f20" stroke="#231f20" stroke-width="0.16">5,000 ps</text>
<text x="293" y="341.2" font-size="7.6" fill="#231f20" stroke="#231f20" stroke-width="0.16">CS</text>
<line x1="290.3" y1="354.5" x2="290.3" y2="347.5" stroke="#111" stroke-width="0.8"/>
<path d="M290.3 343.6 L291.9 347.8 L288.7 347.8Z" fill="#111"/>
<text x="361.6" y="337.6" font-size="7.6" fill="#231f20" stroke="#231f20" stroke-width="0.16">CS</text>
<line x1="377.9" y1="347.5" x2="377.9" y2="337.5" stroke="#111" stroke-width="0.8"/>
<path d="M377.9 333.4 L379.5 337.6 L376.3 337.6Z" fill="#111"/>
<line x1="343.9" y1="392.5" x2="343.9" y2="371" stroke="#111" stroke-width="0.8"/>
<path d="M343.9 366.9 L345.5 371.1 L342.3 371.1Z" fill="#111"/>
<text x="335.3" y="401.2" font-size="7.6" fill="#231f20" stroke="#231f20" stroke-width="0.16">GSB<tspan dy="1.8" font-size="5">A</tspan></text>
<line x1="293" y1="414.7" x2="293" y2="425" stroke="#111" stroke-width="0.8"/>
<path d="M293 428.9 L291.4 424.7 L294.6 424.7Z" fill="#111"/>
<text x="278.8" y="440.2" font-size="7.6" fill="#231f20" stroke="#231f20" stroke-width="0.16">GSB<tspan dy="1.8" font-size="5">D</tspan></text>
<text x="424" y="330.6" font-size="7.6" fill="#231f20" stroke="#231f20" stroke-width="0.16">T<tspan dy="1.8" font-size="5">1</tspan></text>
<line x1="437" y1="331.5" x2="437" y2="351" stroke="#111" stroke-width="0.8"/>
<path d="M437 354.6 L435.4 350.4 L438.6 350.4Z" fill="#111"/>
<line x1="506.1" y1="416.5" x2="684.6" y2="416.5" stroke="#111" stroke-width="1" stroke-dasharray="3.4 2.3"/>
<g clip-path="url(#cliph)">
<path d="M506.5 417.9 L507 430.65 L507.5 416.24 L508 412.23 L508.5 409.75 L509 408.47 L509.5 407.13 L510 406.21 L510.5 405.06 L511 404.53 L511.5 403.75 L512 403.15 L512.5 402.16 L513 401.43 L513.5 400.42 L514 400.34 L514.5 399.16 L515 399.16 L515.51 398.59 L516.01 398.19 L516.51 397.95 L517.01 397.71 L517.51 397.64 L518.01 397.34 L518.51 397.35 L519.01 396.6 L519.51 396.6 L520.01 396.15 L520.51 396.06 L521.01 395.26 L521.51 395.14 L522.01 394.84 L522.51 394.21 L523.01 394.21 L523.51 393.73 L524.01 393.53 L524.51 393.22 L525.01 392.68 L525.51 392.5 L526.01 392.39 L526.51 392.36 L527.01 392.2 L527.51 391.81 L528.01 391.67 L528.51 391.5 L529.01 391.4 L529.51 391.32 L530.01 391.19 L530.51 391.84 L531.01 390.83 L531.51 390.8 L532.01 390.96 L532.51 390.36 L533.01 390.47 L533.52 390.51 L534.02 390.68 L534.52 389.86 L535.02 390.71 L535.52 390.03 L536.02 390.13 L536.52 390.3 L537.02 390.16 L537.52 390.23 L538.02 389.86 L538.52 389.74 L539.02 389.81 L539.52 389.3 L540.02 390.04 L540.52 389.3 L541.02 389.09 L541.52 390.22 L542.02 389.42 L542.52 389.02 L543.02 390.05 L543.52 389.25 L544.02 389.71 L544.52 389.02 L545.02 389.2 L545.52 388.67 L546.02 388.56 L546.52 388.86 L547.02 389.15 L547.52 389.43 L548.02 389.97 L548.52 388.73 L549.02 389.42 L549.52 388.82 L550.02 388.94 L550.52 388.45 L551.02 388.41 L551.53 388.63 L552.03 388.45 L552.53 388.83 L553.03 388.56 L553.53 389.21 L554.03 388.79 L554.53 388.77 L555.03 389.07 L555.53 388.83 L556.03 388.6 L556.53 388.55 L557.03 388.51 L557.53 388.89 L558.03 388.76 L558.53 388.58 L559.03 388.69 L559.53 388.19 L560.03 388.52 L560.53 387.81 L561.03 388.74 L561.53 388.26 L562.03 388.25 L562.53 388.36 L563.03 388.1 L563.53 387.98 L564.03 388.44 L564.53 388.01 L565.03 387.61 L565.53 388.03 L566.03 387.23 L566.53 388.35 L567.03 387.65 L567.53 387.65 L568.03 388.35 L568.53 388.22 L569.04 387.42 L569.54 387.51 L570.04 387.57 L570.54 387.69 L571.04 386.96 L571.54 386.96 L572.04 387.26 L572.54 386.85 L573.04 386.96 L573.54 386.85 L574.04 386.2 L574.54 386.26 L575.04 385.61 L575.54 386.41 L576.04 386.95 L576.54 386.07 L577.04 386.87 L577.54 386.77 L578.04 386.38 L578.54 386.38 L579.04 386.4 L579.54 386.05 L580.04 386.23 L580.54 386.29 L581.04 386.5 L581.54 386.53 L582.04 385.96 L582.54 386.48 L583.04 385.88 L583.54 386.04 L584.04 386.18 L584.54 385.98 L585.04 385.87 L585.54 385.94 L586.04 385.58 L586.54 385.46 L587.05 385.54 L587.55 385.86 L588.05 385.4 L588.55 386.01 L589.05 385.33 L589.55 384.12 L590.05 384.91 L590.55 385.55 L591.05 384.88 L591.55 384.63 L592.05 384.39 L592.55 385.07 L593.05 384.87 L593.55 384.67 L594.05 384.5 L594.55 384.78 L595.05 384.49 L595.55 383.71 L596.05 384.34 L596.55 384.06 L597.05 383.9 L597.55 384.14 L598.05 383.82 L598.55 382.71 L599.05 384.22 L599.55 383.98 L600.05 383.51 L600.55 383.36 L601.05 383.5 L601.55 382.91 L602.05 383.41 L602.55 383.16 L603.05 383.06 L603.55 382.8 L604.05 382.83 L604.56 383.39 L605.06 383.41 L605.56 383.07 L606.06 382.82 L606.56 382.47 L607.06 382.97 L607.56 383.23 L608.06 382.04 L608.56 382.97 L609.06 381.74 L609.56 382.33 L610.06 382.53 L610.56 381.86 L611.06 381.76 L611.56 382.3 L612.06 382.49 L612.56 381.97 L613.06 382.56 L613.56 381.77 L614.06 382.61 L614.56 381.99 L615.06 381.98 L615.56 382.07 L616.06 381.92 L616.56 382.41 L617.06 382.49 L617.56 381.86 L618.06 381.56 L618.56 381.16 L619.06 381.27 L619.56 381.49 L620.06 381.4 L620.56 381.38 L621.06 381.35 L621.56 381.48 L622.06 380.78 L622.57 380.85 L623.07 381.56 L623.57 381.41 L624.07 380.88 L624.57 381.48 L625.07 380.74 L625.57 380.84 L626.07 380.24 L626.57 381.12 L627.07 380.77 L627.57 381.1 L628.07 380.92 L628.57 380.65 L629.07 380.62 L629.57 380.93 L630.07 380.41 L630.57 380.36 L631.07 380.39 L631.57 380.59 L632.07 380.58 L632.57 380.88 L633.07 380.14 L633.57 380.56 L634.07 379.84 L634.57 380.23 L635.07 380.02 L635.57 380.54 L636.07 380.1 L636.57 379.69 L637.07 380.01 L637.57 379.89 L638.07 379.62 L638.57 379.59 L639.07 379.32 L639.57 380.58 L640.08 379.63 L640.58 379.89 L641.08 379.1 L641.58 379.1 L642.08 379.39 L642.58 379.36 L643.08 379.66 L643.58 378.99 L644.08 379.5 L644.58 379.81 L645.08 378.92 L645.58 379.53 L646.08 378.84 L646.58 379.27 L647.08 379.24 L647.58 379.69 L648.08 378.81 L648.58 379.08 L649.08 379.35 L649.58 378.55 L650.08 378.92 L650.58 378.59 L651.08 378.61 L651.58 379.07 L652.08 379.04 L652.58 379.66 L653.08 379.21 L653.58 379.14 L654.08 378.6 L654.58 378.52 L655.08 378.64 L655.58 377.76 L656.08 379.1 L656.58 378.26 L657.08 378.09 L657.58 378.26 L658.09 378.7 L658.59 378.79 L659.09 378.19 L659.59 378.45 L660.09 378.24 L660.59 377.89 L661.09 378.27 L661.59 378.19 L662.09 377.61 L662.59 378.51 L663.09 377.55 L663.59 378.15 L664.09 377.68 L664.59 377.74 L665.09 377.76 L665.59 378.23 L666.09 377.52 L666.59 377.88 L667.09 378.47 L667.59 377.66 L668.09 377.87 L668.59 378.09 L669.09 377.64 L669.59 377.99 L670.09 377.57 L670.59 378.03 L671.09 377.79 L671.59 377.42 L672.09 378.22 L672.59 377.68 L673.09 377.6 L673.59 377.35 L674.09 377.5 L674.59 377.61 L675.09 377.69 L675.59 378 L676.1 377.13 L676.6 377.46 L677.1 377.99 L677.6 377.62 L678.1 377.68 L678.6 378.08 L679.1 377.63 L679.6 377.66 L680.1 377.47 L680.6 378.1 L681.1 377.83 L681.6 377.2 L682.1 377.64 L682.6 377.03 L683.1 377.81 L683.6 377.65 L684.1 377.35 L684.6 377.26" fill="none" stroke="#1a28f0" stroke-width="1.4" stroke-linejoin="round" stroke-linecap="round"/>
<path d="M506.5 415.88 L507 335.98 L507.5 350.18 L508 352.56 L508.5 353.8 L509 354.38 L509.5 355.02 L510 355.66 L510.5 356.47 L511 357.13 L511.5 357.46 L512 357.82 L512.5 358.51 L513 359.57 L513.5 360.05 L514 360.45 L514.5 361.37 L515 361.83 L515.51 362.53 L516.01 363.19 L516.51 363.77 L517.01 364.53 L517.51 364.92 L518.01 365.22 L518.51 365.66 L519.01 365.99 L519.51 365.87 L520.01 366.3 L520.51 366.4 L521.01 366.72 L521.51 366.73 L522.01 367.1 L522.51 367.25 L523.01 367.36 L523.51 367.4 L524.01 367.65 L524.51 367.69 L525.01 367.8 L525.51 368.19 L526.01 368.14 L526.51 368.63 L527.01 368.71 L527.51 368.44 L528.01 368.92 L528.51 368.85 L529.01 369.16 L529.51 369.29 L530.01 368.71 L530.51 369.44 L531.01 369.54 L531.51 370.06 L532.01 369.4 L532.51 370.16 L533.01 369.59 L533.52 369.92 L534.02 369.8 L534.52 370.66 L535.02 370.4 L535.52 371.1 L536.02 370.52 L536.52 370.63 L537.02 370.66 L537.52 370.19 L538.02 370.41 L538.52 370.94 L539.02 370.36 L539.52 370.6 L540.02 370.56 L540.52 370.81 L541.02 370.51 L541.52 370.62 L542.02 370.79 L542.52 370.78 L543.02 370.49 L543.52 371.15 L544.02 370.43 L544.52 370.52 L545.02 370.55 L545.52 371.42 L546.02 371.05 L546.52 370.94 L547.02 371.01 L547.52 371.68 L548.02 371.28 L548.52 371.33 L549.02 372.1 L549.52 371.56 L550.02 371.94 L550.52 372.09 L551.02 371.97 L551.53 372.13 L552.03 372.64 L552.53 372.02 L553.03 371.78 L553.53 371.6 L554.03 372.19 L554.53 372.16 L555.03 372.4 L555.53 372.16 L556.03 372.18 L556.53 372.11 L557.03 372.19 L557.53 372.45 L558.03 372.27 L558.53 372.45 L559.03 373.1 L559.53 372.61 L560.03 371.9 L560.53 373.07 L561.03 372.59 L561.53 372.15 L562.03 372.8 L562.53 372.49 L563.03 372.28 L563.53 372.27 L564.03 372.15 L564.53 372.52 L565.03 372.87 L565.53 372.39 L566.03 372.64 L566.53 373.15 L567.03 372.06 L567.53 372.57 L568.03 372.36 L568.53 372.09 L569.04 372.09 L569.54 372.43 L570.04 372.58 L570.54 372.22 L571.04 372.41 L571.54 372.63 L572.04 372.46 L572.54 372.65 L573.04 372.49 L573.54 372.48 L574.04 372.92 L574.54 372.48 L575.04 372.29 L575.54 372.47 L576.04 371.88 L576.54 372.06 L577.04 372.43 L577.54 372.35 L578.04 372.65 L578.54 372.09 L579.04 371.54 L579.54 372.71 L580.04 372.38 L580.54 371.59 L581.04 372.4 L581.54 371.89 L582.04 371.2 L582.54 371.64 L583.04 371.56 L583.54 372.25 L584.04 371.36 L584.54 371.5 L585.04 371.44 L585.54 371.35 L586.04 371.11 L586.54 371.45 L587.05 371.7 L587.55 371.48 L588.05 370.88 L588.55 370.75 L589.05 371.14 L589.55 370.8 L590.05 370.77 L590.55 370.35 L591.05 371.57 L591.55 371.15 L592.05 370.43 L592.55 371.03 L593.05 371.12 L593.55 369.76 L594.05 370.34 L594.55 370.33 L595.05 370.63 L595.55 370.3 L596.05 370.2 L596.55 370.19 L597.05 370.8 L597.55 370.84 L598.05 369.84 L598.55 369.64 L599.05 370.84 L599.55 369.49 L600.05 369.58 L600.55 369.73 L601.05 369.83 L601.55 369.97 L602.05 369.69 L602.55 369.2 L603.05 369.63 L603.55 369.49 L604.05 370.02 L604.56 369.31 L605.06 368.8 L605.56 368.87 L606.06 369.7 L606.56 368.96 L607.06 368.38 L607.56 368.87 L608.06 369.04 L608.56 369.42 L609.06 368.61 L609.56 369.16 L610.06 369.17 L610.56 368.61 L611.06 368.76 L611.56 369.4 L612.06 369.35 L612.56 369.01 L613.06 368.79 L613.56 369.03 L614.06 368.55 L614.56 368.52 L615.06 368.21 L615.56 368.47 L616.06 368.4 L616.56 369.35 L617.06 368.27 L617.56 368.74 L618.06 368.71 L618.56 368.14 L619.06 368.57 L619.56 367.35 L620.06 368.1 L620.56 368.33 L621.06 367.15 L621.56 367.54 L622.06 368.27 L622.57 367.77 L623.07 367.44 L623.57 367.66 L624.07 367.56 L624.57 367.97 L625.07 367.84 L625.57 367.55 L626.07 367.39 L626.57 367.57 L627.07 368.02 L627.57 367.65 L628.07 367.72 L628.57 367.42 L629.07 366.99 L629.57 367.17 L630.07 367.62 L630.57 367.4 L631.07 367.02 L631.57 366.74 L632.07 367.32 L632.57 367.14 L633.07 367.11 L633.57 367.09 L634.07 367.28 L634.57 367.26 L635.07 367.47 L635.57 367.44 L636.07 367.55 L636.57 367.35 L637.07 366.92 L637.57 367 L638.07 367.17 L638.57 366.86 L639.07 367.14 L639.57 367.32 L640.08 366.62 L640.58 366.25 L641.08 367.27 L641.58 366.83 L642.08 367.05 L642.58 366.31 L643.08 367.36 L643.58 366.99 L644.08 366.66 L644.58 366.56 L645.08 366.7 L645.58 366.57 L646.08 366.51 L646.58 366.19 L647.08 367.01 L647.58 366.53 L648.08 366.54 L648.58 366.53 L649.08 365.65 L649.58 366.63 L650.08 366.31 L650.58 366.3 L651.08 366.41 L651.58 366.02 L652.08 366.63 L652.58 366.07 L653.08 365.98 L653.58 365.97 L654.08 366.3 L654.58 366.49 L655.08 366 L655.58 365.66 L656.08 366.53 L656.58 365.77 L657.08 366.54 L657.58 366.08 L658.09 365.83 L658.59 365.83 L659.09 366.2 L659.59 366.33 L660.09 365.93 L660.59 366.31 L661.09 366.69 L661.59 365.86 L662.09 365.51 L662.59 365.53 L663.09 365.39 L663.59 365.63 L664.09 365.58 L664.59 365.35 L665.09 365.98 L665.59 364.86 L666.09 365.3 L666.59 366.44 L667.09 366.08 L667.59 365.88 L668.09 365.84 L668.59 366.28 L669.09 365.83 L669.59 365.65 L670.09 365.18 L670.59 365.56 L671.09 365.31 L671.59 365.3 L672.09 365.28 L672.59 365.5 L673.09 365.38 L673.59 365.78 L674.09 364.99 L674.59 365.38 L675.09 366.07 L675.59 365.42 L676.1 365.81 L676.6 365.77 L677.1 365.81 L677.6 365.59 L678.1 364.83 L678.6 365.21 L679.1 365.15 L679.6 364.72 L680.1 365.09 L680.6 364.79 L681.1 364.63 L681.6 365.27 L682.1 365.17 L682.6 364.92 L683.1 364.82 L683.6 364.94 L684.1 364.98 L684.6 364.96" fill="none" stroke="#1f8a1f" stroke-width="1.4" stroke-linejoin="round" stroke-linecap="round"/>
<path d="M506.6 416 L506.75 329.8 L507.3 343 L507.8 350.5" fill="none" stroke="#1f8a1f" stroke-width="1.4" stroke-linejoin="round" stroke-linecap="round"/>
<path d="M506.5 402.11 L507 380.71 L507.5 368.54 L508 367.12 L508.5 366.1 L509 364.7 L509.5 363.29 L510 362.21 L510.5 361.19 L511 360.44 L511.5 359.71 L512 358.96 L512.5 358.41 L513 358 L513.5 357.41 L514 357.12 L514.5 356.68 L515 356.31 L515.51 355.74 L516.01 355.52 L516.51 354.93 L517.01 354.6 L517.51 354.35 L518.01 354.02 L518.51 353.47 L519.01 353.07 L519.51 352.88 L520.01 352.39 L520.51 352.26 L521.01 351.9 L521.51 351.68 L522.01 351.55 L522.51 351.51 L523.01 351.3 L523.51 351.34 L524.01 351.09 L524.51 351.05 L525.01 350.93 L525.51 351 L526.01 350.88 L526.51 350.74 L527.01 350.97 L527.51 350.69 L528.01 350.67 L528.51 350.67 L529.01 350.76 L529.51 350.53 L530.01 350.63 L530.51 350.47 L531.01 350.14 L531.51 350.51 L532.01 350.5 L532.51 350.23 L533.01 350.23 L533.52 349.92 L534.02 349.88 L534.52 350.04 L535.02 350.18 L535.52 349.95 L536.02 350.05 L536.52 350.13 L537.02 349.94 L537.52 349.99 L538.02 350.11 L538.52 349.59 L539.02 349.92 L539.52 349.42 L540.02 349.8 L540.52 349.73 L541.02 349.57 L541.52 349.45 L542.02 349.61 L542.52 349.52 L543.02 349.59 L543.52 349.39 L544.02 349.63 L544.52 349.33 L545.02 349.44 L545.52 349.41 L546.02 349.7 L546.52 349.18 L547.02 349.36 L547.52 349.64 L548.02 349.29 L548.52 349.17 L549.02 349.43 L549.52 349.31 L550.02 349.5 L550.52 349.17 L551.02 349.36 L551.53 349.43 L552.03 349.49 L552.53 349.09 L553.03 349.54 L553.53 349.11 L554.03 348.99 L554.53 349.08 L555.03 349.27 L555.53 349.18 L556.03 349.31 L556.53 349.31 L557.03 349.27 L557.53 349.17 L558.03 349.53 L558.53 348.81 L559.03 348.89 L559.53 349.11 L560.03 348.97 L560.53 348.74 L561.03 349.06 L561.53 349.07 L562.03 348.77 L562.53 349.37 L563.03 349.46 L563.53 349.45 L564.03 349.15 L564.53 349.27 L565.03 349.06 L565.53 349.31 L566.03 349.16 L566.53 349.37 L567.03 349.25 L567.53 349.51 L568.03 349.48 L568.53 349.57 L569.04 349.08 L569.54 349.06 L570.04 349.47 L570.54 349.32 L571.04 349.52 L571.54 349.53 L572.04 349.54 L572.54 349.71 L573.04 349.68 L573.54 349.71 L574.04 349.52 L574.54 350.04 L575.04 349.82 L575.54 350.06 L576.04 349.99 L576.54 350.24 L577.04 350.12 L577.54 350.22 L578.04 350.29 L578.54 350.26 L579.04 350.46 L579.54 350.78 L580.04 351.09 L580.54 351.26 L581.04 352.23 L581.54 352.01 L582.04 352.53 L582.54 353.41 L583.04 353.23 L583.54 353.84 L584.04 354.15 L584.54 354.29 L585.04 354.38 L585.54 354.66 L586.04 355.24 L586.54 355.61 L587.05 355.45 L587.55 356.16 L588.05 356.3 L588.55 356.86 L589.05 357.01 L589.55 357.11 L590.05 357.45 L590.55 357.8 L591.05 358.3 L591.55 358.87 L592.05 358.65 L592.55 358.87 L593.05 359.23 L593.55 359.37 L594.05 359.75 L594.55 359.96 L595.05 360.14 L595.55 360.24 L596.05 360.66 L596.55 361.04 L597.05 361.13 L597.55 361.62 L598.05 361.75 L598.55 361.78 L599.05 362.33 L599.55 362.03 L600.05 362.66 L600.55 362.98 L601.05 362.8 L601.55 363.02 L602.05 363.4 L602.55 363.67 L603.05 363.67 L603.55 363.81 L604.05 364.11 L604.56 364.16 L605.06 364.06 L605.56 364.41 L606.06 364.6 L606.56 364.49 L607.06 364.99 L607.56 364.93 L608.06 365.35 L608.56 365.09 L609.06 365.33 L609.56 365.37 L610.06 366 L610.56 366.14 L611.06 366.3 L611.56 366.43 L612.06 366.45 L612.56 366.56 L613.06 366.21 L613.56 366.69 L614.06 366.65 L614.56 366.79 L615.06 366.73 L615.56 367.29 L616.06 367.18 L616.56 366.99 L617.06 367.45 L617.56 367.44 L618.06 367.37 L618.56 367.6 L619.06 367.62 L619.56 367.45 L620.06 367.69 L620.56 368.16 L621.06 368.24 L621.56 368.34 L622.06 368.2 L622.57 368.42 L623.07 368.66 L623.57 368.9 L624.07 368.75 L624.57 368.83 L625.07 369.36 L625.57 369.29 L626.07 369.34 L626.57 369.4 L627.07 369.55 L627.57 370.08 L628.07 370.1 L628.57 369.99 L629.07 369.97 L629.57 370.63 L630.07 370.74 L630.57 370.81 L631.07 370.88 L631.57 370.52 L632.07 370.76 L632.57 371.22 L633.07 371.2 L633.57 371.43 L634.07 371.42 L634.57 371.53 L635.07 371.88 L635.57 371.85 L636.07 372.06 L636.57 372.24 L637.07 372.37 L637.57 372.68 L638.07 372.85 L638.57 372.5 L639.07 372.84 L639.57 372.91 L640.08 373.3 L640.58 373.11 L641.08 373.58 L641.58 373.7 L642.08 373.81 L642.58 373.67 L643.08 373.93 L643.58 373.91 L644.08 374.3 L644.58 374.53 L645.08 374.21 L645.58 374.45 L646.08 374.69 L646.58 374.74 L647.08 375.22 L647.58 375.03 L648.08 375.22 L648.58 375.08 L649.08 375.67 L649.58 375.53 L650.08 375.74 L650.58 375.72 L651.08 375.43 L651.58 375.63 L652.08 375.79 L652.58 376.2 L653.08 376.13 L653.58 376.4 L654.08 376.47 L654.58 376.56 L655.08 376.78 L655.58 376.75 L656.08 376.52 L656.58 376.79 L657.08 377.31 L657.58 376.92 L658.09 377.46 L658.59 377.61 L659.09 377.31 L659.59 377.58 L660.09 377.37 L660.59 377.86 L661.09 377.68 L661.59 377.69 L662.09 377.96 L662.59 378.05 L663.09 378.13 L663.59 378.38 L664.09 378.41 L664.59 378.43 L665.09 378.82 L665.59 379.19 L666.09 378.87 L666.59 378.83 L667.09 378.88 L667.59 379.27 L668.09 379.22 L668.59 379.36 L669.09 379.1 L669.59 379.35 L670.09 379.44 L670.59 379.91 L671.09 379.79 L671.59 379.48 L672.09 380.1 L672.59 380.31 L673.09 380.43 L673.59 379.77 L674.09 380.39 L674.59 380.6 L675.09 380.64 L675.59 380.58 L676.1 380.38 L676.6 380.71 L677.1 380.81 L677.6 381.05 L678.1 381.14 L678.6 381.07 L679.1 381.34 L679.6 381.08 L680.1 381.22 L680.6 381.41 L681.1 381.6 L681.6 381.51 L682.1 381.87 L682.6 381.79 L683.1 381.62 L683.6 381.88 L684.1 381.77 L684.6 381.83" fill="none" stroke="#ff8a1c" stroke-width="1.4" stroke-linejoin="round" stroke-linecap="round"/>
</g>
<rect x="506.1" y="315.1" width="178.5" height="129.9" fill="none" stroke="#8a8a8a" stroke-width="0.9"/>
<line x1="506.4" y1="445" x2="506.4" y2="443" stroke="#3a3a3a" stroke-width="0.6"/>
<line x1="506.4" y1="315.1" x2="506.4" y2="317.1" stroke="#3a3a3a" stroke-width="0.6"/>
<line x1="534.9" y1="445" x2="534.9" y2="443" stroke="#3a3a3a" stroke-width="0.6"/>
<line x1="534.9" y1="315.1" x2="534.9" y2="317.1" stroke="#3a3a3a" stroke-width="0.6"/>
<line x1="563.4" y1="445" x2="563.4" y2="443" stroke="#3a3a3a" stroke-width="0.6"/>
<line x1="563.4" y1="315.1" x2="563.4" y2="317.1" stroke="#3a3a3a" stroke-width="0.6"/>
<line x1="614.2" y1="445" x2="614.2" y2="443" stroke="#3a3a3a" stroke-width="0.6"/>
<line x1="614.2" y1="315.1" x2="614.2" y2="317.1" stroke="#3a3a3a" stroke-width="0.6"/>
<line x1="664" y1="445" x2="664" y2="443" stroke="#3a3a3a" stroke-width="0.6"/>
<line x1="664" y1="315.1" x2="664" y2="317.1" stroke="#3a3a3a" stroke-width="0.6"/>
<text x="506.4" y="456" font-size="7.6" text-anchor="middle" fill="#231f20" stroke="#231f20" stroke-width="0.16">0</text>
<text x="534.9" y="456" font-size="7.6" text-anchor="middle" fill="#231f20" stroke="#231f20" stroke-width="0.16">200</text>
<text x="563.4" y="456" font-size="7.6" text-anchor="middle" fill="#231f20" stroke="#231f20" stroke-width="0.16">400</text>
<text x="614.2" y="456" font-size="7.6" text-anchor="middle" fill="#231f20" stroke="#231f20" stroke-width="0.16">2,000</text>
<text x="664" y="456" font-size="7.6" text-anchor="middle" fill="#231f20" stroke="#231f20" stroke-width="0.16">4,000</text>
<line x1="506.1" y1="329.48" x2="508.1" y2="329.48" stroke="#3a3a3a" stroke-width="0.6"/>
<line x1="684.6" y1="329.48" x2="682.6" y2="329.48" stroke="#3a3a3a" stroke-width="0.6"/>
<text x="502" y="332.18" font-size="7.6" text-anchor="end" fill="#231f20" stroke="#231f20" stroke-width="0.16">0.6</text>
<line x1="506.1" y1="358.52" x2="508.1" y2="358.52" stroke="#3a3a3a" stroke-width="0.6"/>
<line x1="684.6" y1="358.52" x2="682.6" y2="358.52" stroke="#3a3a3a" stroke-width="0.6"/>
<text x="502" y="361.22" font-size="7.6" text-anchor="end" fill="#231f20" stroke="#231f20" stroke-width="0.16">0.4</text>
<line x1="506.1" y1="387.56" x2="508.1" y2="387.56" stroke="#3a3a3a" stroke-width="0.6"/>
<line x1="684.6" y1="387.56" x2="682.6" y2="387.56" stroke="#3a3a3a" stroke-width="0.6"/>
<text x="502" y="390.26" font-size="7.6" text-anchor="end" fill="#231f20" stroke="#231f20" stroke-width="0.16">0.2</text>
<line x1="506.1" y1="416.6" x2="508.1" y2="416.6" stroke="#3a3a3a" stroke-width="0.6"/>
<line x1="684.6" y1="416.6" x2="682.6" y2="416.6" stroke="#3a3a3a" stroke-width="0.6"/>
<text x="502" y="419.3" font-size="7.6" text-anchor="end" fill="#231f20" stroke="#231f20" stroke-width="0.16">0</text>
<line x1="506.1" y1="445.64" x2="508.1" y2="445.64" stroke="#3a3a3a" stroke-width="0.6"/>
<line x1="684.6" y1="445.64" x2="682.6" y2="445.64" stroke="#3a3a3a" stroke-width="0.6"/>
<text x="502" y="448.34" font-size="7.6" text-anchor="end" fill="#231f20" stroke="#231f20" stroke-width="0.16">−0.2</text>
<line x1="576.3" y1="447.8" x2="578.9" y2="442.2" stroke="#444" stroke-width="0.75"/>
<line x1="576.3" y1="317.9" x2="578.9" y2="312.3" stroke="#444" stroke-width="0.75"/>
<text x="595.3" y="469.5" font-size="7.9" text-anchor="middle" fill="#231f20" stroke="#231f20" stroke-width="0.16">Time delay (ps)</text>
<text x="479" y="380.3" font-size="7.9" text-anchor="middle" fill="#231f20" stroke="#231f20" stroke-width="0.16" transform="rotate(-90 479 380.3)">ΔO.D. (10<tspan dy="-2.6" font-size="5">−3</tspan><tspan dy="2.6">)</tspan></text>
<text x="481.5" y="321" font-size="10.5" fill="#231f20" font-weight="bold" stroke="#111" stroke-width="0.5">h</text>
<line x1="616.7" y1="323.8" x2="636.5" y2="323.8" stroke="#1a28f0" stroke-width="1.5"/>
<text x="641.8" y="326.6" font-size="8" fill="#231f20" stroke="#231f20" stroke-width="0.16">630 nm</text>
<line x1="616.7" y1="335" x2="636.5" y2="335" stroke="#1f8a1f" stroke-width="1.5"/>
<text x="641.8" y="337.8" font-size="8" fill="#231f20" stroke="#231f20" stroke-width="0.16">950 nm</text>
<line x1="616.7" y1="346" x2="636.5" y2="346" stroke="#ff8a1c" stroke-width="1.5"/>
<text x="641.8" y="348.8" font-size="8" fill="#231f20" stroke="#231f20" stroke-width="0.16">1,560 nm</text>
<text x="574.3" y="347.7" font-size="7.6" fill="#231f20" stroke="#231f20" stroke-width="0.16">T<tspan dy="1.8" font-size="5">1</tspan></text>
<text x="570.7" y="383.3" font-size="7.6" fill="#231f20" stroke="#231f20" stroke-width="0.16">CS</text>
<line x1="583" y1="376" x2="587.5" y2="371.5" stroke="#555" stroke-width="0.5"/>
<line x1="583" y1="383" x2="588" y2="385.2" stroke="#555" stroke-width="0.5"/>
<line x1="596.2" y1="352.4" x2="622.05" y2="361.75" stroke="#111" stroke-width="0.7"/>
<path d="M624.4 362.6 L621.02 362.55 L621.76 360.48Z" fill="#111"/>
<line x1="596.2" y1="375.3" x2="621.91" y2="372.75" stroke="#111" stroke-width="0.7"/>
<path d="M624.4 372.5 L621.32 373.91 L621.11 371.72Z" fill="#111"/>
<line x1="596.2" y1="389.5" x2="621.92" y2="385.85" stroke="#111" stroke-width="0.7"/>
<path d="M624.4 385.5 L621.39 387.04 L621.08 384.86Z" fill="#111"/>
<text x="0" y="147.5" font-size="10.5" fill="#231f20" font-weight="bold" stroke="#111" stroke-width="0.5">c</text>
<text x="482" y="148" font-size="10.5" fill="#231f20" font-weight="bold" stroke="#111" stroke-width="0.5">e</text>
</svg>
</body></html>
